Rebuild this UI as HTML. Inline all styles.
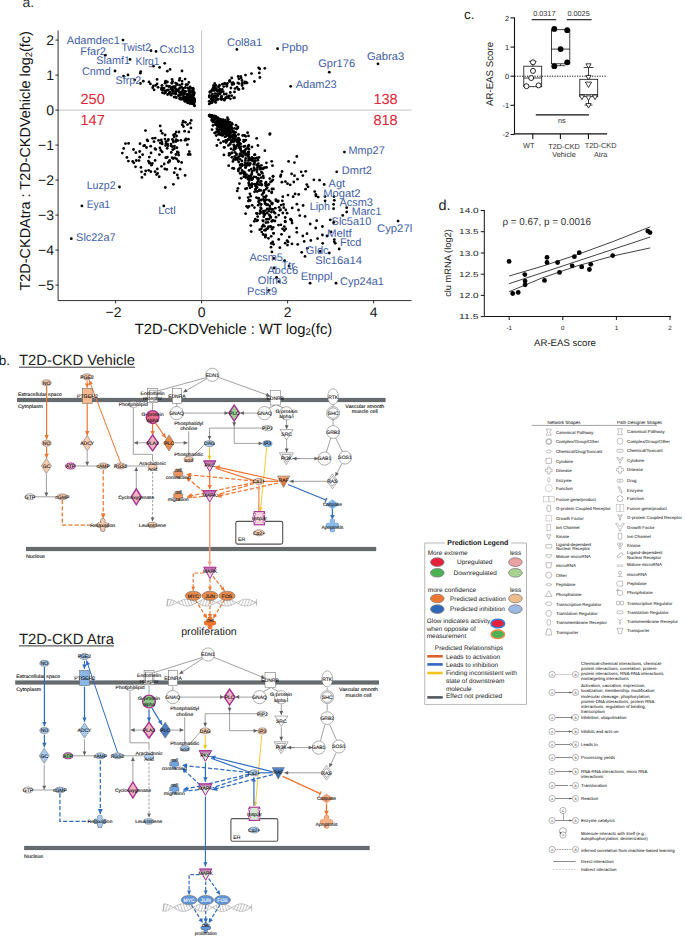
<!DOCTYPE html>
<html><head><meta charset="utf-8"><title>Figure</title>
<style>html,body{margin:0;padding:0;background:#fff}body{width:685px;height:937px;overflow:hidden;font-family:"Liberation Sans",sans-serif}svg{display:block}</style>
</head><body>
<svg width="685" height="937" viewBox="0 0 685 937" font-family="'Liberation Sans', sans-serif" text-rendering="geometricPrecision">
<defs><linearGradient id="gmag" x1="0" y1="0" x2="0" y2="1"><stop offset="0" stop-color="#b757a4"/><stop offset="0.45" stop-color="#e9b4d0"/><stop offset="1" stop-color="#fdeef3"/></linearGradient><linearGradient id="gmagg" x1="0" y1="0" x2="0" y2="1"><stop offset="0" stop-color="#b757a4"/><stop offset="0.4" stop-color="#cfe3cd"/><stop offset="1" stop-color="#e9f4e7"/></linearGradient><linearGradient id="gor" x1="0" y1="0" x2="0" y2="1"><stop offset="0" stop-color="#f4b48c"/><stop offset="0.4" stop-color="#e8834a"/><stop offset="1" stop-color="#e37a40"/></linearGradient><linearGradient id="gbl" x1="0" y1="0" x2="0" y2="1"><stop offset="0" stop-color="#5d8fd0"/><stop offset="0.4" stop-color="#3f73b8"/><stop offset="1" stop-color="#386bb0"/></linearGradient></defs>
<rect width="685" height="937" fill="#fff"/>
<g id="pa"><g fill="#000">
<circle cx="220.1" cy="128.7" r="1.4"/>
<circle cx="235.2" cy="137.2" r="1.4"/>
<circle cx="229.9" cy="129.7" r="1.4"/>
<circle cx="213.0" cy="117.7" r="1.4"/>
<circle cx="235.4" cy="147.3" r="1.4"/>
<circle cx="230.4" cy="123.8" r="1.4"/>
<circle cx="220.4" cy="134.3" r="1.4"/>
<circle cx="224.9" cy="124.2" r="1.4"/>
<circle cx="258.8" cy="165.9" r="1.4"/>
<circle cx="267.1" cy="213.2" r="1.4"/>
<circle cx="254.0" cy="167.7" r="1.4"/>
<circle cx="232.9" cy="141.4" r="1.4"/>
<circle cx="255.8" cy="184.6" r="1.4"/>
<circle cx="219.5" cy="119.2" r="1.4"/>
<circle cx="264.4" cy="213.6" r="1.4"/>
<circle cx="215.7" cy="121.2" r="1.4"/>
<circle cx="223.5" cy="125.6" r="1.4"/>
<circle cx="226.5" cy="135.5" r="1.4"/>
<circle cx="227.9" cy="134.1" r="1.4"/>
<circle cx="264.6" cy="201.6" r="1.4"/>
<circle cx="213.4" cy="118.5" r="1.4"/>
<circle cx="212.0" cy="129.6" r="1.4"/>
<circle cx="261.2" cy="204.5" r="1.4"/>
<circle cx="215.5" cy="119.2" r="1.4"/>
<circle cx="296.6" cy="228.1" r="1.4"/>
<circle cx="238.3" cy="157.5" r="1.4"/>
<circle cx="233.7" cy="134.3" r="1.4"/>
<circle cx="224.7" cy="126.2" r="1.4"/>
<circle cx="263.7" cy="168.0" r="1.4"/>
<circle cx="249.0" cy="206.4" r="1.4"/>
<circle cx="235.0" cy="138.6" r="1.4"/>
<circle cx="216.7" cy="120.6" r="1.4"/>
<circle cx="226.5" cy="129.8" r="1.4"/>
<circle cx="233.8" cy="131.7" r="1.4"/>
<circle cx="229.2" cy="131.6" r="1.4"/>
<circle cx="223.8" cy="125.9" r="1.4"/>
<circle cx="261.2" cy="183.8" r="1.4"/>
<circle cx="256.5" cy="164.8" r="1.4"/>
<circle cx="266.4" cy="162.8" r="1.4"/>
<circle cx="211.8" cy="120.6" r="1.4"/>
<circle cx="249.9" cy="184.9" r="1.4"/>
<circle cx="222.7" cy="123.6" r="1.4"/>
<circle cx="232.6" cy="168.2" r="1.4"/>
<circle cx="216.8" cy="128.7" r="1.4"/>
<circle cx="227.3" cy="140.6" r="1.4"/>
<circle cx="247.5" cy="163.0" r="1.4"/>
<circle cx="287.1" cy="240.6" r="1.4"/>
<circle cx="288.0" cy="241.8" r="1.4"/>
<circle cx="236.1" cy="148.2" r="1.4"/>
<circle cx="222.8" cy="132.8" r="1.4"/>
<circle cx="218.8" cy="123.1" r="1.4"/>
<circle cx="220.0" cy="122.3" r="1.4"/>
<circle cx="251.2" cy="177.8" r="1.4"/>
<circle cx="244.7" cy="174.3" r="1.4"/>
<circle cx="260.0" cy="169.2" r="1.4"/>
<circle cx="233.8" cy="159.3" r="1.4"/>
<circle cx="228.6" cy="135.4" r="1.4"/>
<circle cx="229.9" cy="125.4" r="1.4"/>
<circle cx="210.1" cy="115.1" r="1.4"/>
<circle cx="216.2" cy="119.1" r="1.4"/>
<circle cx="272.3" cy="203.1" r="1.4"/>
<circle cx="238.4" cy="144.0" r="1.4"/>
<circle cx="228.0" cy="121.5" r="1.4"/>
<circle cx="272.1" cy="204.0" r="1.4"/>
<circle cx="214.2" cy="117.6" r="1.4"/>
<circle cx="248.7" cy="145.2" r="1.4"/>
<circle cx="239.2" cy="147.4" r="1.4"/>
<circle cx="230.3" cy="127.6" r="1.4"/>
<circle cx="261.4" cy="171.9" r="1.4"/>
<circle cx="215.3" cy="117.1" r="1.4"/>
<circle cx="254.7" cy="169.3" r="1.4"/>
<circle cx="232.9" cy="161.4" r="1.4"/>
<circle cx="209.4" cy="115.2" r="1.4"/>
<circle cx="213.0" cy="125.4" r="1.4"/>
<circle cx="217.6" cy="121.2" r="1.4"/>
<circle cx="241.9" cy="160.9" r="1.4"/>
<circle cx="239.0" cy="142.3" r="1.4"/>
<circle cx="218.8" cy="123.4" r="1.4"/>
<circle cx="237.8" cy="128.1" r="1.4"/>
<circle cx="255.8" cy="177.1" r="1.4"/>
<circle cx="266.3" cy="195.9" r="1.4"/>
<circle cx="215.6" cy="119.7" r="1.4"/>
<circle cx="290.6" cy="219.2" r="1.4"/>
<circle cx="223.7" cy="123.4" r="1.4"/>
<circle cx="236.6" cy="129.0" r="1.4"/>
<circle cx="222.6" cy="127.9" r="1.4"/>
<circle cx="214.6" cy="132.8" r="1.4"/>
<circle cx="260.1" cy="210.7" r="1.4"/>
<circle cx="218.4" cy="134.3" r="1.4"/>
<circle cx="285.8" cy="210.0" r="1.4"/>
<circle cx="214.4" cy="117.7" r="1.4"/>
<circle cx="248.4" cy="146.5" r="1.4"/>
<circle cx="265.7" cy="235.0" r="1.4"/>
<circle cx="211.0" cy="116.7" r="1.4"/>
<circle cx="216.9" cy="145.5" r="1.4"/>
<circle cx="248.8" cy="176.0" r="1.4"/>
<circle cx="212.7" cy="119.0" r="1.4"/>
<circle cx="231.6" cy="137.0" r="1.4"/>
<circle cx="248.7" cy="152.0" r="1.4"/>
<circle cx="273.2" cy="227.3" r="1.4"/>
<circle cx="263.2" cy="234.5" r="1.4"/>
<circle cx="237.9" cy="127.0" r="1.4"/>
<circle cx="297.7" cy="244.4" r="1.4"/>
<circle cx="227.8" cy="128.9" r="1.4"/>
<circle cx="285.1" cy="221.2" r="1.4"/>
<circle cx="236.9" cy="140.1" r="1.4"/>
<circle cx="233.4" cy="138.0" r="1.4"/>
<circle cx="219.1" cy="132.7" r="1.4"/>
<circle cx="225.1" cy="132.5" r="1.4"/>
<circle cx="269.8" cy="205.9" r="1.4"/>
<circle cx="234.6" cy="156.6" r="1.4"/>
<circle cx="217.1" cy="124.1" r="1.4"/>
<circle cx="296.8" cy="156.5" r="1.4"/>
<circle cx="220.2" cy="128.7" r="1.4"/>
<circle cx="280.6" cy="209.7" r="1.4"/>
<circle cx="260.9" cy="190.4" r="1.4"/>
<circle cx="226.2" cy="124.1" r="1.4"/>
<circle cx="232.6" cy="137.6" r="1.4"/>
<circle cx="223.7" cy="120.9" r="1.4"/>
<circle cx="232.8" cy="130.9" r="1.4"/>
<circle cx="210.1" cy="115.3" r="1.4"/>
<circle cx="224.2" cy="147.3" r="1.4"/>
<circle cx="235.1" cy="139.6" r="1.4"/>
<circle cx="263.2" cy="221.1" r="1.4"/>
<circle cx="264.4" cy="215.0" r="1.4"/>
<circle cx="209.3" cy="115.3" r="1.4"/>
<circle cx="250.7" cy="196.2" r="1.4"/>
<circle cx="253.9" cy="176.9" r="1.4"/>
<circle cx="248.7" cy="158.1" r="1.4"/>
<circle cx="285.2" cy="217.5" r="1.4"/>
<circle cx="227.3" cy="129.2" r="1.4"/>
<circle cx="236.9" cy="158.5" r="1.4"/>
<circle cx="239.1" cy="144.1" r="1.4"/>
<circle cx="253.7" cy="164.4" r="1.4"/>
<circle cx="218.0" cy="126.7" r="1.4"/>
<circle cx="245.0" cy="153.3" r="1.4"/>
<circle cx="220.7" cy="128.0" r="1.4"/>
<circle cx="243.8" cy="146.5" r="1.4"/>
<circle cx="279.1" cy="207.3" r="1.4"/>
<circle cx="270.1" cy="216.2" r="1.4"/>
<circle cx="216.8" cy="121.2" r="1.4"/>
<circle cx="261.4" cy="185.1" r="1.4"/>
<circle cx="231.3" cy="141.8" r="1.4"/>
<circle cx="265.5" cy="230.3" r="1.4"/>
<circle cx="246.0" cy="176.0" r="1.4"/>
<circle cx="261.8" cy="232.1" r="1.4"/>
<circle cx="234.3" cy="141.4" r="1.4"/>
<circle cx="271.9" cy="189.0" r="1.4"/>
<circle cx="239.6" cy="156.0" r="1.4"/>
<circle cx="248.8" cy="160.2" r="1.4"/>
<circle cx="210.6" cy="115.5" r="1.4"/>
<circle cx="242.1" cy="165.7" r="1.4"/>
<circle cx="219.8" cy="125.3" r="1.4"/>
<circle cx="220.4" cy="134.8" r="1.4"/>
<circle cx="234.5" cy="134.4" r="1.4"/>
<circle cx="251.4" cy="178.0" r="1.4"/>
<circle cx="264.9" cy="167.6" r="1.4"/>
<circle cx="224.8" cy="127.7" r="1.4"/>
<circle cx="222.9" cy="126.7" r="1.4"/>
<circle cx="248.6" cy="160.4" r="1.4"/>
<circle cx="292.1" cy="223.1" r="1.4"/>
<circle cx="219.8" cy="119.7" r="1.4"/>
<circle cx="283.5" cy="204.5" r="1.4"/>
<circle cx="261.0" cy="200.1" r="1.4"/>
<circle cx="214.3" cy="115.9" r="1.4"/>
<circle cx="248.9" cy="157.8" r="1.4"/>
<circle cx="271.4" cy="212.1" r="1.4"/>
<circle cx="234.2" cy="136.5" r="1.4"/>
<circle cx="256.6" cy="187.3" r="1.4"/>
<circle cx="210.7" cy="116.3" r="1.4"/>
<circle cx="280.9" cy="174.9" r="1.4"/>
<circle cx="227.9" cy="129.1" r="1.4"/>
<circle cx="255.5" cy="186.1" r="1.4"/>
<circle cx="236.5" cy="146.0" r="1.4"/>
<circle cx="251.9" cy="157.3" r="1.4"/>
<circle cx="262.3" cy="226.5" r="1.4"/>
<circle cx="221.8" cy="130.1" r="1.4"/>
<circle cx="229.9" cy="136.4" r="1.4"/>
<circle cx="266.5" cy="228.9" r="1.4"/>
<circle cx="220.5" cy="123.5" r="1.4"/>
<circle cx="271.7" cy="203.3" r="1.4"/>
<circle cx="238.4" cy="142.5" r="1.4"/>
<circle cx="246.5" cy="174.6" r="1.4"/>
<circle cx="215.6" cy="121.1" r="1.4"/>
<circle cx="287.5" cy="183.7" r="1.4"/>
<circle cx="232.1" cy="140.3" r="1.4"/>
<circle cx="224.4" cy="121.9" r="1.4"/>
<circle cx="217.0" cy="125.5" r="1.4"/>
<circle cx="214.9" cy="116.9" r="1.4"/>
<circle cx="245.5" cy="167.6" r="1.4"/>
<circle cx="215.5" cy="121.9" r="1.4"/>
<circle cx="231.9" cy="128.3" r="1.4"/>
<circle cx="223.4" cy="141.5" r="1.4"/>
<circle cx="282.8" cy="213.0" r="1.4"/>
<circle cx="254.5" cy="163.0" r="1.4"/>
<circle cx="250.9" cy="159.5" r="1.4"/>
<circle cx="268.8" cy="184.4" r="1.4"/>
<circle cx="232.3" cy="140.9" r="1.4"/>
<circle cx="219.7" cy="125.8" r="1.4"/>
<circle cx="211.5" cy="116.5" r="1.4"/>
<circle cx="274.9" cy="221.0" r="1.4"/>
<circle cx="227.6" cy="131.6" r="1.4"/>
<circle cx="259.5" cy="189.9" r="1.4"/>
<circle cx="215.5" cy="124.6" r="1.4"/>
<circle cx="222.3" cy="130.4" r="1.4"/>
<circle cx="210.8" cy="116.9" r="1.4"/>
<circle cx="235.6" cy="132.3" r="1.4"/>
<circle cx="263.4" cy="199.5" r="1.4"/>
<circle cx="234.1" cy="147.1" r="1.4"/>
<circle cx="221.4" cy="126.7" r="1.4"/>
<circle cx="261.4" cy="168.4" r="1.4"/>
<circle cx="240.7" cy="143.8" r="1.4"/>
<circle cx="270.6" cy="226.9" r="1.4"/>
<circle cx="234.5" cy="128.3" r="1.4"/>
<circle cx="227.7" cy="127.7" r="1.4"/>
<circle cx="228.0" cy="125.4" r="1.4"/>
<circle cx="228.4" cy="129.8" r="1.4"/>
<circle cx="254.1" cy="161.1" r="1.4"/>
<circle cx="212.6" cy="116.6" r="1.4"/>
<circle cx="216.1" cy="121.1" r="1.4"/>
<circle cx="234.3" cy="146.5" r="1.4"/>
<circle cx="339.2" cy="249.0" r="1.4"/>
<circle cx="235.3" cy="159.5" r="1.4"/>
<circle cx="241.6" cy="152.5" r="1.4"/>
<circle cx="240.4" cy="149.4" r="1.4"/>
<circle cx="256.7" cy="184.6" r="1.4"/>
<circle cx="251.9" cy="186.7" r="1.4"/>
<circle cx="281.1" cy="205.1" r="1.4"/>
<circle cx="255.1" cy="161.2" r="1.4"/>
<circle cx="267.8" cy="228.5" r="1.4"/>
<circle cx="215.9" cy="116.5" r="1.4"/>
<circle cx="271.6" cy="192.8" r="1.4"/>
<circle cx="275.0" cy="213.2" r="1.4"/>
<circle cx="209.3" cy="116.1" r="1.4"/>
<circle cx="248.4" cy="201.1" r="1.4"/>
<circle cx="234.1" cy="137.7" r="1.4"/>
<circle cx="269.7" cy="208.5" r="1.4"/>
<circle cx="235.0" cy="136.0" r="1.4"/>
<circle cx="255.3" cy="219.2" r="1.4"/>
<circle cx="213.6" cy="118.2" r="1.4"/>
<circle cx="218.1" cy="130.4" r="1.4"/>
<circle cx="217.3" cy="121.5" r="1.4"/>
<circle cx="213.8" cy="117.4" r="1.4"/>
<circle cx="218.9" cy="132.6" r="1.4"/>
<circle cx="263.6" cy="213.8" r="1.4"/>
<circle cx="211.8" cy="119.7" r="1.4"/>
<circle cx="228.1" cy="139.5" r="1.4"/>
<circle cx="260.0" cy="167.5" r="1.4"/>
<circle cx="214.6" cy="116.9" r="1.4"/>
<circle cx="266.8" cy="204.9" r="1.4"/>
<circle cx="232.8" cy="131.7" r="1.4"/>
<circle cx="219.0" cy="123.0" r="1.4"/>
<circle cx="257.9" cy="145.5" r="1.4"/>
<circle cx="220.1" cy="124.0" r="1.4"/>
<circle cx="263.6" cy="196.8" r="1.4"/>
<circle cx="245.9" cy="164.5" r="1.4"/>
<circle cx="255.7" cy="189.4" r="1.4"/>
<circle cx="254.6" cy="191.8" r="1.4"/>
<circle cx="248.4" cy="156.2" r="1.4"/>
<circle cx="265.0" cy="203.5" r="1.4"/>
<circle cx="241.5" cy="155.1" r="1.4"/>
<circle cx="271.9" cy="251.9" r="1.4"/>
<circle cx="264.1" cy="190.4" r="1.4"/>
<circle cx="209.6" cy="115.1" r="1.4"/>
<circle cx="268.9" cy="219.2" r="1.4"/>
<circle cx="242.7" cy="135.5" r="1.4"/>
<circle cx="250.2" cy="200.5" r="1.4"/>
<circle cx="238.2" cy="138.6" r="1.4"/>
<circle cx="255.5" cy="189.4" r="1.4"/>
<circle cx="230.0" cy="144.3" r="1.4"/>
<circle cx="245.8" cy="149.3" r="1.4"/>
<circle cx="253.1" cy="158.4" r="1.4"/>
<circle cx="257.2" cy="213.5" r="1.4"/>
<circle cx="238.9" cy="145.8" r="1.4"/>
<circle cx="217.2" cy="124.4" r="1.4"/>
<circle cx="250.2" cy="163.4" r="1.4"/>
<circle cx="258.2" cy="205.2" r="1.4"/>
<circle cx="236.5" cy="154.9" r="1.4"/>
<circle cx="212.7" cy="118.2" r="1.4"/>
<circle cx="236.0" cy="125.2" r="1.4"/>
<circle cx="229.9" cy="122.1" r="1.4"/>
<circle cx="293.8" cy="182.0" r="1.4"/>
<circle cx="220.1" cy="128.3" r="1.4"/>
<circle cx="214.0" cy="116.8" r="1.4"/>
<circle cx="263.4" cy="211.1" r="1.4"/>
<circle cx="255.0" cy="154.7" r="1.4"/>
<circle cx="224.8" cy="132.4" r="1.4"/>
<circle cx="269.8" cy="178.6" r="1.4"/>
<circle cx="222.7" cy="126.3" r="1.4"/>
<circle cx="258.4" cy="174.5" r="1.4"/>
<circle cx="253.3" cy="161.2" r="1.4"/>
<circle cx="224.9" cy="128.6" r="1.4"/>
<circle cx="229.0" cy="133.9" r="1.4"/>
<circle cx="251.4" cy="185.6" r="1.4"/>
<circle cx="232.6" cy="130.8" r="1.4"/>
<circle cx="220.4" cy="122.1" r="1.4"/>
<circle cx="282.8" cy="196.7" r="1.4"/>
<circle cx="257.7" cy="216.6" r="1.4"/>
<circle cx="227.8" cy="134.3" r="1.4"/>
<circle cx="226.0" cy="136.3" r="1.4"/>
<circle cx="248.2" cy="197.6" r="1.4"/>
<circle cx="216.9" cy="121.7" r="1.4"/>
<circle cx="272.9" cy="209.4" r="1.4"/>
<circle cx="215.2" cy="116.5" r="1.4"/>
<circle cx="251.2" cy="169.1" r="1.4"/>
<circle cx="220.9" cy="129.8" r="1.4"/>
<circle cx="263.2" cy="175.9" r="1.4"/>
<circle cx="238.5" cy="134.4" r="1.4"/>
<circle cx="239.5" cy="198.0" r="1.4"/>
<circle cx="296.9" cy="204.2" r="1.4"/>
<circle cx="214.8" cy="119.1" r="1.4"/>
<circle cx="259.0" cy="157.5" r="1.4"/>
<circle cx="222.8" cy="129.3" r="1.4"/>
<circle cx="233.9" cy="168.5" r="1.4"/>
<circle cx="242.1" cy="164.5" r="1.4"/>
<circle cx="264.5" cy="230.2" r="1.4"/>
<circle cx="252.2" cy="183.8" r="1.4"/>
<circle cx="277.8" cy="201.6" r="1.4"/>
<circle cx="225.7" cy="140.5" r="1.4"/>
<circle cx="239.2" cy="139.6" r="1.4"/>
<circle cx="236.4" cy="153.8" r="1.4"/>
<circle cx="304.2" cy="241.4" r="1.4"/>
<circle cx="241.2" cy="178.3" r="1.4"/>
<circle cx="219.5" cy="123.1" r="1.4"/>
<circle cx="221.5" cy="128.7" r="1.4"/>
<circle cx="216.6" cy="119.8" r="1.4"/>
<circle cx="228.2" cy="139.7" r="1.4"/>
<circle cx="222.6" cy="129.2" r="1.4"/>
<circle cx="273.6" cy="233.3" r="1.4"/>
<circle cx="248.6" cy="154.2" r="1.4"/>
<circle cx="247.9" cy="152.5" r="1.4"/>
<circle cx="247.7" cy="164.1" r="1.4"/>
<circle cx="240.1" cy="165.0" r="1.4"/>
<circle cx="224.7" cy="129.4" r="1.4"/>
<circle cx="248.5" cy="135.9" r="1.4"/>
<circle cx="236.0" cy="135.8" r="1.4"/>
<circle cx="236.4" cy="140.2" r="1.4"/>
<circle cx="219.1" cy="121.7" r="1.4"/>
<circle cx="243.2" cy="151.4" r="1.4"/>
<circle cx="245.1" cy="146.2" r="1.4"/>
<circle cx="213.5" cy="119.9" r="1.4"/>
<circle cx="220.9" cy="127.9" r="1.4"/>
<circle cx="226.2" cy="132.2" r="1.4"/>
<circle cx="245.8" cy="177.6" r="1.4"/>
<circle cx="257.9" cy="181.6" r="1.4"/>
<circle cx="261.4" cy="228.8" r="1.4"/>
<circle cx="226.4" cy="129.3" r="1.4"/>
<circle cx="255.1" cy="160.7" r="1.4"/>
<circle cx="224.2" cy="122.7" r="1.4"/>
<circle cx="226.2" cy="142.6" r="1.4"/>
<circle cx="214.6" cy="119.1" r="1.4"/>
<circle cx="235.3" cy="135.8" r="1.4"/>
<circle cx="221.9" cy="134.7" r="1.4"/>
<circle cx="263.5" cy="177.8" r="1.4"/>
<circle cx="238.1" cy="139.5" r="1.4"/>
<circle cx="270.9" cy="209.2" r="1.4"/>
<circle cx="218.5" cy="126.8" r="1.4"/>
<circle cx="291.6" cy="173.8" r="1.4"/>
<circle cx="245.1" cy="162.6" r="1.4"/>
<circle cx="221.8" cy="126.1" r="1.4"/>
<circle cx="217.5" cy="120.0" r="1.4"/>
<circle cx="223.5" cy="133.9" r="1.4"/>
<circle cx="291.8" cy="220.7" r="1.4"/>
<circle cx="227.4" cy="117.7" r="1.4"/>
<circle cx="250.8" cy="225.6" r="1.4"/>
<circle cx="240.6" cy="167.8" r="1.4"/>
<circle cx="222.1" cy="120.6" r="1.4"/>
<circle cx="244.5" cy="164.9" r="1.4"/>
<circle cx="220.5" cy="119.3" r="1.4"/>
<circle cx="224.9" cy="133.6" r="1.4"/>
<circle cx="246.6" cy="165.7" r="1.4"/>
<circle cx="237.1" cy="141.8" r="1.4"/>
<circle cx="249.9" cy="193.8" r="1.4"/>
<circle cx="261.9" cy="184.9" r="1.4"/>
<circle cx="223.1" cy="134.5" r="1.4"/>
<circle cx="266.6" cy="199.8" r="1.4"/>
<circle cx="271.8" cy="192.0" r="1.4"/>
<circle cx="256.1" cy="184.4" r="1.4"/>
<circle cx="285.4" cy="181.6" r="1.4"/>
<circle cx="240.6" cy="173.2" r="1.4"/>
<circle cx="212.0" cy="117.0" r="1.4"/>
<circle cx="218.4" cy="121.9" r="1.4"/>
<circle cx="245.7" cy="136.3" r="1.4"/>
<circle cx="213.1" cy="118.2" r="1.4"/>
<circle cx="218.7" cy="119.7" r="1.4"/>
<circle cx="221.2" cy="128.2" r="1.4"/>
<circle cx="224.9" cy="121.7" r="1.4"/>
<circle cx="305.0" cy="256.4" r="1.4"/>
<circle cx="245.6" cy="167.3" r="1.4"/>
<circle cx="239.0" cy="139.9" r="1.4"/>
<circle cx="240.1" cy="159.3" r="1.4"/>
<circle cx="221.2" cy="123.5" r="1.4"/>
<circle cx="212.1" cy="115.3" r="1.4"/>
<circle cx="216.4" cy="118.2" r="1.4"/>
<circle cx="285.2" cy="243.2" r="1.4"/>
<circle cx="288.0" cy="195.1" r="1.4"/>
<circle cx="213.7" cy="117.7" r="1.4"/>
<circle cx="231.6" cy="127.5" r="1.4"/>
<circle cx="218.5" cy="139.8" r="1.4"/>
<circle cx="250.8" cy="177.4" r="1.4"/>
<circle cx="224.9" cy="136.8" r="1.4"/>
<circle cx="225.5" cy="131.4" r="1.4"/>
<circle cx="209.7" cy="115.4" r="1.4"/>
<circle cx="219.6" cy="127.1" r="1.4"/>
<circle cx="257.5" cy="165.7" r="1.4"/>
<circle cx="266.2" cy="189.1" r="1.4"/>
<circle cx="268.9" cy="190.9" r="1.4"/>
<circle cx="230.5" cy="128.8" r="1.4"/>
<circle cx="257.1" cy="183.2" r="1.4"/>
<circle cx="213.3" cy="116.6" r="1.4"/>
<circle cx="263.7" cy="212.4" r="1.4"/>
<circle cx="221.2" cy="124.8" r="1.4"/>
<circle cx="260.4" cy="182.4" r="1.4"/>
<circle cx="281.9" cy="182.2" r="1.4"/>
<circle cx="232.1" cy="152.9" r="1.4"/>
<circle cx="233.7" cy="132.8" r="1.4"/>
<circle cx="244.6" cy="150.6" r="1.4"/>
<circle cx="267.2" cy="208.9" r="1.4"/>
<circle cx="244.6" cy="135.5" r="1.4"/>
<circle cx="243.6" cy="141.6" r="1.4"/>
<circle cx="231.2" cy="136.7" r="1.4"/>
<circle cx="219.7" cy="120.4" r="1.4"/>
<circle cx="233.7" cy="144.8" r="1.4"/>
<circle cx="227.0" cy="128.8" r="1.4"/>
<circle cx="256.4" cy="197.6" r="1.4"/>
<circle cx="285.8" cy="228.8" r="1.4"/>
<circle cx="223.1" cy="119.6" r="1.4"/>
<circle cx="250.1" cy="164.1" r="1.4"/>
<circle cx="251.2" cy="231.6" r="1.4"/>
<circle cx="221.1" cy="133.5" r="1.4"/>
<circle cx="248.2" cy="177.5" r="1.4"/>
<circle cx="223.4" cy="130.3" r="1.4"/>
<circle cx="278.7" cy="215.1" r="1.4"/>
<circle cx="252.1" cy="171.1" r="1.4"/>
<circle cx="250.5" cy="158.9" r="1.4"/>
<circle cx="241.5" cy="164.1" r="1.4"/>
<circle cx="245.8" cy="154.4" r="1.4"/>
<circle cx="231.8" cy="152.8" r="1.4"/>
<circle cx="284.3" cy="226.6" r="1.4"/>
<circle cx="214.4" cy="122.0" r="1.4"/>
<circle cx="230.2" cy="143.6" r="1.4"/>
<circle cx="258.1" cy="198.3" r="1.4"/>
<circle cx="217.8" cy="121.8" r="1.4"/>
<circle cx="218.9" cy="132.5" r="1.4"/>
<circle cx="230.7" cy="132.3" r="1.4"/>
<circle cx="265.4" cy="183.3" r="1.4"/>
<circle cx="218.3" cy="123.6" r="1.4"/>
<circle cx="241.2" cy="155.4" r="1.4"/>
<circle cx="244.1" cy="173.5" r="1.4"/>
<circle cx="262.8" cy="220.6" r="1.4"/>
<circle cx="220.6" cy="142.9" r="1.4"/>
<circle cx="228.2" cy="128.2" r="1.4"/>
<circle cx="238.4" cy="171.0" r="1.4"/>
<circle cx="257.0" cy="172.0" r="1.4"/>
<circle cx="211.0" cy="116.1" r="1.4"/>
<circle cx="251.9" cy="147.0" r="1.4"/>
<circle cx="258.4" cy="180.0" r="1.4"/>
<circle cx="224.1" cy="133.4" r="1.4"/>
<circle cx="237.6" cy="159.8" r="1.4"/>
<circle cx="227.6" cy="129.4" r="1.4"/>
<circle cx="287.5" cy="245.1" r="1.4"/>
<circle cx="242.8" cy="156.4" r="1.4"/>
<circle cx="262.3" cy="173.2" r="1.4"/>
<circle cx="270.6" cy="226.3" r="1.4"/>
<circle cx="244.5" cy="151.4" r="1.4"/>
<circle cx="265.4" cy="197.5" r="1.4"/>
<circle cx="266.1" cy="185.2" r="1.4"/>
<circle cx="213.3" cy="116.8" r="1.4"/>
<circle cx="241.0" cy="146.6" r="1.4"/>
<circle cx="227.7" cy="128.7" r="1.4"/>
<circle cx="264.6" cy="214.4" r="1.4"/>
<circle cx="218.4" cy="130.6" r="1.4"/>
<circle cx="239.8" cy="143.8" r="1.4"/>
<circle cx="276.0" cy="217.2" r="1.4"/>
<circle cx="233.4" cy="136.2" r="1.4"/>
<circle cx="279.8" cy="247.7" r="1.4"/>
<circle cx="228.5" cy="122.2" r="1.4"/>
<circle cx="214.3" cy="119.1" r="1.4"/>
<circle cx="230.1" cy="139.4" r="1.4"/>
<circle cx="265.5" cy="210.7" r="1.4"/>
<circle cx="254.5" cy="184.2" r="1.4"/>
<circle cx="234.6" cy="149.2" r="1.4"/>
<circle cx="236.0" cy="157.9" r="1.4"/>
<circle cx="215.5" cy="121.2" r="1.4"/>
<circle cx="269.0" cy="200.1" r="1.4"/>
<circle cx="249.1" cy="185.5" r="1.4"/>
<circle cx="246.2" cy="155.3" r="1.4"/>
<circle cx="243.8" cy="153.3" r="1.4"/>
<circle cx="238.9" cy="142.7" r="1.4"/>
<circle cx="229.3" cy="130.8" r="1.4"/>
<circle cx="213.3" cy="117.7" r="1.4"/>
<circle cx="273.9" cy="211.9" r="1.4"/>
<circle cx="254.4" cy="207.6" r="1.4"/>
<circle cx="231.9" cy="157.3" r="1.4"/>
<circle cx="290.2" cy="184.8" r="1.4"/>
<circle cx="271.5" cy="209.2" r="1.4"/>
<circle cx="232.2" cy="141.5" r="1.4"/>
<circle cx="218.1" cy="124.0" r="1.4"/>
<circle cx="292.2" cy="207.9" r="1.4"/>
<circle cx="213.5" cy="117.0" r="1.4"/>
<circle cx="229.5" cy="134.0" r="1.4"/>
<circle cx="258.4" cy="201.8" r="1.4"/>
<circle cx="251.7" cy="160.6" r="1.4"/>
<circle cx="227.0" cy="124.2" r="1.4"/>
<circle cx="258.5" cy="178.6" r="1.4"/>
<circle cx="265.9" cy="185.8" r="1.4"/>
<circle cx="231.7" cy="123.1" r="1.4"/>
<circle cx="247.8" cy="147.8" r="1.4"/>
<circle cx="256.8" cy="220.9" r="1.4"/>
<circle cx="272.0" cy="229.2" r="1.4"/>
<circle cx="265.8" cy="204.0" r="1.4"/>
<circle cx="246.6" cy="206.3" r="1.4"/>
<circle cx="212.2" cy="118.0" r="1.4"/>
<circle cx="254.5" cy="154.9" r="1.4"/>
<circle cx="252.2" cy="159.8" r="1.4"/>
<circle cx="245.9" cy="140.1" r="1.4"/>
<circle cx="212.8" cy="120.9" r="1.4"/>
<circle cx="254.3" cy="221.3" r="1.4"/>
<circle cx="223.2" cy="131.3" r="1.4"/>
<circle cx="217.2" cy="119.4" r="1.4"/>
<circle cx="222.0" cy="123.7" r="1.4"/>
<circle cx="261.3" cy="199.9" r="1.4"/>
<circle cx="278.5" cy="225.1" r="1.4"/>
<circle cx="249.0" cy="184.0" r="1.4"/>
<circle cx="257.6" cy="179.0" r="1.4"/>
<circle cx="289.3" cy="236.9" r="1.4"/>
<circle cx="216.6" cy="131.7" r="1.4"/>
<circle cx="249.3" cy="165.3" r="1.4"/>
<circle cx="246.9" cy="154.7" r="1.4"/>
<circle cx="282.1" cy="171.5" r="1.4"/>
<circle cx="269.4" cy="208.8" r="1.4"/>
<circle cx="257.1" cy="169.7" r="1.4"/>
<circle cx="222.3" cy="135.4" r="1.4"/>
<circle cx="268.5" cy="238.3" r="1.4"/>
<circle cx="257.2" cy="191.5" r="1.4"/>
<circle cx="211.9" cy="116.6" r="1.4"/>
<circle cx="251.9" cy="184.0" r="1.4"/>
<circle cx="223.4" cy="122.2" r="1.4"/>
<circle cx="271.9" cy="181.1" r="1.4"/>
<circle cx="259.1" cy="200.6" r="1.4"/>
<circle cx="228.7" cy="165.7" r="1.4"/>
<circle cx="245.6" cy="213.7" r="1.4"/>
<circle cx="263.8" cy="216.7" r="1.4"/>
<circle cx="217.2" cy="125.4" r="1.4"/>
<circle cx="258.6" cy="198.2" r="1.4"/>
<circle cx="228.2" cy="119.3" r="1.4"/>
<circle cx="252.2" cy="205.3" r="1.4"/>
<circle cx="210.2" cy="115.3" r="1.4"/>
<circle cx="251.7" cy="179.8" r="1.4"/>
<circle cx="214.8" cy="120.1" r="1.4"/>
<circle cx="272.9" cy="179.8" r="1.4"/>
<circle cx="244.2" cy="173.9" r="1.4"/>
<circle cx="235.0" cy="152.4" r="1.4"/>
<circle cx="230.0" cy="128.3" r="1.4"/>
<circle cx="245.7" cy="158.4" r="1.4"/>
<circle cx="247.9" cy="207.6" r="1.4"/>
<circle cx="234.3" cy="147.6" r="1.4"/>
<circle cx="250.6" cy="176.1" r="1.4"/>
<circle cx="219.4" cy="123.3" r="1.4"/>
<circle cx="266.6" cy="167.4" r="1.4"/>
<circle cx="219.3" cy="123.7" r="1.4"/>
<circle cx="238.4" cy="169.3" r="1.4"/>
<circle cx="224.3" cy="147.3" r="1.4"/>
<circle cx="271.7" cy="221.4" r="1.4"/>
<circle cx="225.6" cy="126.3" r="1.4"/>
<circle cx="268.5" cy="226.6" r="1.4"/>
<circle cx="268.7" cy="211.2" r="1.4"/>
<circle cx="275.9" cy="199.6" r="1.4"/>
<circle cx="248.7" cy="182.8" r="1.4"/>
<circle cx="229.0" cy="155.3" r="1.4"/>
<circle cx="233.6" cy="138.7" r="1.4"/>
<circle cx="213.8" cy="117.8" r="1.4"/>
<circle cx="239.4" cy="183.6" r="1.4"/>
<circle cx="244.2" cy="141.3" r="1.4"/>
<circle cx="223.2" cy="124.3" r="1.4"/>
<circle cx="223.3" cy="134.3" r="1.4"/>
<circle cx="239.9" cy="153.9" r="1.4"/>
<circle cx="232.3" cy="124.2" r="1.4"/>
<circle cx="269.4" cy="214.9" r="1.4"/>
<circle cx="218.1" cy="118.1" r="1.4"/>
<circle cx="246.2" cy="148.8" r="1.4"/>
<circle cx="249.3" cy="178.9" r="1.4"/>
<circle cx="257.4" cy="167.8" r="1.4"/>
<circle cx="278.7" cy="239.4" r="1.4"/>
<circle cx="290.9" cy="219.5" r="1.4"/>
<circle cx="245.4" cy="188.8" r="1.4"/>
<circle cx="218.2" cy="119.9" r="1.4"/>
<circle cx="243.1" cy="155.7" r="1.4"/>
<circle cx="222.5" cy="124.0" r="1.4"/>
<circle cx="221.0" cy="120.1" r="1.4"/>
<circle cx="261.1" cy="181.2" r="1.4"/>
<circle cx="275.3" cy="208.2" r="1.4"/>
<circle cx="270.8" cy="217.5" r="1.4"/>
<circle cx="216.1" cy="118.6" r="1.4"/>
<circle cx="258.9" cy="184.7" r="1.4"/>
<circle cx="267.8" cy="184.9" r="1.4"/>
<circle cx="228.5" cy="125.0" r="1.4"/>
<circle cx="219.6" cy="122.6" r="1.4"/>
<circle cx="251.6" cy="174.4" r="1.4"/>
<circle cx="220.4" cy="126.9" r="1.4"/>
<circle cx="225.2" cy="123.0" r="1.4"/>
<circle cx="225.4" cy="120.1" r="1.4"/>
<circle cx="229.1" cy="153.5" r="1.4"/>
<circle cx="257.1" cy="187.5" r="1.4"/>
<circle cx="215.2" cy="133.2" r="1.4"/>
<circle cx="237.9" cy="144.2" r="1.4"/>
<circle cx="239.7" cy="167.9" r="1.4"/>
<circle cx="287.1" cy="213.2" r="1.4"/>
<circle cx="214.4" cy="121.7" r="1.4"/>
<circle cx="265.1" cy="200.5" r="1.4"/>
<circle cx="273.0" cy="220.5" r="1.4"/>
<circle cx="265.4" cy="237.2" r="1.4"/>
<circle cx="224.9" cy="127.7" r="1.4"/>
<circle cx="230.1" cy="154.1" r="1.4"/>
<circle cx="226.4" cy="129.1" r="1.4"/>
<circle cx="219.8" cy="120.0" r="1.4"/>
<circle cx="259.8" cy="213.6" r="1.4"/>
<circle cx="212.5" cy="116.1" r="1.4"/>
<circle cx="259.8" cy="174.8" r="1.4"/>
<circle cx="223.4" cy="125.3" r="1.4"/>
<circle cx="215.9" cy="123.3" r="1.4"/>
<circle cx="232.3" cy="135.4" r="1.4"/>
<circle cx="263.1" cy="168.8" r="1.4"/>
<circle cx="237.9" cy="188.3" r="1.4"/>
<circle cx="272.4" cy="220.6" r="1.4"/>
<circle cx="243.8" cy="171.9" r="1.4"/>
<circle cx="228.2" cy="135.3" r="1.4"/>
<circle cx="257.7" cy="178.1" r="1.4"/>
<circle cx="245.4" cy="160.4" r="1.4"/>
<circle cx="241.0" cy="150.7" r="1.4"/>
<circle cx="280.9" cy="224.8" r="1.4"/>
<circle cx="259.1" cy="190.6" r="1.4"/>
<circle cx="277.1" cy="201.1" r="1.4"/>
<circle cx="210.0" cy="115.3" r="1.4"/>
<circle cx="237.4" cy="145.2" r="1.4"/>
<circle cx="217.3" cy="121.7" r="1.4"/>
<circle cx="221.4" cy="130.7" r="1.4"/>
<circle cx="214.0" cy="116.6" r="1.4"/>
<circle cx="232.1" cy="128.6" r="1.4"/>
<circle cx="231.2" cy="125.8" r="1.4"/>
<circle cx="233.5" cy="149.9" r="1.4"/>
<circle cx="240.5" cy="148.9" r="1.4"/>
<circle cx="242.1" cy="170.5" r="1.4"/>
<circle cx="250.1" cy="187.8" r="1.4"/>
<circle cx="243.8" cy="176.7" r="1.4"/>
<circle cx="238.1" cy="139.7" r="1.4"/>
<circle cx="237.2" cy="190.9" r="1.4"/>
<circle cx="270.5" cy="182.0" r="1.4"/>
<circle cx="234.2" cy="136.5" r="1.4"/>
<circle cx="258.3" cy="163.6" r="1.4"/>
<circle cx="247.6" cy="153.9" r="1.4"/>
<circle cx="213.0" cy="122.0" r="1.4"/>
<circle cx="231.0" cy="148.8" r="1.4"/>
<circle cx="223.9" cy="154.9" r="1.4"/>
<circle cx="229.2" cy="131.0" r="1.4"/>
<circle cx="220.0" cy="123.4" r="1.4"/>
<circle cx="216.0" cy="124.7" r="1.4"/>
<circle cx="222.0" cy="121.1" r="1.4"/>
<circle cx="281.5" cy="234.3" r="1.4"/>
<circle cx="266.2" cy="219.3" r="1.4"/>
<circle cx="267.9" cy="222.3" r="1.4"/>
<circle cx="279.9" cy="210.3" r="1.4"/>
<circle cx="270.2" cy="201.3" r="1.4"/>
<circle cx="261.3" cy="208.8" r="1.4"/>
<circle cx="223.0" cy="130.5" r="1.4"/>
<circle cx="273.0" cy="176.2" r="1.4"/>
<circle cx="264.4" cy="226.2" r="1.4"/>
<circle cx="255.3" cy="158.4" r="1.4"/>
<circle cx="263.7" cy="192.2" r="1.4"/>
<circle cx="265.8" cy="185.0" r="1.4"/>
<circle cx="225.3" cy="121.4" r="1.4"/>
<circle cx="214.4" cy="121.1" r="1.4"/>
<circle cx="273.1" cy="176.6" r="1.4"/>
<circle cx="249.0" cy="200.2" r="1.4"/>
<circle cx="238.7" cy="162.0" r="1.4"/>
<circle cx="259.6" cy="203.4" r="1.4"/>
<circle cx="271.2" cy="243.4" r="1.4"/>
<circle cx="257.8" cy="160.2" r="1.4"/>
<circle cx="260.7" cy="207.7" r="1.4"/>
<circle cx="243.7" cy="140.1" r="1.4"/>
<circle cx="285.3" cy="221.9" r="1.4"/>
<circle cx="294.4" cy="162.6" r="1.4"/>
<circle cx="241.7" cy="172.9" r="1.4"/>
<circle cx="266.0" cy="222.6" r="1.4"/>
<circle cx="220.4" cy="119.5" r="1.4"/>
<circle cx="226.9" cy="132.9" r="1.4"/>
<circle cx="220.1" cy="126.2" r="1.4"/>
<circle cx="246.9" cy="188.4" r="1.4"/>
<circle cx="244.1" cy="151.2" r="1.4"/>
<circle cx="254.1" cy="170.3" r="1.4"/>
<circle cx="261.2" cy="212.5" r="1.4"/>
<circle cx="257.6" cy="220.2" r="1.4"/>
<circle cx="267.3" cy="219.2" r="1.4"/>
<circle cx="223.2" cy="129.4" r="1.4"/>
<circle cx="227.5" cy="128.2" r="1.4"/>
<circle cx="273.5" cy="233.3" r="1.4"/>
<circle cx="252.6" cy="178.9" r="1.4"/>
<circle cx="217.3" cy="122.4" r="1.4"/>
<circle cx="229.1" cy="125.2" r="1.4"/>
<circle cx="256.4" cy="213.3" r="1.4"/>
<circle cx="282.3" cy="200.8" r="1.4"/>
<circle cx="259.8" cy="229.7" r="1.4"/>
<circle cx="227.4" cy="123.3" r="1.4"/>
<circle cx="261.0" cy="177.6" r="1.4"/>
<circle cx="244.9" cy="172.6" r="1.4"/>
<circle cx="226.7" cy="129.4" r="1.4"/>
<circle cx="216.7" cy="120.0" r="1.4"/>
<circle cx="222.1" cy="123.5" r="1.4"/>
<circle cx="296.8" cy="232.3" r="1.4"/>
<circle cx="278.3" cy="201.0" r="1.4"/>
<circle cx="225.8" cy="141.7" r="1.4"/>
<circle cx="263.3" cy="224.9" r="1.4"/>
<circle cx="272.7" cy="242.0" r="1.4"/>
<circle cx="266.0" cy="182.2" r="1.4"/>
<circle cx="225.9" cy="124.8" r="1.4"/>
<circle cx="271.0" cy="247.2" r="1.4"/>
<circle cx="238.5" cy="145.3" r="1.4"/>
<circle cx="262.1" cy="194.6" r="1.4"/>
<circle cx="298.7" cy="194.4" r="1.4"/>
<circle cx="242.5" cy="156.2" r="1.4"/>
<circle cx="283.8" cy="207.7" r="1.4"/>
<circle cx="216.3" cy="135.6" r="1.4"/>
<circle cx="292.0" cy="243.9" r="1.4"/>
<circle cx="220.1" cy="119.2" r="1.4"/>
<circle cx="267.2" cy="187.6" r="1.4"/>
<circle cx="228.9" cy="124.3" r="1.4"/>
<circle cx="229.2" cy="136.8" r="1.4"/>
<circle cx="239.9" cy="148.1" r="1.4"/>
<circle cx="227.0" cy="122.6" r="1.4"/>
<circle cx="226.9" cy="122.0" r="1.4"/>
<circle cx="273.4" cy="188.9" r="1.4"/>
<circle cx="284.3" cy="230.5" r="1.4"/>
<circle cx="256.7" cy="138.3" r="1.4"/>
<circle cx="222.7" cy="134.9" r="1.4"/>
<circle cx="216.9" cy="120.2" r="1.4"/>
<circle cx="263.4" cy="193.0" r="1.4"/>
<circle cx="248.0" cy="178.9" r="1.4"/>
<circle cx="220.2" cy="121.4" r="1.4"/>
<circle cx="282.5" cy="228.8" r="1.4"/>
<circle cx="273.6" cy="244.3" r="1.4"/>
<circle cx="248.9" cy="149.2" r="1.4"/>
<circle cx="307.3" cy="248.3" r="1.4"/>
<circle cx="228.4" cy="145.4" r="1.4"/>
<circle cx="249.2" cy="180.6" r="1.4"/>
<circle cx="217.3" cy="124.8" r="1.4"/>
<circle cx="217.7" cy="117.7" r="1.4"/>
<circle cx="264.9" cy="150.7" r="1.4"/>
<circle cx="216.7" cy="119.0" r="1.4"/>
<circle cx="231.3" cy="136.8" r="1.4"/>
<circle cx="230.4" cy="133.5" r="1.4"/>
<circle cx="217.7" cy="121.2" r="1.4"/>
<circle cx="250.9" cy="177.9" r="1.4"/>
<circle cx="239.8" cy="139.9" r="1.4"/>
<circle cx="238.6" cy="138.2" r="1.4"/>
<circle cx="226.8" cy="126.3" r="1.4"/>
<circle cx="221.6" cy="134.6" r="1.4"/>
<circle cx="218.1" cy="122.1" r="1.4"/>
<circle cx="240.2" cy="173.4" r="1.4"/>
<circle cx="265.4" cy="235.8" r="1.4"/>
<circle cx="261.4" cy="165.3" r="1.4"/>
<circle cx="251.9" cy="173.1" r="1.4"/>
<circle cx="249.1" cy="170.4" r="1.4"/>
<circle cx="257.0" cy="157.9" r="1.4"/>
<circle cx="220.0" cy="121.7" r="1.4"/>
<circle cx="209.5" cy="115.4" r="1.4"/>
<circle cx="276.0" cy="200.7" r="1.4"/>
<circle cx="271.2" cy="236.3" r="1.4"/>
<circle cx="241.9" cy="165.7" r="1.4"/>
<circle cx="222.1" cy="129.4" r="1.4"/>
<circle cx="267.9" cy="204.7" r="1.4"/>
<circle cx="224.4" cy="126.3" r="1.4"/>
<circle cx="228.5" cy="126.7" r="1.4"/>
<circle cx="305.7" cy="171.3" r="1.4"/>
<circle cx="288.6" cy="161.4" r="1.4"/>
<circle cx="280.5" cy="176.5" r="1.4"/>
<circle cx="299.8" cy="215.6" r="1.4"/>
<circle cx="297.5" cy="179.2" r="1.4"/>
<circle cx="302.8" cy="175.6" r="1.4"/>
<circle cx="333.7" cy="222.5" r="1.4"/>
<circle cx="314.7" cy="191.6" r="1.4"/>
<circle cx="334.3" cy="241.8" r="1.4"/>
<circle cx="308.0" cy="186.8" r="1.4"/>
<circle cx="322.4" cy="226.5" r="1.4"/>
<circle cx="315.9" cy="194.4" r="1.4"/>
<circle cx="305.6" cy="189.2" r="1.4"/>
<circle cx="302.8" cy="236.0" r="1.4"/>
<circle cx="272.5" cy="165.7" r="1.4"/>
<circle cx="319.6" cy="180.2" r="1.4"/>
<circle cx="247.6" cy="132.7" r="1.4"/>
<circle cx="325.0" cy="196.6" r="1.4"/>
<circle cx="306.8" cy="184.6" r="1.4"/>
<circle cx="269.8" cy="134.4" r="1.4"/>
<circle cx="334.0" cy="196.6" r="1.4"/>
<circle cx="270.0" cy="133.6" r="1.4"/>
<circle cx="322.4" cy="235.0" r="1.4"/>
<circle cx="315.7" cy="228.0" r="1.4"/>
<circle cx="316.7" cy="220.7" r="1.4"/>
<circle cx="294.5" cy="175.7" r="1.4"/>
<circle cx="318.2" cy="197.1" r="1.4"/>
<circle cx="293.2" cy="196.7" r="1.4"/>
<circle cx="320.2" cy="251.4" r="1.4"/>
<circle cx="313.9" cy="179.8" r="1.4"/>
<circle cx="310.2" cy="224.0" r="1.4"/>
<circle cx="303.1" cy="205.5" r="1.4"/>
<circle cx="307.0" cy="233.7" r="1.4"/>
<circle cx="310.8" cy="240.5" r="1.4"/>
<circle cx="325.1" cy="200.8" r="1.4"/>
<circle cx="295.1" cy="193.9" r="1.4"/>
<circle cx="322.7" cy="243.3" r="1.4"/>
<circle cx="301.2" cy="171.8" r="1.4"/>
<circle cx="271.7" cy="161.3" r="1.4"/>
<circle cx="298.5" cy="210.0" r="1.4"/>
<circle cx="305.1" cy="216.4" r="1.4"/>
<circle cx="317.6" cy="238.6" r="1.4"/>
<circle cx="193.7" cy="92.0" r="1.4"/>
<circle cx="191.8" cy="99.5" r="1.4"/>
<circle cx="186.8" cy="101.0" r="1.4"/>
<circle cx="189.4" cy="97.9" r="1.4"/>
<circle cx="143.3" cy="81.2" r="1.4"/>
<circle cx="168.2" cy="90.0" r="1.4"/>
<circle cx="189.9" cy="97.8" r="1.4"/>
<circle cx="191.4" cy="98.6" r="1.4"/>
<circle cx="189.9" cy="101.8" r="1.4"/>
<circle cx="186.5" cy="99.5" r="1.4"/>
<circle cx="186.7" cy="102.1" r="1.4"/>
<circle cx="158.1" cy="87.3" r="1.4"/>
<circle cx="176.3" cy="97.7" r="1.4"/>
<circle cx="193.0" cy="101.2" r="1.4"/>
<circle cx="194.4" cy="100.8" r="1.4"/>
<circle cx="185.2" cy="99.1" r="1.4"/>
<circle cx="193.3" cy="102.7" r="1.4"/>
<circle cx="192.5" cy="101.7" r="1.4"/>
<circle cx="167.6" cy="94.5" r="1.4"/>
<circle cx="193.2" cy="96.1" r="1.4"/>
<circle cx="193.2" cy="104.1" r="1.4"/>
<circle cx="181.6" cy="86.9" r="1.4"/>
<circle cx="184.5" cy="99.3" r="1.4"/>
<circle cx="189.8" cy="95.0" r="1.4"/>
<circle cx="190.0" cy="93.5" r="1.4"/>
<circle cx="170.8" cy="89.2" r="1.4"/>
<circle cx="192.9" cy="98.0" r="1.4"/>
<circle cx="175.9" cy="93.4" r="1.4"/>
<circle cx="161.6" cy="89.2" r="1.4"/>
<circle cx="161.6" cy="89.4" r="1.4"/>
<circle cx="180.7" cy="97.6" r="1.4"/>
<circle cx="179.3" cy="80.3" r="1.4"/>
<circle cx="193.5" cy="102.0" r="1.4"/>
<circle cx="191.5" cy="98.3" r="1.4"/>
<circle cx="193.2" cy="94.3" r="1.4"/>
<circle cx="185.1" cy="91.3" r="1.4"/>
<circle cx="194.1" cy="103.0" r="1.4"/>
<circle cx="187.4" cy="97.2" r="1.4"/>
<circle cx="177.1" cy="84.0" r="1.4"/>
<circle cx="187.1" cy="94.3" r="1.4"/>
<circle cx="191.6" cy="88.3" r="1.4"/>
<circle cx="185.4" cy="87.5" r="1.4"/>
<circle cx="153.4" cy="66.2" r="1.4"/>
<circle cx="190.1" cy="86.9" r="1.4"/>
<circle cx="189.2" cy="98.8" r="1.4"/>
<circle cx="167.3" cy="71.2" r="1.4"/>
<circle cx="192.0" cy="102.6" r="1.4"/>
<circle cx="191.2" cy="100.1" r="1.4"/>
<circle cx="192.2" cy="91.7" r="1.4"/>
<circle cx="166.8" cy="90.4" r="1.4"/>
<circle cx="189.4" cy="100.2" r="1.4"/>
<circle cx="194.5" cy="99.9" r="1.4"/>
<circle cx="194.5" cy="105.8" r="1.4"/>
<circle cx="190.9" cy="102.8" r="1.4"/>
<circle cx="181.8" cy="93.5" r="1.4"/>
<circle cx="189.7" cy="102.1" r="1.4"/>
<circle cx="194.4" cy="92.9" r="1.4"/>
<circle cx="177.1" cy="90.6" r="1.4"/>
<circle cx="192.2" cy="97.1" r="1.4"/>
<circle cx="187.2" cy="100.3" r="1.4"/>
<circle cx="182.1" cy="83.9" r="1.4"/>
<circle cx="181.2" cy="91.9" r="1.4"/>
<circle cx="155.7" cy="85.4" r="1.4"/>
<circle cx="188.7" cy="90.7" r="1.4"/>
<circle cx="179.3" cy="88.4" r="1.4"/>
<circle cx="172.4" cy="90.8" r="1.4"/>
<circle cx="173.6" cy="93.3" r="1.4"/>
<circle cx="180.4" cy="88.0" r="1.4"/>
<circle cx="192.7" cy="103.1" r="1.4"/>
<circle cx="186.0" cy="84.7" r="1.4"/>
<circle cx="191.9" cy="103.5" r="1.4"/>
<circle cx="194.5" cy="99.1" r="1.4"/>
<circle cx="149.0" cy="81.9" r="1.4"/>
<circle cx="172.3" cy="87.7" r="1.4"/>
<circle cx="189.3" cy="96.9" r="1.4"/>
<circle cx="179.3" cy="92.5" r="1.4"/>
<circle cx="180.9" cy="94.6" r="1.4"/>
<circle cx="177.0" cy="89.7" r="1.4"/>
<circle cx="194.5" cy="100.7" r="1.4"/>
<circle cx="180.3" cy="99.2" r="1.4"/>
<circle cx="187.7" cy="96.2" r="1.4"/>
<circle cx="193.1" cy="91.4" r="1.4"/>
<circle cx="181.2" cy="98.9" r="1.4"/>
<circle cx="164.4" cy="93.3" r="1.4"/>
<circle cx="178.5" cy="95.8" r="1.4"/>
<circle cx="168.8" cy="86.5" r="1.4"/>
<circle cx="189.5" cy="88.3" r="1.4"/>
<circle cx="188.7" cy="95.6" r="1.4"/>
<circle cx="182.3" cy="94.6" r="1.4"/>
<circle cx="175.5" cy="91.5" r="1.4"/>
<circle cx="183.4" cy="88.5" r="1.4"/>
<circle cx="194.5" cy="101.6" r="1.4"/>
<circle cx="193.8" cy="94.9" r="1.4"/>
<circle cx="190.7" cy="99.2" r="1.4"/>
<circle cx="176.6" cy="90.9" r="1.4"/>
<circle cx="188.9" cy="94.6" r="1.4"/>
<circle cx="172.3" cy="89.4" r="1.4"/>
<circle cx="188.4" cy="95.1" r="1.4"/>
<circle cx="154.1" cy="89.8" r="1.4"/>
<circle cx="184.6" cy="93.8" r="1.4"/>
<circle cx="193.7" cy="101.2" r="1.4"/>
<circle cx="192.6" cy="101.1" r="1.4"/>
<circle cx="181.8" cy="99.0" r="1.4"/>
<circle cx="184.2" cy="99.7" r="1.4"/>
<circle cx="169.2" cy="92.9" r="1.4"/>
<circle cx="170.1" cy="69.4" r="1.4"/>
<circle cx="193.2" cy="89.6" r="1.4"/>
<circle cx="179.8" cy="78.4" r="1.4"/>
<circle cx="188.8" cy="82.4" r="1.4"/>
<circle cx="189.1" cy="91.8" r="1.4"/>
<circle cx="166.7" cy="85.9" r="1.4"/>
<circle cx="190.4" cy="96.3" r="1.4"/>
<circle cx="165.6" cy="81.2" r="1.4"/>
<circle cx="192.8" cy="88.7" r="1.4"/>
<circle cx="189.3" cy="102.2" r="1.4"/>
<circle cx="172.8" cy="90.6" r="1.4"/>
<circle cx="192.1" cy="103.2" r="1.4"/>
<circle cx="163.3" cy="90.2" r="1.4"/>
<circle cx="164.1" cy="88.1" r="1.4"/>
<circle cx="194.3" cy="101.2" r="1.4"/>
<circle cx="171.7" cy="83.0" r="1.4"/>
<circle cx="183.5" cy="96.3" r="1.4"/>
<circle cx="189.8" cy="99.7" r="1.4"/>
<circle cx="165.1" cy="83.2" r="1.4"/>
<circle cx="187.6" cy="96.9" r="1.4"/>
<circle cx="165.3" cy="90.9" r="1.4"/>
<circle cx="193.1" cy="98.2" r="1.4"/>
<circle cx="192.2" cy="99.1" r="1.4"/>
<circle cx="185.0" cy="96.9" r="1.4"/>
<circle cx="161.7" cy="87.7" r="1.4"/>
<circle cx="179.7" cy="85.2" r="1.4"/>
<circle cx="178.7" cy="95.5" r="1.4"/>
<circle cx="189.7" cy="97.8" r="1.4"/>
<circle cx="185.1" cy="79.1" r="1.4"/>
<circle cx="187.8" cy="88.0" r="1.4"/>
<circle cx="186.9" cy="100.1" r="1.4"/>
<circle cx="175.3" cy="96.9" r="1.4"/>
<circle cx="191.0" cy="99.4" r="1.4"/>
<circle cx="182.0" cy="71.0" r="1.4"/>
<circle cx="179.8" cy="95.1" r="1.4"/>
<circle cx="193.7" cy="98.1" r="1.4"/>
<circle cx="185.9" cy="97.8" r="1.4"/>
<circle cx="191.9" cy="96.9" r="1.4"/>
<circle cx="190.5" cy="100.1" r="1.4"/>
<circle cx="186.0" cy="100.2" r="1.4"/>
<circle cx="172.1" cy="79.4" r="1.4"/>
<circle cx="183.3" cy="93.5" r="1.4"/>
<circle cx="193.7" cy="94.3" r="1.4"/>
<circle cx="187.6" cy="99.1" r="1.4"/>
<circle cx="182.8" cy="90.1" r="1.4"/>
<circle cx="194.1" cy="98.9" r="1.4"/>
<circle cx="174.9" cy="87.7" r="1.4"/>
<circle cx="186.0" cy="99.3" r="1.4"/>
<circle cx="191.8" cy="91.6" r="1.4"/>
<circle cx="170.3" cy="86.7" r="1.4"/>
<circle cx="187.3" cy="94.6" r="1.4"/>
<circle cx="140.7" cy="71.6" r="1.4"/>
<circle cx="179.6" cy="98.4" r="1.4"/>
<circle cx="190.8" cy="98.3" r="1.4"/>
<circle cx="172.1" cy="83.0" r="1.4"/>
<circle cx="190.8" cy="91.7" r="1.4"/>
<circle cx="175.7" cy="93.7" r="1.4"/>
<circle cx="182.1" cy="81.1" r="1.4"/>
<circle cx="187.7" cy="95.1" r="1.4"/>
<circle cx="172.9" cy="93.1" r="1.4"/>
<circle cx="172.0" cy="88.5" r="1.4"/>
<circle cx="184.8" cy="101.3" r="1.4"/>
<circle cx="191.1" cy="101.0" r="1.4"/>
<circle cx="173.3" cy="86.7" r="1.4"/>
<circle cx="175.2" cy="86.4" r="1.4"/>
<circle cx="183.4" cy="92.0" r="1.4"/>
<circle cx="191.5" cy="100.5" r="1.4"/>
<circle cx="193.2" cy="100.7" r="1.4"/>
<circle cx="181.9" cy="98.5" r="1.4"/>
<circle cx="192.9" cy="103.6" r="1.4"/>
<circle cx="184.0" cy="98.1" r="1.4"/>
<circle cx="153.4" cy="85.8" r="1.4"/>
<circle cx="177.1" cy="90.3" r="1.4"/>
<circle cx="150.4" cy="83.9" r="1.4"/>
<circle cx="191.4" cy="98.8" r="1.4"/>
<circle cx="194.4" cy="105.4" r="1.4"/>
<circle cx="190.0" cy="101.2" r="1.4"/>
<circle cx="187.9" cy="101.4" r="1.4"/>
<circle cx="190.5" cy="95.5" r="1.4"/>
<circle cx="189.3" cy="96.2" r="1.4"/>
<circle cx="175.6" cy="93.8" r="1.4"/>
<circle cx="171.5" cy="88.0" r="1.4"/>
<circle cx="188.8" cy="101.6" r="1.4"/>
<circle cx="180.8" cy="98.9" r="1.4"/>
<circle cx="162.4" cy="92.7" r="1.4"/>
<circle cx="190.7" cy="96.5" r="1.4"/>
<circle cx="188.3" cy="96.3" r="1.4"/>
<circle cx="191.6" cy="94.7" r="1.4"/>
<circle cx="134.7" cy="79.8" r="1.4"/>
<circle cx="194.1" cy="102.0" r="1.4"/>
<circle cx="192.3" cy="97.4" r="1.4"/>
<circle cx="171.2" cy="95.2" r="1.4"/>
<circle cx="165.5" cy="92.6" r="1.4"/>
<circle cx="173.3" cy="90.7" r="1.4"/>
<circle cx="188.6" cy="98.1" r="1.4"/>
<circle cx="188.5" cy="100.7" r="1.4"/>
<circle cx="152.7" cy="87.7" r="1.4"/>
<circle cx="172.7" cy="81.6" r="1.4"/>
<circle cx="193.2" cy="88.5" r="1.4"/>
<circle cx="189.1" cy="91.7" r="1.4"/>
<circle cx="174.1" cy="97.1" r="1.4"/>
<circle cx="187.5" cy="84.6" r="1.4"/>
<circle cx="169.9" cy="92.1" r="1.4"/>
<circle cx="194.3" cy="98.9" r="1.4"/>
<circle cx="165.6" cy="82.0" r="1.4"/>
<circle cx="140.4" cy="83.5" r="1.4"/>
<circle cx="175.4" cy="88.8" r="1.4"/>
<circle cx="189.9" cy="103.4" r="1.4"/>
<circle cx="190.0" cy="103.3" r="1.4"/>
<circle cx="178.5" cy="90.4" r="1.4"/>
<circle cx="186.8" cy="97.1" r="1.4"/>
<circle cx="167.4" cy="82.0" r="1.4"/>
<circle cx="184.7" cy="99.9" r="1.4"/>
<circle cx="170.7" cy="94.6" r="1.4"/>
<circle cx="186.6" cy="99.2" r="1.4"/>
<circle cx="185.6" cy="91.5" r="1.4"/>
<circle cx="162.0" cy="85.3" r="1.4"/>
<circle cx="128.0" cy="75.0" r="1.4"/>
<circle cx="192.8" cy="99.5" r="1.4"/>
<circle cx="157.1" cy="83.9" r="1.4"/>
<circle cx="177.0" cy="84.5" r="1.4"/>
<circle cx="189.4" cy="89.9" r="1.4"/>
<circle cx="182.7" cy="91.8" r="1.4"/>
<circle cx="192.0" cy="100.3" r="1.4"/>
<circle cx="170.5" cy="93.5" r="1.4"/>
<circle cx="175.6" cy="83.1" r="1.4"/>
<circle cx="172.3" cy="89.4" r="1.4"/>
<circle cx="157.1" cy="79.4" r="1.4"/>
<circle cx="181.5" cy="93.6" r="1.4"/>
<circle cx="182.1" cy="99.1" r="1.4"/>
<circle cx="186.6" cy="96.8" r="1.4"/>
<circle cx="188.1" cy="98.0" r="1.4"/>
<circle cx="187.8" cy="102.8" r="1.4"/>
<circle cx="221.7" cy="96.6" r="1.4"/>
<circle cx="218.2" cy="99.2" r="1.4"/>
<circle cx="224.6" cy="99.3" r="1.4"/>
<circle cx="213.3" cy="87.4" r="1.4"/>
<circle cx="211.9" cy="99.8" r="1.4"/>
<circle cx="232.0" cy="83.1" r="1.4"/>
<circle cx="216.5" cy="90.2" r="1.4"/>
<circle cx="215.2" cy="97.6" r="1.4"/>
<circle cx="222.3" cy="89.5" r="1.4"/>
<circle cx="218.8" cy="93.6" r="1.4"/>
<circle cx="214.5" cy="88.6" r="1.4"/>
<circle cx="213.8" cy="100.1" r="1.4"/>
<circle cx="224.8" cy="83.8" r="1.4"/>
<circle cx="217.2" cy="90.1" r="1.4"/>
<circle cx="213.9" cy="96.2" r="1.4"/>
<circle cx="215.9" cy="98.6" r="1.4"/>
<circle cx="211.9" cy="100.9" r="1.4"/>
<circle cx="217.1" cy="99.9" r="1.4"/>
<circle cx="238.2" cy="76.5" r="1.4"/>
<circle cx="217.4" cy="91.3" r="1.4"/>
<circle cx="234.5" cy="97.7" r="1.4"/>
<circle cx="233.8" cy="84.0" r="1.4"/>
<circle cx="211.0" cy="98.8" r="1.4"/>
<circle cx="217.1" cy="90.1" r="1.4"/>
<circle cx="215.0" cy="93.6" r="1.4"/>
<circle cx="211.0" cy="102.9" r="1.4"/>
<circle cx="218.5" cy="86.9" r="1.4"/>
<circle cx="235.0" cy="88.6" r="1.4"/>
<circle cx="228.4" cy="97.7" r="1.4"/>
<circle cx="245.5" cy="75.1" r="1.4"/>
<circle cx="212.8" cy="98.7" r="1.4"/>
<circle cx="238.9" cy="78.8" r="1.4"/>
<circle cx="245.0" cy="81.9" r="1.4"/>
<circle cx="224.2" cy="94.2" r="1.4"/>
<circle cx="237.8" cy="82.9" r="1.4"/>
<circle cx="212.4" cy="94.1" r="1.4"/>
<circle cx="212.6" cy="97.4" r="1.4"/>
<circle cx="209.6" cy="95.6" r="1.4"/>
<circle cx="221.8" cy="98.8" r="1.4"/>
<circle cx="218.8" cy="90.2" r="1.4"/>
<circle cx="237.0" cy="87.2" r="1.4"/>
<circle cx="209.4" cy="96.0" r="1.4"/>
<circle cx="211.1" cy="102.1" r="1.4"/>
<circle cx="223.7" cy="86.6" r="1.4"/>
<circle cx="220.1" cy="93.8" r="1.4"/>
<circle cx="217.8" cy="94.6" r="1.4"/>
<circle cx="230.9" cy="88.0" r="1.4"/>
<circle cx="224.3" cy="100.2" r="1.4"/>
<circle cx="209.3" cy="97.0" r="1.4"/>
<circle cx="219.8" cy="89.2" r="1.4"/>
<circle cx="230.4" cy="98.8" r="1.4"/>
<circle cx="221.0" cy="92.0" r="1.4"/>
<circle cx="229.7" cy="80.4" r="1.4"/>
<circle cx="220.8" cy="98.3" r="1.4"/>
<circle cx="238.1" cy="89.1" r="1.4"/>
<circle cx="226.7" cy="86.3" r="1.4"/>
<circle cx="215.7" cy="102.4" r="1.4"/>
<circle cx="215.3" cy="87.0" r="1.4"/>
<circle cx="230.3" cy="92.5" r="1.4"/>
<circle cx="214.7" cy="83.4" r="1.4"/>
<circle cx="223.9" cy="99.5" r="1.4"/>
<circle cx="213.7" cy="89.3" r="1.4"/>
<circle cx="231.6" cy="95.7" r="1.4"/>
<circle cx="219.5" cy="85.2" r="1.4"/>
<circle cx="234.5" cy="91.9" r="1.4"/>
<circle cx="243.0" cy="88.5" r="1.4"/>
<circle cx="233.1" cy="82.6" r="1.4"/>
<circle cx="209.2" cy="101.3" r="1.4"/>
<circle cx="218.6" cy="90.7" r="1.4"/>
<circle cx="242.0" cy="80.4" r="1.4"/>
<circle cx="227.4" cy="83.3" r="1.4"/>
<circle cx="209.2" cy="103.9" r="1.4"/>
<circle cx="229.9" cy="81.4" r="1.4"/>
<circle cx="223.2" cy="91.7" r="1.4"/>
<circle cx="222.4" cy="84.2" r="1.4"/>
<circle cx="242.1" cy="85.5" r="1.4"/>
<circle cx="211.2" cy="91.4" r="1.4"/>
<circle cx="214.3" cy="86.2" r="1.4"/>
<circle cx="226.3" cy="94.0" r="1.4"/>
<circle cx="229.7" cy="81.2" r="1.4"/>
<circle cx="216.3" cy="88.6" r="1.4"/>
<circle cx="217.4" cy="93.8" r="1.4"/>
<circle cx="210.0" cy="91.6" r="1.4"/>
<circle cx="215.9" cy="85.3" r="1.4"/>
<circle cx="232.1" cy="84.5" r="1.4"/>
<circle cx="209.9" cy="92.4" r="1.4"/>
<circle cx="214.9" cy="101.4" r="1.4"/>
<circle cx="221.3" cy="98.0" r="1.4"/>
<circle cx="221.3" cy="99.5" r="1.4"/>
<circle cx="227.0" cy="85.1" r="1.4"/>
<circle cx="212.2" cy="102.5" r="1.4"/>
<circle cx="229.1" cy="95.9" r="1.4"/>
<circle cx="227.2" cy="96.7" r="1.4"/>
<circle cx="246.1" cy="82.4" r="1.4"/>
<circle cx="216.6" cy="97.9" r="1.4"/>
<circle cx="239.0" cy="83.6" r="1.4"/>
<circle cx="218.9" cy="86.3" r="1.4"/>
<circle cx="220.2" cy="92.2" r="1.4"/>
<circle cx="218.1" cy="95.7" r="1.4"/>
<circle cx="215.9" cy="95.9" r="1.4"/>
<circle cx="233.7" cy="97.9" r="1.4"/>
<circle cx="211.8" cy="95.8" r="1.4"/>
<circle cx="220.8" cy="91.3" r="1.4"/>
<circle cx="212.1" cy="89.6" r="1.4"/>
<circle cx="225.7" cy="97.6" r="1.4"/>
<circle cx="214.3" cy="90.5" r="1.4"/>
<circle cx="240.7" cy="76.4" r="1.4"/>
<circle cx="214.7" cy="100.7" r="1.4"/>
<circle cx="224.6" cy="83.4" r="1.4"/>
<circle cx="221.5" cy="96.3" r="1.4"/>
<circle cx="213.0" cy="90.3" r="1.4"/>
<circle cx="231.7" cy="78.0" r="1.4"/>
<circle cx="226.6" cy="97.8" r="1.4"/>
<circle cx="213.6" cy="85.3" r="1.4"/>
<circle cx="213.7" cy="88.8" r="1.4"/>
<circle cx="213.2" cy="97.3" r="1.4"/>
<circle cx="242.4" cy="82.7" r="1.4"/>
<circle cx="241.1" cy="78.0" r="1.4"/>
<circle cx="242.1" cy="84.0" r="1.4"/>
<circle cx="258.6" cy="67.8" r="1.4"/>
<circle cx="251.5" cy="73.6" r="1.4"/>
<circle cx="247.1" cy="82.9" r="1.4"/>
<circle cx="259.3" cy="72.9" r="1.4"/>
<circle cx="254.4" cy="81.5" r="1.4"/>
<circle cx="259.8" cy="68.9" r="1.4"/>
<circle cx="244.9" cy="83.2" r="1.4"/>
<circle cx="259.9" cy="77.5" r="1.4"/>
<circle cx="264.8" cy="68.3" r="1.4"/>
<circle cx="238.9" cy="89.5" r="1.4"/>
<circle cx="159.4" cy="154.6" r="1.4"/>
<circle cx="168.4" cy="139.4" r="1.4"/>
<circle cx="128.6" cy="143.4" r="1.4"/>
<circle cx="144.9" cy="174.4" r="1.4"/>
<circle cx="148.7" cy="170.3" r="1.4"/>
<circle cx="161.5" cy="166.3" r="1.4"/>
<circle cx="188.8" cy="131.9" r="1.4"/>
<circle cx="162.2" cy="151.9" r="1.4"/>
<circle cx="172.4" cy="139.4" r="1.4"/>
<circle cx="165.3" cy="187.5" r="1.4"/>
<circle cx="172.1" cy="157.7" r="1.4"/>
<circle cx="156.5" cy="174.6" r="1.4"/>
<circle cx="173.3" cy="141.0" r="1.4"/>
<circle cx="144.6" cy="145.5" r="1.4"/>
<circle cx="178.6" cy="155.0" r="1.4"/>
<circle cx="161.3" cy="140.0" r="1.4"/>
<circle cx="183.0" cy="122.2" r="1.4"/>
<circle cx="190.2" cy="154.5" r="1.4"/>
<circle cx="174.5" cy="146.1" r="1.4"/>
<circle cx="160.8" cy="150.4" r="1.4"/>
<circle cx="133.9" cy="162.8" r="1.4"/>
<circle cx="190.9" cy="127.9" r="1.4"/>
<circle cx="136.3" cy="160.5" r="1.4"/>
<circle cx="139.7" cy="157.2" r="1.4"/>
<circle cx="167.2" cy="148.3" r="1.4"/>
<circle cx="167.9" cy="140.6" r="1.4"/>
<circle cx="178.1" cy="178.0" r="1.4"/>
<circle cx="155.1" cy="171.7" r="1.4"/>
<circle cx="146.5" cy="147.5" r="1.4"/>
<circle cx="151.0" cy="152.9" r="1.4"/>
<circle cx="145.5" cy="130.6" r="1.4"/>
<circle cx="177.3" cy="175.0" r="1.4"/>
<circle cx="176.2" cy="132.0" r="1.4"/>
<circle cx="141.9" cy="177.4" r="1.4"/>
<circle cx="185.1" cy="175.4" r="1.4"/>
<circle cx="191.2" cy="120.4" r="1.4"/>
<circle cx="133.5" cy="149.5" r="1.4"/>
<circle cx="161.9" cy="142.1" r="1.4"/>
<circle cx="176.2" cy="139.7" r="1.4"/>
<circle cx="184.6" cy="131.2" r="1.4"/>
<circle cx="154.0" cy="141.7" r="1.4"/>
<circle cx="171.2" cy="145.9" r="1.4"/>
<circle cx="162.2" cy="143.9" r="1.4"/>
<circle cx="155.0" cy="148.7" r="1.4"/>
<circle cx="149.6" cy="163.2" r="1.4"/>
<circle cx="178.3" cy="152.7" r="1.4"/>
<circle cx="161.0" cy="130.9" r="1.4"/>
<circle cx="155.7" cy="149.4" r="1.4"/>
<circle cx="178.5" cy="161.6" r="1.4"/>
<circle cx="165.1" cy="135.0" r="1.4"/>
<circle cx="135.5" cy="166.8" r="1.4"/>
<circle cx="165.0" cy="139.1" r="1.4"/>
<circle cx="167.4" cy="157.1" r="1.4"/>
<circle cx="185.9" cy="138.9" r="1.4"/>
<circle cx="180.1" cy="169.2" r="1.4"/>
<circle cx="143.7" cy="145.9" r="1.4"/>
<circle cx="155.2" cy="138.1" r="1.4"/>
<circle cx="152.3" cy="163.5" r="1.4"/>
<circle cx="160.3" cy="143.1" r="1.4"/>
<circle cx="166.0" cy="141.6" r="1.4"/>
<circle cx="164.2" cy="164.0" r="1.4"/>
<circle cx="174.7" cy="157.8" r="1.4"/>
<circle cx="128.4" cy="161.1" r="1.4"/>
<circle cx="125.5" cy="143.6" r="1.4"/>
<circle cx="176.9" cy="147.7" r="1.4"/>
<circle cx="174.9" cy="134.2" r="1.4"/>
<circle cx="179.0" cy="132.0" r="1.4"/>
<circle cx="183.4" cy="126.5" r="1.4"/>
<circle cx="171.0" cy="144.1" r="1.4"/>
<circle cx="171.3" cy="152.4" r="1.4"/>
<circle cx="158.6" cy="140.4" r="1.4"/>
<circle cx="188.4" cy="139.2" r="1.4"/>
<circle cx="175.9" cy="154.5" r="1.4"/>
<circle cx="149.3" cy="157.1" r="1.4"/>
<circle cx="157.3" cy="168.9" r="1.4"/>
<circle cx="173.1" cy="158.6" r="1.4"/>
<circle cx="123.7" cy="148.4" r="1.4"/>
<circle cx="159.2" cy="176.7" r="1.4"/>
<circle cx="189.3" cy="151.7" r="1.4"/>
<circle cx="173.5" cy="135.0" r="1.4"/>
<circle cx="181.6" cy="162.5" r="1.4"/>
<circle cx="166.0" cy="143.5" r="1.4"/>
<circle cx="148.4" cy="161.1" r="1.4"/>
<circle cx="182.2" cy="124.7" r="1.4"/>
<circle cx="172.3" cy="146.6" r="1.4"/>
<circle cx="150.8" cy="171.7" r="1.4"/>
<circle cx="177.8" cy="140.6" r="1.4"/>
<circle cx="175.9" cy="141.5" r="1.4"/>
<circle cx="165.6" cy="145.5" r="1.4"/>
<circle cx="169.5" cy="161.5" r="1.4"/>
<circle cx="135.9" cy="152.7" r="1.4"/>
<circle cx="176.6" cy="136.0" r="1.4"/>
<circle cx="168.0" cy="145.7" r="1.4"/>
<circle cx="185.0" cy="140.2" r="1.4"/>
<circle cx="168.3" cy="162.4" r="1.4"/>
<circle cx="174.2" cy="172.7" r="1.4"/>
<circle cx="139.7" cy="151.5" r="1.4"/>
<circle cx="190.0" cy="123.2" r="1.4"/>
<circle cx="126.9" cy="157.4" r="1.4"/>
<circle cx="159.9" cy="147.9" r="1.4"/>
<circle cx="160.2" cy="125.9" r="1.4"/>
<circle cx="173.4" cy="184.3" r="1.4"/>
<circle cx="174.2" cy="136.9" r="1.4"/>
<circle cx="122.3" cy="153.1" r="1.4"/>
<circle cx="187.4" cy="144.7" r="1.4"/>
<circle cx="165.8" cy="157.7" r="1.4"/>
<circle cx="166.8" cy="169.4" r="1.4"/>
<circle cx="175.4" cy="168.3" r="1.4"/>
<circle cx="155.1" cy="160.4" r="1.4"/>
<circle cx="185.4" cy="122.3" r="1.4"/>
<circle cx="172.7" cy="149.7" r="1.4"/>
<circle cx="166.2" cy="157.8" r="1.4"/>
<circle cx="183.2" cy="121.1" r="1.4"/>
<circle cx="145.7" cy="171.0" r="1.4"/>
<circle cx="186.1" cy="140.1" r="1.4"/>
<circle cx="162.3" cy="133.3" r="1.4"/>
<circle cx="152.6" cy="138.3" r="1.4"/>
<circle cx="173.4" cy="142.1" r="1.4"/>
<circle cx="157.6" cy="173.4" r="1.4"/>
<circle cx="164.8" cy="168.9" r="1.4"/>
<circle cx="174.4" cy="148.5" r="1.4"/>
<circle cx="140.0" cy="143.7" r="1.4"/>
<circle cx="150.7" cy="146.2" r="1.4"/>
<circle cx="149.3" cy="162.5" r="1.4"/>
<circle cx="142.6" cy="154.7" r="1.4"/>
<circle cx="180.9" cy="140.3" r="1.4"/>
<circle cx="178.1" cy="160.8" r="1.4"/>
<circle cx="147.1" cy="139.9" r="1.4"/>
<circle cx="176.6" cy="158.9" r="1.4"/>
<circle cx="147.8" cy="140.9" r="1.4"/>
<circle cx="141.5" cy="171.8" r="1.4"/>
<circle cx="169.7" cy="160.4" r="1.4"/>
<circle cx="188.2" cy="154.5" r="1.4"/>
<circle cx="177.3" cy="151.9" r="1.4"/>
<circle cx="187.5" cy="124.6" r="1.4"/>
<circle cx="139.0" cy="160.6" r="1.4"/>
<circle cx="132.7" cy="161.4" r="1.4"/>
<circle cx="167.6" cy="144.1" r="1.4"/>
<circle cx="151.4" cy="165.2" r="1.4"/>
<circle cx="140.9" cy="167.4" r="1.4"/>
<circle cx="123" cy="40.1" r="1.4"/>
<circle cx="151" cy="50.7" r="1.4"/>
<circle cx="156" cy="51.4" r="1.4"/>
<circle cx="105.3" cy="55.2" r="1.4"/>
<circle cx="130" cy="59.4" r="1.4"/>
<circle cx="164.7" cy="63.3" r="1.4"/>
<circle cx="159.6" cy="67.4" r="1.4"/>
<circle cx="115" cy="71" r="1.4"/>
<circle cx="123.6" cy="76.1" r="1.4"/>
<circle cx="140.3" cy="73.2" r="1.4"/>
<circle cx="236.9" cy="49.4" r="1.4"/>
<circle cx="277.6" cy="48.7" r="1.4"/>
<circle cx="329.3" cy="72.2" r="1.4"/>
<circle cx="378" cy="63.8" r="1.4"/>
<circle cx="290.7" cy="86.3" r="1.4"/>
<circle cx="344.4" cy="152.1" r="1.4"/>
<circle cx="119.5" cy="187" r="1.4"/>
<circle cx="81.9" cy="205.9" r="1.4"/>
<circle cx="163.8" cy="205.9" r="1.4"/>
<circle cx="71.3" cy="238.7" r="1.4"/>
<circle cx="336.7" cy="171.8" r="1.4"/>
<circle cx="324.2" cy="184.5" r="1.4"/>
<circle cx="315.9" cy="195.9" r="1.4"/>
<circle cx="334.3" cy="200.3" r="1.4"/>
<circle cx="333.6" cy="204.3" r="1.4"/>
<circle cx="333.6" cy="208.7" r="1.4"/>
<circle cx="346.7" cy="207.7" r="1.4"/>
<circle cx="346.7" cy="212" r="1.4"/>
<circle cx="342.7" cy="215.4" r="1.4"/>
<circle cx="330.3" cy="219.8" r="1.4"/>
<circle cx="398.1" cy="221.1" r="1.4"/>
<circle cx="334.3" cy="239.6" r="1.4"/>
<circle cx="335.3" cy="243.3" r="1.4"/>
<circle cx="329.3" cy="253" r="1.4"/>
<circle cx="301.7" cy="252.3" r="1.4"/>
<circle cx="273.9" cy="258.4" r="1.4"/>
<circle cx="284.6" cy="260.7" r="1.4"/>
<circle cx="310.1" cy="283.2" r="1.4"/>
<circle cx="276.6" cy="277.5" r="1.4"/>
<circle cx="278.9" cy="281.6" r="1.4"/>
<circle cx="336" cy="283.2" r="1.4"/>
<circle cx="268.8" cy="290.3" r="1.4"/>
<circle cx="274" cy="268" r="1.4"/>
<circle cx="289" cy="266" r="1.4"/>
<circle cx="331" cy="232" r="1.4"/>
<circle cx="327" cy="236" r="1.4"/>
</g>
<g stroke="#bdbdbd" stroke-width="0.9" fill="none"><line x1="201.6" y1="30.5" x2="201.6" y2="300.6"/><line x1="58.4" y1="110.1" x2="411.5" y2="110.1"/></g>
<g stroke="#1a1a1a" stroke-width="0.9" fill="none"><path d="M58.1 30.5V300.6H411.5"/>
<line x1="55.4" x2="58.4" y1="40.1" y2="40.1"/>
<line x1="55.4" x2="58.4" y1="75.1" y2="75.1"/>
<line x1="55.4" x2="58.4" y1="110.1" y2="110.1"/>
<line x1="55.4" x2="58.4" y1="145.1" y2="145.1"/>
<line x1="55.4" x2="58.4" y1="180.1" y2="180.1"/>
<line x1="55.4" x2="58.4" y1="215.1" y2="215.1"/>
<line x1="55.4" x2="58.4" y1="250.1" y2="250.1"/>
<line x1="55.4" x2="58.4" y1="285.1" y2="285.1"/>
<line y1="300.6" y2="303.4" x1="115.6" x2="115.6"/>
<line y1="300.6" y2="303.4" x1="201.6" x2="201.6"/>
<line y1="300.6" y2="303.4" x1="287.6" x2="287.6"/>
<line y1="300.6" y2="303.4" x1="373.6" x2="373.6"/>
</g>
<g font-size="14" fill="#1a1a1a" text-anchor="end">
<text x="54" y="45.1">2</text>
<text x="54" y="80.1">1</text>
<text x="54" y="115.1">0</text>
<text x="54" y="150.1">−1</text>
<text x="54" y="185.1">−2</text>
<text x="54" y="220.1">−3</text>
<text x="54" y="255.1">−4</text>
<text x="54" y="290.1">−5</text>
</g><g font-size="14" fill="#1a1a1a" text-anchor="middle">
<text x="113.6" y="317">−2</text>
<text x="201.6" y="317">0</text>
<text x="287.6" y="317">2</text>
<text x="373.6" y="317">4</text>
</g>
<text x="233.5" y="333.6" font-size="14.8" text-anchor="middle" fill="#111">T2D-CKDVehicle : WT log<tspan font-size="9.5" dy="1.5">2</tspan><tspan dy="-1.5">(fc)</tspan></text>
<text transform="translate(30,160.8) rotate(-90)" font-size="14.45" text-anchor="middle" fill="#111">T2D-CKDAtra : T2D-CKDVehicle log<tspan font-size="9.5" dy="1.5">2</tspan><tspan dy="-1.5">(fc)</tspan></text>
<g font-size="14.6" fill="#e4253a"><text x="80.5" y="103.8">250</text><text x="80.5" y="124.8">147</text><text x="373.4" y="103.6">138</text><text x="373.4" y="125">818</text></g>
<g font-size="11" fill="#3f5ea8">
<text x="66.8" y="43.7" textLength="53.0" lengthAdjust="spacingAndGlyphs">Adamdec1</text>
<text x="121.4" y="51.4" textLength="29.6" lengthAdjust="spacingAndGlyphs">Twist2</text>
<text x="159.6" y="53.0" textLength="34.7" lengthAdjust="spacingAndGlyphs">Cxcl13</text>
<text x="80.3" y="54.6" textLength="25.7" lengthAdjust="spacingAndGlyphs">Ffar2</text>
<text x="96.3" y="64.3" textLength="33.7" lengthAdjust="spacingAndGlyphs">Slamf1</text>
<text x="135.5" y="64.9" textLength="24.1" lengthAdjust="spacingAndGlyphs">Klrg1</text>
<text x="81.9" y="74.5" textLength="28.9" lengthAdjust="spacingAndGlyphs">Cnmd</text>
<text x="115.6" y="83.5" textLength="25.7" lengthAdjust="spacingAndGlyphs">Sfrp2</text>
<text x="226.9" y="45.9" textLength="35.2" lengthAdjust="spacingAndGlyphs">Col8a1</text>
<text x="281.6" y="50.9" textLength="26.5" lengthAdjust="spacingAndGlyphs">Ppbp</text>
<text x="318.2" y="67.0" textLength="36.9" lengthAdjust="spacingAndGlyphs">Gpr176</text>
<text x="366.9" y="60.0" textLength="37.3" lengthAdjust="spacingAndGlyphs">Gabra3</text>
<text x="295.7" y="87.9" textLength="41.0" lengthAdjust="spacingAndGlyphs">Adam23</text>
<text x="348.4" y="154.0" textLength="36.3" lengthAdjust="spacingAndGlyphs">Mmp27</text>
<text x="86.7" y="188.6" textLength="28.9" lengthAdjust="spacingAndGlyphs">Luzp2</text>
<text x="86.7" y="207.9" textLength="23.4" lengthAdjust="spacingAndGlyphs">Eya1</text>
<text x="158.3" y="213.7" textLength="17.4" lengthAdjust="spacingAndGlyphs">Lctl</text>
<text x="76.1" y="241.0" textLength="39.5" lengthAdjust="spacingAndGlyphs">Slc22a7</text>
<text x="341.7" y="174.0" textLength="30.2" lengthAdjust="spacingAndGlyphs">Dmrt2</text>
<text x="328.6" y="186.7" textLength="16.5" lengthAdjust="spacingAndGlyphs">Agt</text>
<text x="323.2" y="196.5" textLength="37.3" lengthAdjust="spacingAndGlyphs">Mogat2</text>
<text x="339.4" y="205.9" textLength="33.5" lengthAdjust="spacingAndGlyphs">Acsm3</text>
<text x="309.8" y="209.9" textLength="20.2" lengthAdjust="spacingAndGlyphs">Liph</text>
<text x="351.8" y="214.9" textLength="29.5" lengthAdjust="spacingAndGlyphs">Marc1</text>
<text x="331.6" y="225.0" textLength="39.7" lengthAdjust="spacingAndGlyphs">Slc5a10</text>
<text x="377.0" y="232.1" textLength="35.2" lengthAdjust="spacingAndGlyphs">Cyp27l</text>
<text x="326.9" y="236.8" textLength="24.9" lengthAdjust="spacingAndGlyphs">Meltf</text>
<text x="340.0" y="245.5" textLength="21.2" lengthAdjust="spacingAndGlyphs">Ftcd</text>
<text x="305.8" y="253.9" textLength="22.8" lengthAdjust="spacingAndGlyphs">Gldc</text>
<text x="315.2" y="264.3" textLength="46.7" lengthAdjust="spacingAndGlyphs">Slc16a14</text>
<text x="249.4" y="260.6" textLength="33.5" lengthAdjust="spacingAndGlyphs">Acsm5</text>
<text x="281.6" y="268.7" textLength="13.4" lengthAdjust="spacingAndGlyphs">Ttr</text>
<text x="267.2" y="274.0" textLength="30.9" lengthAdjust="spacingAndGlyphs">Abcc6</text>
<text x="300.7" y="279.7" textLength="31.9" lengthAdjust="spacingAndGlyphs">Etnppl</text>
<text x="257.8" y="284.1" textLength="29.5" lengthAdjust="spacingAndGlyphs">Olfm3</text>
<text x="340.0" y="284.8" textLength="44.0" lengthAdjust="spacingAndGlyphs">Cyp24a1</text>
<text x="247.0" y="294.9" textLength="30.2" lengthAdjust="spacingAndGlyphs">Pcsk9</text>
</g>
<text x="22.5" y="6.6" font-size="14" fill="#333">a.</text></g>
<g id="pc"><g stroke="#111" stroke-width="1.1" fill="none"><path d="M514.5 17.4V133.9H607"/>
<line x1="510.5" x2="514.5" y1="17.9" y2="17.9"/>
<line x1="510.5" x2="514.5" y1="47.1" y2="47.1"/>
<line x1="510.5" x2="514.5" y1="76.2" y2="76.2"/>
<line x1="510.5" x2="514.5" y1="105.3" y2="105.3"/>
<line x1="510.5" x2="514.5" y1="134.5" y2="134.5"/>
<line x1="532.8" x2="532.8" y1="133.9" y2="138.9"/>
<line x1="560.4" x2="560.4" y1="133.9" y2="138.9"/>
<line x1="588.4" x2="588.4" y1="133.9" y2="138.9"/>
</g>
<line x1="514.5" x2="607" y1="76.2" y2="76.2" stroke="#111" stroke-width="1" stroke-dasharray="1.2 1.3"/>
<g font-size="7.4" fill="#222" text-anchor="end">
<text x="509" y="20.6">2</text>
<text x="509" y="49.8">1</text>
<text x="509" y="78.9">0</text>
<text x="509" y="108.0">-1</text>
<text x="509" y="137.2">-2</text>
</g>
<text transform="translate(493.2,74) rotate(-90)" font-size="9.7" text-anchor="middle" fill="#222">AR-EAS Score</text>
<g stroke="#111" stroke-width="0.8" fill="none">
<rect x="523.8" y="66.2" width="17.9" height="20.5"/><line x1="523.8" x2="541.7" y1="78" y2="78"/><line x1="532.8" x2="532.8" y1="61.4" y2="66.2"/><line x1="529" x2="536.6" y1="61.4" y2="61.4"/>
<rect x="551.4" y="29.7" width="18.4" height="34.1"/><line x1="551.4" x2="569.8" y1="49.1" y2="49.1"/><line x1="560.6" x2="560.6" y1="63.8" y2="65.7"/><line x1="556" x2="565.4" y1="65.7" y2="65.7"/>
<rect x="579.8" y="79.3" width="17.9" height="17.4"/><line x1="579.8" x2="597.7" y1="94.6" y2="94.6"/><line x1="588.5" x2="588.5" y1="67.5" y2="79.3"/><line x1="583.7" x2="593.5" y1="67.5" y2="67.5"/><line x1="588.5" x2="588.5" y1="96.7" y2="105.1"/><line x1="584.5" x2="592.5" y1="105.1" y2="105.1"/>
</g>
<g stroke="#111" stroke-width="0.9" fill="#fff">
<circle cx="533" cy="62.3" r="2.5"/>
<circle cx="533" cy="70.9" r="2.5"/>
<circle cx="531.2" cy="78" r="2.5"/>
<circle cx="526.5" cy="86.2" r="2.5"/>
<circle cx="538.6" cy="85.4" r="2.5"/>
</g><g fill="#000">
<circle cx="554.3" cy="28.9" r="2.9"/>
<circle cx="567.2" cy="30.2" r="2.9"/>
<circle cx="560.6" cy="49.1" r="2.9"/>
<circle cx="567.2" cy="62.3" r="2.9"/>
<circle cx="554.3" cy="66.2" r="2.9"/>
</g><g stroke="#111" stroke-width="0.8" fill="#fff">
<path d="M585.9 63.8H591.1L588.5 68.4Z"/>
<path d="M585.9 75.4H591.1L588.5 80.0Z"/>
<path d="M585.4 82.1H591.6L588.5 87.5Z"/>
<path d="M579.3 95.1H584.5L581.9 99.7Z"/>
<path d="M585.9 95.9H591.1L588.5 100.5Z"/>
<path d="M592.4 95.1H597.6L595.0 99.7Z"/>
<path d="M585.9 103.5H591.1L588.5 108.1Z"/>
</g>
<g stroke="#111" stroke-width="1.1"><line x1="531.7" x2="556.2" y1="19.7" y2="19.7"/><line x1="566.7" x2="591.6" y1="19.7" y2="19.7"/><line x1="535.8" x2="588.9" y1="114.9" y2="114.9"/></g>
<g font-size="7.3" fill="#333" text-anchor="middle"><text x="544.3" y="16.3">0.0317</text><text x="578.6" y="16.3">0.0025</text><text x="561.9" y="122.8">ns</text>
<text x="528.8" y="148">WT</text><text x="564" y="148.6">T2D-CKD</text><text x="564" y="157.4">Vehicle</text><text x="600.6" y="147.6">T2D-CKD</text><text x="600.6" y="156.8">Atra</text></g>
<text x="464" y="18.9" font-size="13.5" fill="#222">c.</text></g>
<g id="pd"><g stroke="#111" stroke-width="1" fill="none"><path d="M484.3 210V316.5H671"/>
<line x1="480.8" x2="484.3" y1="210.5" y2="210.5"/>
<line x1="480.8" x2="484.3" y1="231.7" y2="231.7"/>
<line x1="480.8" x2="484.3" y1="253.0" y2="253.0"/>
<line x1="480.8" x2="484.3" y1="274.2" y2="274.2"/>
<line x1="480.8" x2="484.3" y1="295.4" y2="295.4"/>
<line x1="480.8" x2="484.3" y1="316.6" y2="316.6"/>
<line x1="509.2" x2="509.2" y1="316.5" y2="320.0"/>
<line x1="562.8" x2="562.8" y1="316.5" y2="320.0"/>
<line x1="616.4" x2="616.4" y1="316.5" y2="320.0"/>
<line x1="670.0" x2="670.0" y1="316.5" y2="320.0"/>
</g>
<g font-size="7.4" fill="#222" text-anchor="end">
<text x="478.6" y="213.2" textLength="19.5" lengthAdjust="spacingAndGlyphs">14.0</text>
<text x="478.6" y="234.4" textLength="19.5" lengthAdjust="spacingAndGlyphs">13.5</text>
<text x="478.6" y="255.7" textLength="19.5" lengthAdjust="spacingAndGlyphs">13.0</text>
<text x="478.6" y="276.9" textLength="19.5" lengthAdjust="spacingAndGlyphs">12.5</text>
<text x="478.6" y="298.1" textLength="19.5" lengthAdjust="spacingAndGlyphs">12.0</text>
<text x="478.6" y="319.3" textLength="19.5" lengthAdjust="spacingAndGlyphs">11.5</text>
</g><g font-size="6.2" fill="#222" text-anchor="middle">
<text x="509.2" y="329.8">-1</text>
<text x="562.8" y="329.8">0</text>
<text x="616.4" y="329.8">1</text>
<text x="670.0" y="329.8">2</text>
</g>
<text x="565" y="346.2" font-size="9.6" text-anchor="middle" fill="#222">AR-EAS score</text>
<text transform="translate(451,263) rotate(-90)" font-size="9.3" text-anchor="middle" fill="#222">clu mRNA (log2)</text>
<text x="502.5" y="225" font-size="9.9" fill="#333">ρ = 0.67, p = 0.0016</text>
<text x="438.5" y="209.6" font-size="14.5" fill="#222">d.</text>
<g stroke="#111" stroke-width="0.8" fill="none">
<line x1="509.1" y1="283.7" x2="650.3" y2="237.0"/>
<path d="M509.1 276.0Q573.7 258.3 650.3 226.8"/>
<path d="M509.1 291.7Q573.7 262.3 650.3 247.9"/>
</g><g fill="#000">
<circle cx="509.1" cy="261.4" r="2.4"/>
<circle cx="512.7" cy="293.5" r="2.4"/>
<circle cx="518.2" cy="292.4" r="2.4"/>
<circle cx="524.8" cy="274.6" r="2.4"/>
<circle cx="525.1" cy="281.1" r="2.4"/>
<circle cx="525.1" cy="284.8" r="2.4"/>
<circle cx="544.5" cy="280.4" r="2.4"/>
<circle cx="547.0" cy="257.4" r="2.4"/>
<circle cx="547.0" cy="262.5" r="2.4"/>
<circle cx="557.6" cy="262.5" r="2.4"/>
<circle cx="559.5" cy="272.4" r="2.4"/>
<circle cx="572.2" cy="265.8" r="2.4"/>
<circle cx="574.4" cy="256.7" r="2.4"/>
<circle cx="579.2" cy="252.7" r="2.4"/>
<circle cx="581.7" cy="266.9" r="2.4"/>
<circle cx="589.4" cy="269.5" r="2.4"/>
<circle cx="590.8" cy="264.3" r="2.4"/>
<circle cx="612.7" cy="255.6" r="2.4"/>
<circle cx="647.8" cy="231.1" r="2.4"/>
<circle cx="650.0" cy="232.6" r="2.4"/>
</g></g>
<text x="-1.2" y="364.8" font-size="13.5" fill="#222">b.</text>
<text x="19" y="364.8" font-size="14.8" fill="#222" textLength="116" lengthAdjust="spacingAndGlyphs">T2D-CKD Vehicle</text><line x1="19" x2="135" y1="367.2" y2="367.2" stroke="#222" stroke-width="0.9"/>
<g id="veh"><rect x="17.0" y="397.9" width="368.6" height="4.2" fill="#666a6d"/>
<rect x="26.0" y="546.9" width="350.2" height="4.2" fill="#666a6d"/>
<text x="18.0" y="395.9" font-size="5.0" text-anchor="start" fill="#1a1a1a" stroke="#1a1a1a" stroke-width="0.12" textLength="44" lengthAdjust="spacingAndGlyphs">Extracellular space</text>
<text x="18.0" y="408.2" font-size="5.0" text-anchor="start" fill="#1a1a1a" stroke="#1a1a1a" stroke-width="0.12" textLength="25" lengthAdjust="spacingAndGlyphs">Cytoplasm</text>
<text x="26.0" y="558.3" font-size="5.0" text-anchor="start" fill="#1a1a1a" stroke="#1a1a1a" stroke-width="0.12" textLength="19" lengthAdjust="spacingAndGlyphs">Nucleus</text>
<text x="364.8" y="407.9" font-size="5.0" text-anchor="middle" fill="#1a1a1a" stroke="#1a1a1a" stroke-width="0.12" textLength="39" lengthAdjust="spacingAndGlyphs">Vascular smooth</text>
<text x="364.8" y="413.4" font-size="5.0" text-anchor="middle" fill="#1a1a1a" stroke="#1a1a1a" stroke-width="0.12" textLength="26" lengthAdjust="spacingAndGlyphs">muscle cell</text>
<path d="M46.6 386.0L46.6 439.4" stroke="#ee7532" stroke-width="1.2" fill="none"/>
<path d="M46.6 439.4L44.4 435.0L48.8 435.0Z" fill="#ee7532"/>
<path d="M46.6 447.0L46.6 458.2" stroke="#ee7532" stroke-width="1.2" fill="none"/>
<path d="M46.6 458.2L44.4 453.8L48.8 453.8Z" fill="#ee7532"/>
<path d="M46.4 474.0L46.4 496.4" stroke="#616161" stroke-width="0.6" fill="none"/>
<path d="M46.4 496.4L44.4 492.5L48.4 492.5Z" fill="#616161"/>
<path d="M35.0 496.8L57.0 496.8" stroke="#616161" stroke-width="0.6" fill="none"/>
<path d="M87.2 403.7L87.2 435.4" stroke="#ee7532" stroke-width="1.2" fill="none"/>
<path d="M87.2 435.4L85.0 431.0L89.4 431.0Z" fill="#ee7532"/>
<path d="M87.2 451.0L87.2 465.6" stroke="#616161" stroke-width="0.6" fill="none"/>
<path d="M87.2 465.6L85.2 461.7L89.2 461.7Z" fill="#616161"/>
<path d="M75.5 466.0L98.0 466.0" stroke="#616161" stroke-width="0.6" fill="none"/>
<path d="M120.6 463.0L89.2 380.2" stroke="#ee7532" stroke-width="1.0" fill="none"/>
<path d="M89.2 380.2L92.9 383.6L88.7 385.2Z" fill="#ee7532"/>
<path d="M87.1 380.5L87.1 387.8" stroke="#ee7532" stroke-width="1.0" fill="none"/>
<path d="M87.1 387.8L84.9 383.4L89.3 383.4Z" fill="#ee7532"/>
<path d="M103.2 470.0L103.2 518.4" stroke="#ee7532" stroke-width="1.25" fill="none" stroke-dasharray="4.2 2"/>
<path d="M103.2 518.4L100.7 513.4L105.7 513.4Z" fill="#ee7532"/>
<path d="M62.3 500.0L62.3 525.0L93.0 525.0" stroke="#ee7532" stroke-width="1.25" fill="none" stroke-dasharray="4.2 2"/>
<path d="M133.3 408.0L133.3 454.3L152.6 454.3L152.6 461.0" stroke="#616161" stroke-width="0.6" fill="none"/>
<path d="M125.5 466.0L147.0 466.0" stroke="#616161" stroke-width="0.6" fill="none"/>
<path d="M136.3 489.0L136.3 467.2" stroke="#616161" stroke-width="0.6" fill="none"/>
<path d="M136.3 467.2L138.2 471.1L134.4 471.1Z" fill="#616161"/>
<path d="M152.6 472.0L152.6 521.3" stroke="#616161" stroke-width="0.6" fill="none" stroke-dasharray="2.5 1.5"/>
<path d="M152.6 521.3L150.7 517.4L154.5 517.4Z" fill="#616161"/>
<path d="M146.5 442.8L134.0 442.8" stroke="#616161" stroke-width="0.6" fill="none"/>
<path d="M134.0 442.8L137.9 440.9L137.9 444.8Z" fill="#616161"/>
<path d="M206.5 377.5L157.6 391.0" stroke="#616161" stroke-width="0.6" fill="none"/>
<path d="M207.0 378.5L183.3 392.3" stroke="#616161" stroke-width="0.6" fill="none"/>
<path d="M183.3 392.3L185.7 388.7L187.7 392.0Z" fill="#616161"/>
<path d="M218.0 377.2L270.0 396.0" stroke="#616161" stroke-width="0.6" fill="none"/>
<path d="M270.0 396.0L265.7 396.5L267.0 392.8Z" fill="#616161"/>
<path d="M152.6 402.8L152.6 410.5" stroke="#616161" stroke-width="0.6" fill="none"/>
<path d="M176.8 403.3L176.8 407.0" stroke="#616161" stroke-width="0.6" fill="none"/>
<path d="M152.6 424.0L152.6 435.4" stroke="#ee7532" stroke-width="1.2" fill="none"/>
<path d="M152.6 435.4L150.4 431.0L154.8 431.0Z" fill="#ee7532"/>
<path d="M155.5 423.0L165.8 438.0" stroke="#ee7532" stroke-width="1.2" fill="none"/>
<path d="M165.8 438.0L161.5 435.6L165.1 433.1Z" fill="#ee7532"/>
<path d="M174.8 442.8L187.6 442.8" stroke="#616161" stroke-width="0.6" fill="none"/>
<path d="M187.6 442.8L183.7 444.8L183.7 440.9Z" fill="#616161"/>
<path d="M188.7 431.5L188.7 455.5" stroke="#616161" stroke-width="0.6" fill="none"/>
<path d="M192.5 456.5L204.5 444.5" stroke="#616161" stroke-width="0.6" fill="none"/>
<path d="M183.2 413.1L228.4 413.1" stroke="#616161" stroke-width="0.6" fill="none"/>
<path d="M228.4 413.1L224.5 415.1L224.5 411.2Z" fill="#616161"/>
<path d="M258.0 413.1L240.0 413.1" stroke="#616161" stroke-width="0.6" fill="none"/>
<path d="M240.0 413.1L243.9 411.2L243.9 415.1Z" fill="#616161"/>
<path d="M275.5 405.0L268.5 408.3" stroke="#616161" stroke-width="0.6" fill="none"/>
<path d="M277.0 405.0L283.5 408.0" stroke="#616161" stroke-width="0.6" fill="none"/>
<path d="M234.2 421.0L234.2 426.2" stroke="#616161" stroke-width="0.6" fill="none"/>
<path d="M234.2 426.2L232.2 422.3L236.1 422.3Z" fill="#616161"/>
<path d="M234.2 426.0L234.2 443.4L262.5 443.4" stroke="#616161" stroke-width="0.6" fill="none"/>
<path d="M262.5 443.4L258.6 445.3L258.6 441.4Z" fill="#616161"/>
<path d="M262.0 428.1L209.5 428.1L209.5 439.8" stroke="#616161" stroke-width="0.6" fill="none"/>
<path d="M209.5 439.8L207.6 435.9L211.4 435.9Z" fill="#616161"/>
<path d="M209.5 447.3L209.5 459.8" stroke="#f4c41c" stroke-width="1.0" fill="none"/>
<path d="M209.5 459.8L207.5 455.8L211.5 455.8Z" fill="#f4c41c"/>
<path d="M266.8 447.2L260.4 511.0" stroke="#f4c41c" stroke-width="0.9" fill="none"/>
<path d="M260.4 511.0L259.0 507.2L262.6 507.6Z" fill="#f4c41c"/>
<path d="M286.6 419.8L286.6 429.2" stroke="#616161" stroke-width="0.6" fill="none"/>
<path d="M286.6 429.2L284.7 425.3L288.6 425.3Z" fill="#616161"/>
<path d="M286.6 440.2L286.6 452.4" stroke="#616161" stroke-width="0.6" fill="none"/>
<path d="M286.6 452.4L284.7 448.5L288.6 448.5Z" fill="#616161"/>
<path d="M292.0 458.6L318.3 458.6" stroke="#616161" stroke-width="0.6" fill="none"/>
<path d="M318.3 458.6L314.4 460.6L314.4 456.7Z" fill="#616161"/>
<path d="M300.0 458.6L292.6 458.6" stroke="#616161" stroke-width="0.6" fill="none"/>
<path d="M292.6 458.6L296.5 456.7L296.5 460.6Z" fill="#616161"/>
<path d="M333.1 404.6L333.1 406.6" stroke="#616161" stroke-width="0.6" fill="none"/>
<path d="M333.1 419.6L333.1 425.5" stroke="#616161" stroke-width="0.6" fill="none"/>
<path d="M330.8 438.0L326.3 452.5" stroke="#616161" stroke-width="0.6" fill="none"/>
<path d="M335.6 438.0L342.6 452.0" stroke="#616161" stroke-width="0.6" fill="none"/>
<path d="M342.0 463.5L335.3 476.3" stroke="#616161" stroke-width="0.6" fill="none"/>
<path d="M335.3 476.3L335.4 471.9L338.8 473.7Z" fill="#616161"/>
<path d="M327.0 481.3L289.6 481.3" stroke="#616161" stroke-width="0.6" fill="none"/>
<path d="M289.6 481.3L293.5 479.4L293.5 483.2Z" fill="#616161"/>
<path d="M209.7 472.0L209.7 489.3" stroke="#ee7532" stroke-width="1.2" fill="none"/>
<path d="M209.7 489.3L207.5 484.9L211.9 484.9Z" fill="#ee7532"/>
<path d="M209.7 502.7L209.7 565.6" stroke="#f2a27a" stroke-width="1.5" fill="none"/>
<path d="M209.7 565.6L207.6 561.4L211.8 561.4Z" fill="#f2a27a"/>
<path d="M278.0 480.5L215.2 466.6" stroke="#ee7532" stroke-width="1.2" fill="none"/>
<path d="M215.2 466.6L220.2 465.3L219.2 469.8Z" fill="#ee7532"/>
<path d="M254.0 480.6L215.5 468.2" stroke="#ee7532" stroke-width="1.2" fill="none"/>
<path d="M278.0 481.3L263.5 481.3" stroke="#ee7532" stroke-width="1.2" fill="none"/>
<path d="M254.0 481.0L186.0 474.5" stroke="#ee7532" stroke-width="1.25" fill="none" stroke-dasharray="4.2 2"/>
<path d="M186.0 474.5L191.2 472.5L190.7 477.5Z" fill="#ee7532"/>
<path d="M254.0 482.5L187.0 496.6" stroke="#ee7532" stroke-width="1.25" fill="none" stroke-dasharray="4.2 2"/>
<path d="M187.0 496.6L191.4 493.1L192.4 498.0Z" fill="#ee7532"/>
<path d="M278.0 483.0L216.5 496.5" stroke="#ee7532" stroke-width="1.25" fill="none" stroke-dasharray="4.2 2"/>
<path d="M216.5 496.5L220.8 493.0L221.9 497.9Z" fill="#ee7532"/>
<path d="M254.0 483.5L217.0 494.8" stroke="#ee7532" stroke-width="1.25" fill="none" stroke-dasharray="4.2 2"/>
<path d="M204.5 492.5L186.0 477.0" stroke="#ee7532" stroke-width="1.25" fill="none" stroke-dasharray="4.2 2"/>
<path d="M186.0 477.0L191.4 478.3L188.2 482.1Z" fill="#ee7532"/>
<path d="M203.0 496.5L187.0 497.8" stroke="#ee7532" stroke-width="1.25" fill="none" stroke-dasharray="4.2 2"/>
<path d="M258.8 511.0L258.8 485.4" stroke="#f2a27a" stroke-width="1.6" fill="none"/>
<path d="M258.8 485.4L260.8 489.4L256.8 489.4Z" fill="#f2a27a"/>
<path d="M288.0 484.5L326.0 500.0" stroke="#2e6cc4" stroke-width="1.3" fill="none"/>
<path d="M325.2 502.0L326.8 498.0" stroke="#2e6cc4" stroke-width="1.3"/>
<path d="M332.4 508.8L332.4 519.6" stroke="#2e6cc4" stroke-width="1.2" fill="none"/>
<path d="M332.4 519.6L330.1 515.0L334.7 515.0Z" fill="#2e6cc4"/>
<path d="M203.5 573.0L193.2 573.0L193.2 590.8" stroke="#ee7532" stroke-width="1.2" fill="none" stroke-dasharray="3.6 1.8"/>
<path d="M193.2 590.8L191.2 586.8L195.2 586.8Z" fill="#ee7532"/>
<path d="M210.0 579.0L210.0 590.8" stroke="#ee7532" stroke-width="1.2" fill="none" stroke-dasharray="3.6 1.8"/>
<path d="M210.0 590.8L208.0 586.8L212.0 586.8Z" fill="#ee7532"/>
<path d="M213.0 576.5L224.5 590.8" stroke="#ee7532" stroke-width="1.2" fill="none" stroke-dasharray="3.6 1.8"/>
<path d="M224.5 590.8L220.4 588.9L223.6 586.4Z" fill="#ee7532"/>
<path d="M167.4 606.0L168.4 606.0L169.4 605.8L170.4 605.6L171.4 605.3L172.3 605.0L173.3 604.6L174.3 604.1L175.3 603.6L176.3 603.1L177.3 602.6L178.3 602.0L179.3 601.5L180.3 601.0L181.3 600.6L182.2 600.2L183.2 599.8L184.2 599.5L185.2 599.4L186.2 599.2L187.2 599.2L188.2 599.3L189.2 599.4L190.2 599.6L191.2 599.9L192.2 600.2L193.1 600.7L194.1 601.1L195.1 601.6L196.1 602.1L197.1 602.7L198.1 603.2L199.1 603.7L200.1 604.2L201.1 604.7L202.1 605.1L203.0 605.4L204.0 605.7L205.0 605.9L206.0 606.0L207.0 606.0L208.0 605.9L209.0 605.8L210.0 605.6L211.0 605.3L211.9 604.9L212.9 604.5L213.9 604.0L214.9 603.5L215.9 603.0L216.9 602.5L217.9 601.9L218.9 601.4L219.9 600.9L220.9 600.5L221.9 600.1L222.8 599.8L223.8 599.5L224.8 599.3L225.8 599.2L226.8 599.2L227.8 599.3L228.8 599.4L229.8 599.7L230.8 600.0L231.8 600.3L232.7 600.7L233.7 601.2L234.7 601.7L235.7 602.3L236.7 602.8L237.7 603.3L238.7 603.8L239.7 604.3L240.7 604.8L241.7 605.1L242.6 605.5L243.6 605.7L244.6 605.9L245.6 606.0L246.6 606.0L247.6 605.9L248.6 605.8L249.6 605.5L250.6 605.2L251.6 604.8L252.5 604.4L253.5 603.9L254.5 603.4L255.5 602.9L256.5 602.4" stroke="#8a8a8a" stroke-width="0.5" fill="none"/>
<path d="M167.4 599.2L168.4 599.2L169.4 599.4L170.4 599.6L171.4 599.9L172.3 600.2L173.3 600.6L174.3 601.1L175.3 601.6L176.3 602.1L177.3 602.6L178.3 603.2L179.3 603.7L180.3 604.2L181.3 604.6L182.2 605.0L183.2 605.4L184.2 605.7L185.2 605.8L186.2 606.0L187.2 606.0L188.2 605.9L189.2 605.8L190.2 605.6L191.2 605.3L192.2 605.0L193.1 604.5L194.1 604.1L195.1 603.6L196.1 603.1L197.1 602.5L198.1 602.0L199.1 601.5L200.1 601.0L201.1 600.5L202.1 600.1L203.0 599.8L204.0 599.5L205.0 599.3L206.0 599.2L207.0 599.2L208.0 599.3L209.0 599.4L210.0 599.6L211.0 599.9L211.9 600.3L212.9 600.7L213.9 601.2L214.9 601.7L215.9 602.2L216.9 602.7L217.9 603.3L218.9 603.8L219.9 604.3L220.9 604.7L221.9 605.1L222.8 605.4L223.8 605.7L224.8 605.9L225.8 606.0L226.8 606.0L227.8 605.9L228.8 605.8L229.8 605.5L230.8 605.2L231.8 604.9L232.7 604.5L233.7 604.0L234.7 603.5L235.7 602.9L236.7 602.4L237.7 601.9L238.7 601.4L239.7 600.9L240.7 600.4L241.7 600.1L242.6 599.7L243.6 599.5L244.6 599.3L245.6 599.2L246.6 599.2L247.6 599.3L248.6 599.4L249.6 599.7L250.6 600.0L251.6 600.4L252.5 600.8L253.5 601.3L254.5 601.8L255.5 602.3L256.5 602.8" stroke="#8a8a8a" stroke-width="0.5" fill="none"/>
<line x1="166.2" y1="606.0" x2="168.6" y2="599.2" stroke="#8a8a8a" stroke-width="0.5"/>
<line x1="169.2" y1="605.6" x2="171.6" y2="599.6" stroke="#8a8a8a" stroke-width="0.5"/>
<line x1="172.2" y1="604.6" x2="174.6" y2="600.6" stroke="#8a8a8a" stroke-width="0.5"/>
<line x1="178.2" y1="601.5" x2="180.6" y2="603.7" stroke="#8a8a8a" stroke-width="0.5"/>
<line x1="181.2" y1="600.1" x2="183.6" y2="605.1" stroke="#8a8a8a" stroke-width="0.5"/>
<line x1="184.2" y1="599.3" x2="186.6" y2="605.9" stroke="#8a8a8a" stroke-width="0.5"/>
<line x1="187.2" y1="599.3" x2="189.6" y2="605.9" stroke="#8a8a8a" stroke-width="0.5"/>
<line x1="190.2" y1="600.0" x2="192.6" y2="605.2" stroke="#8a8a8a" stroke-width="0.5"/>
<line x1="193.2" y1="601.3" x2="195.6" y2="603.9" stroke="#8a8a8a" stroke-width="0.5"/>
<line x1="199.2" y1="604.4" x2="201.6" y2="600.8" stroke="#8a8a8a" stroke-width="0.5"/>
<line x1="202.2" y1="605.5" x2="204.6" y2="599.7" stroke="#8a8a8a" stroke-width="0.5"/>
<line x1="205.2" y1="606.0" x2="207.6" y2="599.2" stroke="#8a8a8a" stroke-width="0.5"/>
<line x1="208.2" y1="605.7" x2="210.6" y2="599.5" stroke="#8a8a8a" stroke-width="0.5"/>
<line x1="211.2" y1="604.7" x2="213.6" y2="600.5" stroke="#8a8a8a" stroke-width="0.5"/>
<line x1="217.2" y1="601.7" x2="219.6" y2="603.5" stroke="#8a8a8a" stroke-width="0.5"/>
<line x1="220.2" y1="600.3" x2="222.6" y2="604.9" stroke="#8a8a8a" stroke-width="0.5"/>
<line x1="223.2" y1="599.4" x2="225.6" y2="605.8" stroke="#8a8a8a" stroke-width="0.5"/>
<line x1="226.2" y1="599.2" x2="228.6" y2="606.0" stroke="#8a8a8a" stroke-width="0.5"/>
<line x1="229.2" y1="599.8" x2="231.6" y2="605.4" stroke="#8a8a8a" stroke-width="0.5"/>
<line x1="232.2" y1="601.1" x2="234.6" y2="604.1" stroke="#8a8a8a" stroke-width="0.5"/>
<line x1="238.2" y1="604.2" x2="240.6" y2="601.0" stroke="#8a8a8a" stroke-width="0.5"/>
<line x1="241.2" y1="605.4" x2="243.6" y2="599.8" stroke="#8a8a8a" stroke-width="0.5"/>
<line x1="244.2" y1="606.0" x2="246.6" y2="599.2" stroke="#8a8a8a" stroke-width="0.5"/>
<line x1="247.2" y1="605.8" x2="249.6" y2="599.4" stroke="#8a8a8a" stroke-width="0.5"/>
<line x1="250.2" y1="604.9" x2="252.6" y2="600.3" stroke="#8a8a8a" stroke-width="0.5"/>
<line x1="253.2" y1="603.5" x2="255.6" y2="601.7" stroke="#8a8a8a" stroke-width="0.5"/>
<line x1="167.4" y1="599.2" x2="167.4" y2="606.0" stroke="#8a8a8a" stroke-width="0.5"/>
<line x1="256.5" y1="599.2" x2="256.5" y2="606.0" stroke="#8a8a8a" stroke-width="0.5"/>
<path d="M195.5 600.0L207.0 618.5" stroke="#ee7532" stroke-width="1.2" fill="none" stroke-dasharray="3.6 1.8"/>
<path d="M207.0 618.5L202.8 615.9L206.5 613.6Z" fill="#ee7532"/>
<path d="M210.0 600.5L210.0 618.5" stroke="#ee7532" stroke-width="1.2" fill="none" stroke-dasharray="3.6 1.8"/>
<path d="M210.0 618.5L207.8 614.1L212.2 614.1Z" fill="#ee7532"/>
<path d="M224.5 600.0L213.0 618.5" stroke="#ee7532" stroke-width="1.2" fill="none" stroke-dasharray="3.6 1.8"/>
<path d="M213.0 618.5L213.5 613.6L217.2 615.9Z" fill="#ee7532"/>
<ellipse cx="46.6" cy="382.7" rx="4.6" ry="3.0" fill="#f8cbae" stroke="#616161" stroke-width="0.5"/>
<text x="46.6" y="384.5" font-size="5.0" text-anchor="middle" fill="#1a1a1a" stroke="#1a1a1a" stroke-width="0.12">NO</text>
<ellipse cx="46.6" cy="443.2" rx="4.6" ry="3.0" fill="#f8cbae" stroke="#616161" stroke-width="0.5"/>
<text x="46.6" y="445.0" font-size="5.0" text-anchor="middle" fill="#1a1a1a" stroke="#1a1a1a" stroke-width="0.12">NO</text>
<path d="M46.4 458.4L51.4 466.0L46.4 473.6L41.4 466.0Z" fill="#f8cbae" stroke="#616161" stroke-width="0.5" stroke-linejoin="miter"/>
<text x="46.4" y="467.8" font-size="5.0" text-anchor="middle" fill="#1a1a1a" stroke="#1a1a1a" stroke-width="0.12">GC</text>
<ellipse cx="30.0" cy="496.8" rx="5" ry="3.0" fill="#f4f4f4" stroke="#616161" stroke-width="0.5"/>
<text x="30.0" y="498.6" font-size="5.0" text-anchor="middle" fill="#1a1a1a" stroke="#1a1a1a" stroke-width="0.12">GTP</text>
<ellipse cx="62.3" cy="496.8" rx="5.2" ry="3.0" fill="#f8cbae" stroke="#616161" stroke-width="0.5"/>
<text x="62.3" y="498.6" font-size="5.0" text-anchor="middle" fill="#1a1a1a" stroke="#1a1a1a" stroke-width="0.12">cGMP</text>
<ellipse cx="87.0" cy="376.7" rx="5" ry="3.0" fill="#f8cbae" stroke="#616161" stroke-width="0.5"/>
<text x="87.0" y="378.5" font-size="5.0" text-anchor="middle" fill="#1a1a1a" stroke="#1a1a1a" stroke-width="0.12">PGE2</text>
<rect x="82.4" y="388.3" width="9.8" height="15.3" rx="0" fill="#f5b88f" stroke="#616161" stroke-width="0.5"/>
<text x="87.4" y="397.9" font-size="5.2" text-anchor="middle" fill="#1a1a1a" stroke="#1a1a1a" stroke-width="0.12" textLength="21" lengthAdjust="spacingAndGlyphs">PTGER2</text>
<path d="M87.2 435.6L92.4 443.2L87.2 450.8L82.0 443.2Z" fill="#f8cbae" stroke="#616161" stroke-width="0.5" stroke-linejoin="miter"/>
<text x="87.2" y="445.0" font-size="5.0" text-anchor="middle" fill="#1a1a1a" stroke="#1a1a1a" stroke-width="0.12">ADCY</text>
<ellipse cx="70.5" cy="466.0" rx="4.8" ry="3.0" fill="#e9a7c0" stroke="#a5308f" stroke-width="1.0"/>
<text x="70.5" y="467.8" font-size="5.0" text-anchor="middle" fill="#1a1a1a" stroke="#1a1a1a" stroke-width="0.12">ATP</text>
<ellipse cx="103.2" cy="466.0" rx="5.2" ry="3.0" fill="#f8cbae" stroke="#616161" stroke-width="0.5"/>
<text x="103.2" y="467.8" font-size="5.0" text-anchor="middle" fill="#1a1a1a" stroke="#1a1a1a" stroke-width="0.12">cAMP</text>
<ellipse cx="120.6" cy="466.0" rx="5.2" ry="3.0" fill="#f8cbae" stroke="#616161" stroke-width="0.5"/>
<text x="120.6" y="467.8" font-size="5.0" text-anchor="middle" fill="#1a1a1a" stroke="#1a1a1a" stroke-width="0.12">RGS2</text>
<circle cx="102.8" cy="525.0" r="3.52" fill="#616161"/>
<circle cx="106.6" cy="525.0" r="2.56" fill="#616161"/>
<circle cx="99.0" cy="525.0" r="2.56" fill="#616161"/>
<circle cx="102.8" cy="529.1" r="2.56" fill="#616161"/>
<circle cx="102.8" cy="520.9" r="2.56" fill="#616161"/>
<circle cx="102.8" cy="525.0" r="3.12" fill="#f8cbae"/>
<circle cx="106.6" cy="525.0" r="2.16" fill="#f8cbae"/>
<circle cx="99.0" cy="525.0" r="2.16" fill="#f8cbae"/>
<circle cx="102.8" cy="529.1" r="2.16" fill="#f8cbae"/>
<circle cx="102.8" cy="520.9" r="2.16" fill="#f8cbae"/>
<text x="102.8" y="526.7" font-size="4.8" text-anchor="middle" fill="#1a1a1a" stroke="#1a1a1a" stroke-width="0.12" textLength="25" lengthAdjust="spacingAndGlyphs">Relaxation</text>
<ellipse cx="133.3" cy="404.4" rx="4.5" ry="3.0" fill="#fff" stroke="#616161" stroke-width="0.5"/>
<text x="133.3" y="406.1" font-size="4.8" text-anchor="middle" fill="#1a1a1a" stroke="#1a1a1a" stroke-width="0.12" textLength="29" lengthAdjust="spacingAndGlyphs">Phospholipid</text>
<rect x="147.7" y="388.6" width="9.9" height="14.2" rx="0" fill="#fff" stroke="#616161" stroke-width="0.5"/>
<rect x="149.2" y="390.1" width="6.9" height="11.2" rx="0" fill="#fff" stroke="#616161" stroke-width="0.5"/>
<text x="152.6" y="394.7" font-size="4.8" text-anchor="middle" fill="#1a1a1a" stroke="#1a1a1a" stroke-width="0.12" textLength="24" lengthAdjust="spacingAndGlyphs">Endothelin</text>
<text x="152.6" y="400.2" font-size="4.8" text-anchor="middle" fill="#1a1a1a" stroke="#1a1a1a" stroke-width="0.12" textLength="19" lengthAdjust="spacingAndGlyphs">receptor</text>
<rect x="172.3" y="388.6" width="9.2" height="14.7" rx="0" fill="#fff" stroke="#616161" stroke-width="0.5"/>
<text x="176.9" y="397.6" font-size="5.0" text-anchor="middle" fill="#1a1a1a" stroke="#1a1a1a" stroke-width="0.12">EDNRA</text>
<ellipse cx="212.3" cy="374.8" rx="6.6" ry="6.6" fill="#fff" stroke="#616161" stroke-width="0.5"/>
<text x="212.3" y="376.6" font-size="5.0" text-anchor="middle" fill="#1a1a1a" stroke="#1a1a1a" stroke-width="0.12">EDN1</text>
<rect x="270.2" y="390.4" width="10.5" height="14.6" rx="0" fill="#fff" stroke="#616161" stroke-width="0.5"/>
<text x="275.2" y="400.1" font-size="5.0" text-anchor="middle" fill="#1a1a1a" stroke="#1a1a1a" stroke-width="0.12">EDNRB</text>
<ellipse cx="152.6" cy="417.1" rx="6.4" ry="6.4" fill="#e76a86" stroke="#a5308f" stroke-width="1.3"/>
<text x="152.6" y="416.2" font-size="4.8" text-anchor="middle" fill="#1a1a1a" stroke="#1a1a1a" stroke-width="0.12" textLength="22" lengthAdjust="spacingAndGlyphs">G-protein</text>
<text x="152.6" y="421.5" font-size="4.8" text-anchor="middle" fill="#1a1a1a" stroke="#1a1a1a" stroke-width="0.12">alpha</text>
<path d="M152.6 434.9L158.2 442.9L152.6 450.9L147.0 442.9Z" fill="#eeb4c0" stroke="#a5308f" stroke-width="1.4" stroke-linejoin="miter"/>
<text x="152.6" y="444.7" font-size="5.0" text-anchor="middle" fill="#1a1a1a" stroke="#1a1a1a" stroke-width="0.12">PLA2</text>
<path d="M169.0 434.9L174.4 442.9L169.0 450.9L163.6 442.9Z" fill="#e8894c" stroke="#616161" stroke-width="0.5" stroke-linejoin="miter"/>
<text x="169.0" y="444.7" font-size="5.0" text-anchor="middle" fill="#1a1a1a" stroke="#1a1a1a" stroke-width="0.12">PLC</text>
<ellipse cx="176.6" cy="413.1" rx="6.6" ry="6.6" fill="#fff" stroke="#616161" stroke-width="0.5"/>
<text x="176.6" y="414.9" font-size="5.0" text-anchor="middle" fill="#1a1a1a" stroke="#1a1a1a" stroke-width="0.12">GNAQ</text>
<ellipse cx="264.5" cy="413.1" rx="6.6" ry="6.6" fill="#fff" stroke="#616161" stroke-width="0.5"/>
<text x="264.5" y="414.9" font-size="5.0" text-anchor="middle" fill="#1a1a1a" stroke="#1a1a1a" stroke-width="0.12">GNAQ</text>
<ellipse cx="286.4" cy="413.3" rx="6.6" ry="6.6" fill="#fff" stroke="#616161" stroke-width="0.5"/>
<text x="286.4" y="412.7" font-size="4.8" text-anchor="middle" fill="#1a1a1a" stroke="#1a1a1a" stroke-width="0.12" textLength="22" lengthAdjust="spacingAndGlyphs">G protein</text>
<text x="286.4" y="418.1" font-size="4.8" text-anchor="middle" fill="#1a1a1a" stroke="#1a1a1a" stroke-width="0.12">alpha i</text>
<path d="M234.2 405.1L239.6 413.1L234.2 421.1L228.8 413.1Z" fill="#9ccf95" stroke="#a5308f" stroke-width="1.4" stroke-linejoin="miter"/>
<text x="234.2" y="414.9" font-size="5.0" text-anchor="middle" fill="#1a1a1a" stroke="#1a1a1a" stroke-width="0.12">PLC</text>
<text x="188.7" y="424.9" font-size="4.8" text-anchor="middle" fill="#1a1a1a" stroke="#1a1a1a" stroke-width="0.12" textLength="29" lengthAdjust="spacingAndGlyphs">Phosphatidyl</text>
<text x="188.7" y="430.2" font-size="4.8" text-anchor="middle" fill="#1a1a1a" stroke="#1a1a1a" stroke-width="0.12" textLength="17" lengthAdjust="spacingAndGlyphs">choline</text>
<ellipse cx="188.7" cy="459.3" rx="4.6" ry="2.8" fill="#f8cbae" stroke="#616161" stroke-width="0.5"/>
<text x="188.7" y="456.0" font-size="4.8" text-anchor="middle" fill="#1a1a1a" stroke="#1a1a1a" stroke-width="0.12" textLength="29" lengthAdjust="spacingAndGlyphs">Phosphatidic</text>
<text x="188.7" y="461.5" font-size="4.8" text-anchor="middle" fill="#1a1a1a" stroke="#1a1a1a" stroke-width="0.12">acid</text>
<ellipse cx="152.6" cy="467.0" rx="4.6" ry="2.8" fill="#f8cbae" stroke="#616161" stroke-width="0.5"/>
<text x="152.6" y="465.2" font-size="4.8" text-anchor="middle" fill="#1a1a1a" stroke="#1a1a1a" stroke-width="0.12" textLength="27" lengthAdjust="spacingAndGlyphs">Arachidonic</text>
<text x="152.6" y="470.9" font-size="4.8" text-anchor="middle" fill="#1a1a1a" stroke="#1a1a1a" stroke-width="0.12">Acid</text>
<path d="M136.3 488.8L141.3 496.8L136.3 504.8L131.3 496.8Z" fill="#eeb4c0" stroke="#a5308f" stroke-width="1.4" stroke-linejoin="miter"/>
<text x="136.3" y="498.5" font-size="4.8" text-anchor="middle" fill="#1a1a1a" stroke="#1a1a1a" stroke-width="0.12" textLength="36" lengthAdjust="spacingAndGlyphs">Cyclooxygenase</text>
<ellipse cx="152.3" cy="525.0" rx="4.6" ry="2.8" fill="#f8cbae" stroke="#616161" stroke-width="0.5"/>
<text x="152.3" y="526.7" font-size="4.8" text-anchor="middle" fill="#1a1a1a" stroke="#1a1a1a" stroke-width="0.12" textLength="27" lengthAdjust="spacingAndGlyphs">Leukotriene</text>
<ellipse cx="209.5" cy="443.6" rx="5" ry="3" fill="#a9cbee" stroke="#616161" stroke-width="0.5"/>
<text x="209.5" y="445.4" font-size="5.0" text-anchor="middle" fill="#1a1a1a" stroke="#1a1a1a" stroke-width="0.12">DAG</text>
<ellipse cx="267.4" cy="428.2" rx="4.6" ry="2.6" fill="#fff" stroke="#616161" stroke-width="0.5"/>
<text x="267.4" y="430.0" font-size="5.0" text-anchor="middle" fill="#1a1a1a" stroke="#1a1a1a" stroke-width="0.12">PIP2</text>
<ellipse cx="267.4" cy="443.6" rx="4.6" ry="3" fill="#79b1ea" stroke="#616161" stroke-width="0.5"/>
<text x="267.4" y="445.4" font-size="5.0" text-anchor="middle" fill="#1a1a1a" stroke="#1a1a1a" stroke-width="0.12">IP3</text>
<path d="M280.1 429.6H293.1L286.6 440.0Z" fill="#fff" stroke="#616161" stroke-width="0.5"/>
<text x="286.6" y="436.3" font-size="5.0" text-anchor="middle" fill="#1a1a1a" stroke="#1a1a1a" stroke-width="0.12">SRC</text>
<path d="M279.4 452.8H293.4L286.4 464.6Z" fill="#fff" stroke="#616161" stroke-width="0.5"/>
<path d="M282.0 454.5H290.8L286.4 461.9Z" fill="#fff" stroke="#616161" stroke-width="0.5"/>
<text x="286.4" y="460.4" font-size="5.0" text-anchor="middle" fill="#1a1a1a" stroke="#1a1a1a" stroke-width="0.12">PI3K</text>
<ellipse cx="324.5" cy="458.6" rx="6.6" ry="6.6" fill="#fff" stroke="#616161" stroke-width="0.5"/>
<text x="324.5" y="460.4" font-size="5.0" text-anchor="middle" fill="#1a1a1a" stroke="#1a1a1a" stroke-width="0.12">GAB1</text>
<ellipse cx="345.0" cy="457.6" rx="6.5" ry="6.5" fill="#fff" stroke="#616161" stroke-width="0.5"/>
<text x="345.0" y="459.4" font-size="5.0" text-anchor="middle" fill="#1a1a1a" stroke="#1a1a1a" stroke-width="0.12">SOS1</text>
<ellipse cx="333.1" cy="396.7" rx="5.4" ry="8" fill="#fff" stroke="#616161" stroke-width="0.5"/>
<text x="333.1" y="398.5" font-size="5.0" text-anchor="middle" fill="#1a1a1a" stroke="#1a1a1a" stroke-width="0.12">RTK</text>
<ellipse cx="333.1" cy="413.1" rx="6.5" ry="6.5" fill="#fff" stroke="#616161" stroke-width="0.5"/>
<ellipse cx="333.1" cy="413.1" rx="5.2" ry="5.2" fill="#fff" stroke="#616161" stroke-width="0.5"/>
<text x="333.1" y="414.9" font-size="5.0" text-anchor="middle" fill="#1a1a1a" stroke="#1a1a1a" stroke-width="0.12">SHC</text>
<ellipse cx="333.1" cy="432.0" rx="6.4" ry="6.4" fill="#fff" stroke="#616161" stroke-width="0.5"/>
<text x="333.1" y="433.8" font-size="5.0" text-anchor="middle" fill="#1a1a1a" stroke="#1a1a1a" stroke-width="0.12">GRB2</text>
<path d="M332.4 473.9L337.8 481.3L332.4 488.7L327.0 481.3Z" fill="#fff" stroke="#616161" stroke-width="0.5" stroke-linejoin="miter"/>
<path d="M332.4 476.3L336.0 481.3L332.4 486.3L328.8 481.3Z" fill="#fff" stroke="#616161" stroke-width="0.5" stroke-linejoin="miter"/>
<text x="332.4" y="483.1" font-size="5.0" text-anchor="middle" fill="#1a1a1a" stroke="#1a1a1a" stroke-width="0.12">RAS</text>
<path d="M203.5 460.8H215.9L209.7 471.6Z" fill="url(#gmag)" stroke="#a5308f" stroke-width="1.0"/>
<text x="209.7" y="466.8" font-size="5.0" text-anchor="middle" fill="#1a1a1a" stroke="#1a1a1a" stroke-width="0.12">PKC</text>
<path d="M203.1 490.6H216.3L209.7 502.2Z" fill="url(#gmag)" stroke="#a5308f" stroke-width="1.0"/>
<text x="209.7" y="496.8" font-size="5.0" text-anchor="middle" fill="#1a1a1a" stroke="#1a1a1a" stroke-width="0.12">MAPK</text>
<path d="M176.3 468.9H180.1V471.6H182.8V475.4H180.1V478.1H176.3V475.4H173.6V471.6H176.3Z" fill="#f0955e" stroke="#616161" stroke-width="0.4"/>
<text x="178.2" y="471.8" font-size="5.0" text-anchor="middle" fill="#1a1a1a" stroke="#1a1a1a" stroke-width="0.12">cell</text>
<text x="178.2" y="479.1" font-size="4.8" text-anchor="middle" fill="#1a1a1a" stroke="#1a1a1a" stroke-width="0.12" textLength="25" lengthAdjust="spacingAndGlyphs">contraction</text>
<path d="M176.3 491.2H180.1V493.9H182.8V497.7H180.1V500.4H176.3V497.7H173.6V493.9H176.3Z" fill="#f0955e" stroke="#616161" stroke-width="0.4"/>
<text x="178.2" y="494.3" font-size="5.0" text-anchor="middle" fill="#1a1a1a" stroke="#1a1a1a" stroke-width="0.12">cell</text>
<text x="178.2" y="501.3" font-size="4.8" text-anchor="middle" fill="#1a1a1a" stroke="#1a1a1a" stroke-width="0.12" textLength="21" lengthAdjust="spacingAndGlyphs">migration</text>
<ellipse cx="258.8" cy="481.3" rx="5" ry="3" fill="#f8cbae" stroke="#616161" stroke-width="0.5"/>
<text x="258.8" y="483.1" font-size="5.0" text-anchor="middle" fill="#1a1a1a" stroke="#1a1a1a" stroke-width="0.12">Ca2+</text>
<path d="M277.4 476.0H289.8L283.6 487.4Z" fill="url(#gor)" stroke="#616161" stroke-width="0.5"/>
<text x="283.6" y="482.3" font-size="5.0" text-anchor="middle" fill="#1a1a1a" stroke="#1a1a1a" stroke-width="0.12">RAF</text>
<path d="M332.4 499.8L339.0 504.4L332.4 509.0L325.8 504.4Z" fill="#7fb2ea" stroke="#5f93cf" stroke-width="0.4" stroke-linejoin="miter"/>
<text x="332.4" y="506.3" font-size="4.8" text-anchor="middle" fill="#1a1a1a" stroke="#1a1a1a" stroke-width="0.12" textLength="19" lengthAdjust="spacingAndGlyphs">Caspase</text>
<circle cx="332.4" cy="525.4" r="3.62" fill="#6f9fd6"/>
<circle cx="336.4" cy="525.4" r="2.63" fill="#6f9fd6"/>
<circle cx="328.4" cy="525.4" r="2.63" fill="#6f9fd6"/>
<circle cx="332.4" cy="529.7" r="2.63" fill="#6f9fd6"/>
<circle cx="332.4" cy="521.1" r="2.63" fill="#6f9fd6"/>
<circle cx="332.4" cy="525.4" r="3.22" fill="#8fbcec"/>
<circle cx="336.4" cy="525.4" r="2.23" fill="#8fbcec"/>
<circle cx="328.4" cy="525.4" r="2.23" fill="#8fbcec"/>
<circle cx="332.4" cy="529.7" r="2.23" fill="#8fbcec"/>
<circle cx="332.4" cy="521.1" r="2.23" fill="#8fbcec"/>
<text x="332.4" y="529.0" font-size="4.8" text-anchor="middle" fill="#1a1a1a" stroke="#1a1a1a" stroke-width="0.12" textLength="22" lengthAdjust="spacingAndGlyphs">Apoptosis</text>
<rect x="235.8" y="521.4" width="46.9" height="22.7" rx="1.8" fill="none" stroke="#555" stroke-width="1.1"/>
<text x="241.6" y="541.2" font-size="5.2" text-anchor="middle" fill="#1a1a1a" stroke="#1a1a1a" stroke-width="0.12">ER</text>
<rect x="254.2" y="511.6" width="10.2" height="13.2" rx="0" fill="#f6d3de" stroke="#a5308f" stroke-width="1.1"/>
<rect x="253.6" y="513.5" width="2" height="2" fill="#fff" stroke="#a5308f" stroke-width="0.5"/>
<rect x="263.0" y="513.5" width="2" height="2" fill="#fff" stroke="#a5308f" stroke-width="0.5"/>
<rect x="253.6" y="520.5" width="2" height="2" fill="#fff" stroke="#a5308f" stroke-width="0.5"/>
<rect x="263.0" y="520.5" width="2" height="2" fill="#fff" stroke="#a5308f" stroke-width="0.5"/>
<text x="259.3" y="520.2" font-size="4.8" text-anchor="middle" fill="#1a1a1a" stroke="#1a1a1a" stroke-width="0.12" textLength="15" lengthAdjust="spacingAndGlyphs">Insp3r</text>
<ellipse cx="259.0" cy="532.8" rx="5.2" ry="3" fill="#f8cbae" stroke="#616161" stroke-width="0.5"/>
<text x="259.0" y="534.6" font-size="5.0" text-anchor="middle" fill="#1a1a1a" stroke="#1a1a1a" stroke-width="0.12">Ca2+</text>
<path d="M203.8 567.2H216.2L210.0 578.6Z" fill="url(#gmag)" stroke="#a5308f" stroke-width="1.0"/>
<text x="210.0" y="573.3" font-size="5.0" text-anchor="middle" fill="#1a1a1a" stroke="#1a1a1a" stroke-width="0.12">MAPK</text>
<ellipse cx="193.2" cy="595.8" rx="8" ry="4.6" fill="#e8894c" stroke="#616161" stroke-width="0.5"/>
<text x="193.2" y="597.6" font-size="5.0" text-anchor="middle" fill="#1a1a1a" stroke="#1a1a1a" stroke-width="0.12">MYC</text>
<ellipse cx="210.0" cy="595.8" rx="8" ry="4.6" fill="#e8894c" stroke="#616161" stroke-width="0.5"/>
<text x="210.0" y="597.6" font-size="5.0" text-anchor="middle" fill="#1a1a1a" stroke="#1a1a1a" stroke-width="0.12">JUN</text>
<ellipse cx="227.0" cy="595.8" rx="8" ry="4.6" fill="#e8894c" stroke="#616161" stroke-width="0.5"/>
<text x="227.0" y="597.6" font-size="5.0" text-anchor="middle" fill="#1a1a1a" stroke="#1a1a1a" stroke-width="0.12">FOS</text>
<circle cx="210.0" cy="623.0" r="3.42" fill="#ee7532"/>
<circle cx="213.7" cy="623.0" r="2.49" fill="#ee7532"/>
<circle cx="206.3" cy="623.0" r="2.49" fill="#ee7532"/>
<circle cx="210.0" cy="627.0" r="2.49" fill="#ee7532"/>
<circle cx="210.0" cy="619.0" r="2.49" fill="#ee7532"/>
<circle cx="210.0" cy="623.0" r="3.02" fill="#ee7532"/>
<circle cx="213.7" cy="623.0" r="2.09" fill="#ee7532"/>
<circle cx="206.3" cy="623.0" r="2.09" fill="#ee7532"/>
<circle cx="210.0" cy="627.0" r="2.09" fill="#ee7532"/>
<circle cx="210.0" cy="619.0" r="2.09" fill="#ee7532"/>
<text x="210.0" y="622.1" font-size="4.4" text-anchor="middle" fill="#1a1a1a" stroke="#1a1a1a" stroke-width="0.12">Cell</text>
<text x="209" y="635" font-size="10.6" text-anchor="middle" fill="#222" textLength="55.6" lengthAdjust="spacingAndGlyphs">proliferation</text></g>
<text x="19" y="643.5" font-size="14.8" fill="#222" textLength="95" lengthAdjust="spacingAndGlyphs">T2D-CKD Atra</text><line x1="19" x2="114" y1="645.9" y2="645.9" stroke="#222" stroke-width="0.9"/>
<g id="atra"><rect x="15.2" y="680.4" width="363.8" height="4.2" fill="#666a6d"/>
<rect x="24.1" y="845.9" width="345.6" height="4.2" fill="#666a6d"/>
<text x="16.2" y="677.7" font-size="5.0" text-anchor="start" fill="#1a1a1a" stroke="#1a1a1a" stroke-width="0.12" textLength="44" lengthAdjust="spacingAndGlyphs">Extracellular space</text>
<text x="16.2" y="691.4" font-size="5.0" text-anchor="start" fill="#1a1a1a" stroke="#1a1a1a" stroke-width="0.12" textLength="25" lengthAdjust="spacingAndGlyphs">Cytoplasm</text>
<text x="24.1" y="858.2" font-size="5.0" text-anchor="start" fill="#1a1a1a" stroke="#1a1a1a" stroke-width="0.12" textLength="19" lengthAdjust="spacingAndGlyphs">Nucleus</text>
<text x="358.5" y="691.1" font-size="5.0" text-anchor="middle" fill="#1a1a1a" stroke="#1a1a1a" stroke-width="0.12" textLength="39" lengthAdjust="spacingAndGlyphs">Vascular smooth</text>
<text x="358.5" y="697.2" font-size="5.0" text-anchor="middle" fill="#1a1a1a" stroke="#1a1a1a" stroke-width="0.12" textLength="26" lengthAdjust="spacingAndGlyphs">muscle cell</text>
<path d="M44.4 666.9L44.4 726.3" stroke="#2e6cc4" stroke-width="1.2" fill="none"/>
<path d="M44.4 726.3L42.2 721.9L46.6 721.9Z" fill="#2e6cc4"/>
<path d="M44.4 734.7L44.4 747.2" stroke="#2e6cc4" stroke-width="1.2" fill="none"/>
<path d="M44.4 747.2L42.2 742.8L46.6 742.8Z" fill="#2e6cc4"/>
<path d="M44.2 764.7L44.2 789.6" stroke="#616161" stroke-width="0.6" fill="none"/>
<path d="M44.2 789.6L42.3 785.7L46.2 785.7Z" fill="#616161"/>
<path d="M33.0 790.0L54.7 790.0" stroke="#616161" stroke-width="0.6" fill="none"/>
<path d="M84.5 686.6L84.5 721.8" stroke="#2e6cc4" stroke-width="1.2" fill="none"/>
<path d="M84.5 721.8L82.3 717.4L86.7 717.4Z" fill="#2e6cc4"/>
<path d="M84.5 739.2L84.5 755.4" stroke="#616161" stroke-width="0.6" fill="none"/>
<path d="M84.5 755.4L82.5 751.5L86.4 751.5Z" fill="#616161"/>
<path d="M72.9 755.8L95.1 755.8" stroke="#616161" stroke-width="0.6" fill="none"/>
<path d="M117.5 752.5L86.5 660.5" stroke="#2e6cc4" stroke-width="1.0" fill="none"/>
<path d="M86.5 660.5L90.0 664.0L85.8 665.5Z" fill="#2e6cc4"/>
<path d="M84.4 660.8L84.4 668.9" stroke="#2e6cc4" stroke-width="1.0" fill="none"/>
<path d="M84.4 668.9L82.2 664.5L86.6 664.5Z" fill="#2e6cc4"/>
<path d="M100.3 760.3L100.3 814.0" stroke="#2e6cc4" stroke-width="1.25" fill="none" stroke-dasharray="4.2 2"/>
<path d="M100.3 814.0L97.8 809.0L102.8 809.0Z" fill="#2e6cc4"/>
<path d="M59.9 793.6L59.9 821.4L90.2 821.4" stroke="#2e6cc4" stroke-width="1.25" fill="none" stroke-dasharray="4.2 2"/>
<path d="M130.0 691.4L130.0 742.8L149.0 742.8L149.0 750.3" stroke="#616161" stroke-width="0.6" fill="none"/>
<path d="M122.3 755.8L143.5 755.8" stroke="#616161" stroke-width="0.6" fill="none"/>
<path d="M132.9 781.4L132.9 757.2" stroke="#616161" stroke-width="0.6" fill="none"/>
<path d="M132.9 757.2L134.9 761.1L131.0 761.1Z" fill="#616161"/>
<path d="M149.0 762.5L149.0 817.3" stroke="#616161" stroke-width="0.6" fill="none" stroke-dasharray="2.5 1.5"/>
<path d="M149.0 817.3L147.1 813.4L151.0 813.4Z" fill="#616161"/>
<path d="M143.0 730.1L130.7 730.1" stroke="#616161" stroke-width="0.6" fill="none"/>
<path d="M130.7 730.1L134.6 728.1L134.6 732.0Z" fill="#616161"/>
<path d="M202.2 657.5L154.0 672.5" stroke="#616161" stroke-width="0.6" fill="none"/>
<path d="M202.7 658.6L179.3 673.9" stroke="#616161" stroke-width="0.6" fill="none"/>
<path d="M179.3 673.9L181.5 670.2L183.7 673.4Z" fill="#616161"/>
<path d="M213.6 657.2L264.9 678.1" stroke="#616161" stroke-width="0.6" fill="none"/>
<path d="M264.9 678.1L260.6 678.4L262.0 674.8Z" fill="#616161"/>
<path d="M149.0 685.6L149.0 694.2" stroke="#616161" stroke-width="0.6" fill="none"/>
<path d="M172.9 686.2L172.9 690.3" stroke="#616161" stroke-width="0.6" fill="none"/>
<path d="M149.0 709.2L149.0 721.8" stroke="#2e6cc4" stroke-width="1.2" fill="none"/>
<path d="M149.0 721.8L146.8 717.4L151.2 717.4Z" fill="#2e6cc4"/>
<path d="M151.9 708.1L162.1 724.7" stroke="#2e6cc4" stroke-width="1.2" fill="none"/>
<path d="M162.1 724.7L157.9 722.1L161.7 719.8Z" fill="#2e6cc4"/>
<path d="M170.9 730.1L183.6 730.1" stroke="#616161" stroke-width="0.6" fill="none"/>
<path d="M183.6 730.1L179.7 732.0L179.7 728.1Z" fill="#616161"/>
<path d="M184.7 717.5L184.7 744.2" stroke="#616161" stroke-width="0.6" fill="none"/>
<path d="M188.4 745.3L200.3 731.9" stroke="#616161" stroke-width="0.6" fill="none"/>
<path d="M179.2 697.1L223.9 697.1" stroke="#616161" stroke-width="0.6" fill="none"/>
<path d="M223.9 697.1L220.0 699.0L220.0 695.1Z" fill="#616161"/>
<path d="M253.1 697.1L235.3 697.1" stroke="#616161" stroke-width="0.6" fill="none"/>
<path d="M235.3 697.1L239.2 695.1L239.2 699.0Z" fill="#616161"/>
<path d="M270.3 688.1L263.4 691.7" stroke="#616161" stroke-width="0.6" fill="none"/>
<path d="M271.8 688.1L278.2 691.4" stroke="#616161" stroke-width="0.6" fill="none"/>
<path d="M229.6 705.8L229.6 711.6" stroke="#616161" stroke-width="0.6" fill="none"/>
<path d="M229.6 711.6L227.6 707.7L231.5 707.7Z" fill="#616161"/>
<path d="M229.6 711.4L229.6 730.7L257.5 730.7" stroke="#616161" stroke-width="0.6" fill="none"/>
<path d="M257.5 730.7L253.6 732.7L253.6 728.8Z" fill="#616161"/>
<path d="M257.0 713.7L205.2 713.7L205.2 726.7" stroke="#616161" stroke-width="0.6" fill="none"/>
<path d="M205.2 726.7L203.2 722.8L207.1 722.8Z" fill="#616161"/>
<path d="M205.2 735.1L205.2 748.9" stroke="#f4c41c" stroke-width="1.0" fill="none"/>
<path d="M205.2 748.9L203.2 744.9L207.2 744.9Z" fill="#f4c41c"/>
<path d="M261.8 734.9L255.4 805.8" stroke="#f4c41c" stroke-width="0.9" fill="none"/>
<path d="M255.4 805.8L254.0 802.1L257.5 802.4Z" fill="#f4c41c"/>
<path d="M281.3 704.5L281.3 714.9" stroke="#616161" stroke-width="0.6" fill="none"/>
<path d="M281.3 714.9L279.3 711.0L283.2 711.0Z" fill="#616161"/>
<path d="M281.3 727.2L281.3 740.7" stroke="#616161" stroke-width="0.6" fill="none"/>
<path d="M281.3 740.7L279.3 736.8L283.2 736.8Z" fill="#616161"/>
<path d="M286.6 747.6L312.6 747.6" stroke="#616161" stroke-width="0.6" fill="none"/>
<path d="M312.6 747.6L308.7 749.6L308.7 745.7Z" fill="#616161"/>
<path d="M294.5 747.6L287.2 747.6" stroke="#616161" stroke-width="0.6" fill="none"/>
<path d="M287.2 747.6L291.1 745.7L291.1 749.6Z" fill="#616161"/>
<path d="M327.2 687.6L327.2 689.8" stroke="#616161" stroke-width="0.6" fill="none"/>
<path d="M327.2 704.3L327.2 710.8" stroke="#616161" stroke-width="0.6" fill="none"/>
<path d="M324.9 724.7L320.5 740.8" stroke="#616161" stroke-width="0.6" fill="none"/>
<path d="M329.7 724.7L336.6 740.3" stroke="#616161" stroke-width="0.6" fill="none"/>
<path d="M336.0 753.0L329.4 767.3" stroke="#616161" stroke-width="0.6" fill="none"/>
<path d="M329.4 767.3L329.2 762.9L332.8 764.6Z" fill="#616161"/>
<path d="M321.2 772.8L284.3 772.8" stroke="#616161" stroke-width="0.6" fill="none"/>
<path d="M284.3 772.8L288.2 770.9L288.2 774.8Z" fill="#616161"/>
<path d="M205.4 762.5L205.4 781.7" stroke="#2e6cc4" stroke-width="1.2" fill="none"/>
<path d="M205.4 781.7L203.2 777.3L207.6 777.3Z" fill="#2e6cc4"/>
<path d="M205.4 796.6L205.4 866.5" stroke="#2e6cc4" stroke-width="1.1" fill="none"/>
<path d="M205.4 866.5L203.3 862.3L207.5 862.3Z" fill="#2e6cc4"/>
<path d="M272.8 771.9L210.8 756.5" stroke="#2e6cc4" stroke-width="1.2" fill="none"/>
<path d="M210.8 756.5L215.8 755.4L214.7 759.8Z" fill="#2e6cc4"/>
<path d="M249.1 772.0L211.1 758.3" stroke="#2e6cc4" stroke-width="1.2" fill="none"/>
<path d="M272.8 772.8L258.5 772.8" stroke="#2e6cc4" stroke-width="1.2" fill="none"/>
<path d="M249.1 772.5L182.0 765.3" stroke="#2e6cc4" stroke-width="1.25" fill="none" stroke-dasharray="4.2 2"/>
<path d="M182.0 765.3L187.2 763.3L186.7 768.3Z" fill="#2e6cc4"/>
<path d="M249.1 774.2L183.0 789.8" stroke="#2e6cc4" stroke-width="1.25" fill="none" stroke-dasharray="4.2 2"/>
<path d="M183.0 789.8L187.3 786.2L188.4 791.1Z" fill="#2e6cc4"/>
<path d="M272.8 774.7L212.1 789.7" stroke="#2e6cc4" stroke-width="1.25" fill="none" stroke-dasharray="4.2 2"/>
<path d="M212.1 789.7L216.4 786.1L217.6 790.9Z" fill="#2e6cc4"/>
<path d="M249.1 775.3L212.6 787.8" stroke="#2e6cc4" stroke-width="1.25" fill="none" stroke-dasharray="4.2 2"/>
<path d="M200.3 785.3L182.0 768.0" stroke="#2e6cc4" stroke-width="1.25" fill="none" stroke-dasharray="4.2 2"/>
<path d="M182.0 768.0L187.4 769.7L183.9 773.3Z" fill="#2e6cc4"/>
<path d="M198.8 789.7L183.0 791.2" stroke="#2e6cc4" stroke-width="1.25" fill="none" stroke-dasharray="4.2 2"/>
<path d="M253.9 805.8L253.9 777.4" stroke="#2e6cc4" stroke-width="1.2" fill="none"/>
<path d="M253.9 777.4L255.9 781.4L251.9 781.4Z" fill="#2e6cc4"/>
<path d="M282.7 776.4L320.2 793.6" stroke="#ee7532" stroke-width="1.3" fill="none"/>
<path d="M319.3 795.6L321.1 791.6" stroke="#ee7532" stroke-width="1.3"/>
<path d="M326.5 803.4L326.5 815.4" stroke="#ee7532" stroke-width="1.2" fill="none"/>
<path d="M326.5 815.4L324.2 810.8L328.8 810.8Z" fill="#ee7532"/>
<path d="M199.3 874.7L189.1 874.7L189.1 894.5" stroke="#2e6cc4" stroke-width="1.2" fill="none" stroke-dasharray="3.6 1.8"/>
<path d="M189.1 894.5L187.1 890.5L191.1 890.5Z" fill="#2e6cc4"/>
<path d="M205.7 881.4L205.7 894.5" stroke="#2e6cc4" stroke-width="1.2" fill="none" stroke-dasharray="3.6 1.8"/>
<path d="M205.7 894.5L203.7 890.5L207.7 890.5Z" fill="#2e6cc4"/>
<path d="M208.7 878.6L220.0 894.5" stroke="#2e6cc4" stroke-width="1.2" fill="none" stroke-dasharray="3.6 1.8"/>
<path d="M220.0 894.5L216.0 892.4L219.3 890.1Z" fill="#2e6cc4"/>
<path d="M163.6 911.4L164.6 911.3L165.6 911.2L166.6 911.0L167.6 910.6L168.5 910.2L169.5 909.8L170.5 909.3L171.5 908.7L172.4 908.2L173.4 907.6L174.4 907.0L175.4 906.4L176.3 905.8L177.3 905.3L178.3 904.9L179.3 904.5L180.3 904.2L181.2 904.0L182.2 903.8L183.2 903.8L184.2 903.9L185.1 904.0L186.1 904.3L187.1 904.6L188.1 905.0L189.1 905.4L190.0 905.9L191.0 906.5L192.0 907.1L193.0 907.7L193.9 908.3L194.9 908.8L195.9 909.4L196.9 909.9L197.8 910.3L198.8 910.7L199.8 911.0L200.8 911.2L201.8 911.3L202.7 911.4L203.7 911.3L204.7 911.1L205.7 910.9L206.6 910.6L207.6 910.2L208.6 909.7L209.6 909.2L210.5 908.6L211.5 908.0L212.5 907.4L213.5 906.8L214.5 906.3L215.4 905.7L216.4 905.2L217.4 904.8L218.4 904.4L219.3 904.1L220.3 903.9L221.3 903.8L222.3 903.8L223.2 903.9L224.2 904.1L225.2 904.3L226.2 904.6L227.2 905.1L228.1 905.5L229.1 906.1L230.1 906.6L231.1 907.2L232.0 907.8L233.0 908.4L234.0 909.0L235.0 909.5L236.0 910.0L236.9 910.4L237.9 910.8L238.9 911.1L239.9 911.2L240.8 911.3L241.8 911.4L242.8 911.3L243.8 911.1L244.7 910.8L245.7 910.5L246.7 910.1L247.7 909.6L248.7 909.1L249.6 908.5L250.6 907.9L251.6 907.3" stroke="#8a8a8a" stroke-width="0.5" fill="none"/>
<path d="M163.6 903.8L164.6 903.9L165.6 904.0L166.6 904.2L167.6 904.5L168.5 904.9L169.5 905.4L170.5 905.9L171.5 906.4L172.4 907.0L173.4 907.6L174.4 908.2L175.4 908.8L176.3 909.3L177.3 909.8L178.3 910.3L179.3 910.7L180.3 911.0L181.2 911.2L182.2 911.3L183.2 911.4L184.2 911.3L185.1 911.2L186.1 910.9L187.1 910.6L188.1 910.2L189.1 909.7L190.0 909.2L191.0 908.7L192.0 908.1L193.0 907.5L193.9 906.9L194.9 906.3L195.9 905.8L196.9 905.3L197.8 904.8L198.8 904.5L199.8 904.2L200.8 904.0L201.8 903.8L202.7 903.8L203.7 903.9L204.7 904.0L205.7 904.3L206.6 904.6L207.6 905.0L208.6 905.5L209.6 906.0L210.5 906.6L211.5 907.1L212.5 907.7L213.5 908.3L214.5 908.9L215.4 909.4L216.4 909.9L217.4 910.4L218.4 910.7L219.3 911.0L220.3 911.2L221.3 911.3L222.3 911.4L223.2 911.3L224.2 911.1L225.2 910.9L226.2 910.5L227.2 910.1L228.1 909.6L229.1 909.1L230.1 908.6L231.1 908.0L232.0 907.4L233.0 906.8L234.0 906.2L235.0 905.7L236.0 905.2L236.9 904.8L237.9 904.4L238.9 904.1L239.9 903.9L240.8 903.8L241.8 903.8L242.8 903.9L243.8 904.1L244.7 904.3L245.7 904.7L246.7 905.1L247.7 905.6L248.7 906.1L249.6 906.7L250.6 907.3L251.6 907.9" stroke="#8a8a8a" stroke-width="0.5" fill="none"/>
<line x1="162.5" y1="911.4" x2="164.8" y2="903.8" stroke="#8a8a8a" stroke-width="0.5"/>
<line x1="165.4" y1="910.9" x2="167.8" y2="904.2" stroke="#8a8a8a" stroke-width="0.5"/>
<line x1="168.4" y1="909.8" x2="170.8" y2="905.4" stroke="#8a8a8a" stroke-width="0.5"/>
<line x1="174.3" y1="906.3" x2="176.7" y2="908.9" stroke="#8a8a8a" stroke-width="0.5"/>
<line x1="177.3" y1="904.8" x2="179.6" y2="910.4" stroke="#8a8a8a" stroke-width="0.5"/>
<line x1="180.2" y1="903.9" x2="182.6" y2="911.2" stroke="#8a8a8a" stroke-width="0.5"/>
<line x1="183.2" y1="903.9" x2="185.6" y2="911.3" stroke="#8a8a8a" stroke-width="0.5"/>
<line x1="186.1" y1="904.7" x2="188.5" y2="910.5" stroke="#8a8a8a" stroke-width="0.5"/>
<line x1="189.1" y1="906.1" x2="191.5" y2="909.1" stroke="#8a8a8a" stroke-width="0.5"/>
<line x1="195.0" y1="909.6" x2="197.4" y2="905.6" stroke="#8a8a8a" stroke-width="0.5"/>
<line x1="198.0" y1="910.8" x2="200.4" y2="904.4" stroke="#8a8a8a" stroke-width="0.5"/>
<line x1="201.0" y1="911.4" x2="203.3" y2="903.8" stroke="#8a8a8a" stroke-width="0.5"/>
<line x1="203.9" y1="911.0" x2="206.3" y2="904.1" stroke="#8a8a8a" stroke-width="0.5"/>
<line x1="206.9" y1="910.0" x2="209.2" y2="905.2" stroke="#8a8a8a" stroke-width="0.5"/>
<line x1="212.8" y1="906.5" x2="215.2" y2="908.6" stroke="#8a8a8a" stroke-width="0.5"/>
<line x1="215.8" y1="905.0" x2="218.1" y2="910.2" stroke="#8a8a8a" stroke-width="0.5"/>
<line x1="218.7" y1="904.0" x2="221.1" y2="911.2" stroke="#8a8a8a" stroke-width="0.5"/>
<line x1="221.7" y1="903.9" x2="224.0" y2="911.3" stroke="#8a8a8a" stroke-width="0.5"/>
<line x1="224.6" y1="904.5" x2="227.0" y2="910.7" stroke="#8a8a8a" stroke-width="0.5"/>
<line x1="227.6" y1="905.9" x2="230.0" y2="909.3" stroke="#8a8a8a" stroke-width="0.5"/>
<line x1="233.5" y1="909.4" x2="235.9" y2="905.8" stroke="#8a8a8a" stroke-width="0.5"/>
<line x1="236.5" y1="910.7" x2="238.9" y2="904.5" stroke="#8a8a8a" stroke-width="0.5"/>
<line x1="239.4" y1="911.3" x2="241.8" y2="903.8" stroke="#8a8a8a" stroke-width="0.5"/>
<line x1="242.4" y1="911.1" x2="244.8" y2="904.0" stroke="#8a8a8a" stroke-width="0.5"/>
<line x1="245.4" y1="910.1" x2="247.7" y2="905.0" stroke="#8a8a8a" stroke-width="0.5"/>
<line x1="248.3" y1="908.6" x2="250.7" y2="906.6" stroke="#8a8a8a" stroke-width="0.5"/>
<line x1="163.6" y1="904.2" x2="163.6" y2="911.0" stroke="#8a8a8a" stroke-width="0.5"/>
<line x1="251.6" y1="904.2" x2="251.6" y2="911.0" stroke="#8a8a8a" stroke-width="0.5"/>
<path d="M191.4 904.7L202.7 922.9" stroke="#2e6cc4" stroke-width="1.2" fill="none" stroke-dasharray="3.6 1.8"/>
<path d="M202.7 922.9L198.5 920.3L202.3 918.0Z" fill="#2e6cc4"/>
<path d="M205.7 905.3L205.7 922.9" stroke="#2e6cc4" stroke-width="1.2" fill="none" stroke-dasharray="3.6 1.8"/>
<path d="M205.7 922.9L203.5 918.5L207.9 918.5Z" fill="#2e6cc4"/>
<path d="M220.0 904.7L208.7 922.9" stroke="#2e6cc4" stroke-width="1.2" fill="none" stroke-dasharray="3.6 1.8"/>
<path d="M208.7 922.9L209.1 918.0L212.8 920.3Z" fill="#2e6cc4"/>
<ellipse cx="44.4" cy="663.3" rx="4.6" ry="3.0" fill="#a9cbee" stroke="#616161" stroke-width="0.5"/>
<text x="44.4" y="665.1" font-size="5.0" text-anchor="middle" fill="#1a1a1a" stroke="#1a1a1a" stroke-width="0.12">NO</text>
<ellipse cx="44.4" cy="730.5" rx="4.6" ry="3.0" fill="#a9cbee" stroke="#616161" stroke-width="0.5"/>
<text x="44.4" y="732.3" font-size="5.0" text-anchor="middle" fill="#1a1a1a" stroke="#1a1a1a" stroke-width="0.12">NO</text>
<path d="M44.2 748.2L49.2 755.8L44.2 763.4L39.2 755.8Z" fill="#a9cbee" stroke="#616161" stroke-width="0.5" stroke-linejoin="miter"/>
<text x="44.2" y="757.6" font-size="5.0" text-anchor="middle" fill="#1a1a1a" stroke="#1a1a1a" stroke-width="0.12">GC</text>
<ellipse cx="28.0" cy="790.0" rx="5" ry="3.0" fill="#f4f4f4" stroke="#616161" stroke-width="0.5"/>
<text x="28.0" y="791.8" font-size="5.0" text-anchor="middle" fill="#1a1a1a" stroke="#1a1a1a" stroke-width="0.12">GTP</text>
<ellipse cx="59.9" cy="790.0" rx="5.2" ry="3.0" fill="#a9cbee" stroke="#616161" stroke-width="0.5"/>
<text x="59.9" y="791.8" font-size="5.0" text-anchor="middle" fill="#1a1a1a" stroke="#1a1a1a" stroke-width="0.12">cGMP</text>
<ellipse cx="84.3" cy="656.6" rx="5" ry="3.0" fill="#a9cbee" stroke="#616161" stroke-width="0.5"/>
<text x="84.3" y="658.4" font-size="5.0" text-anchor="middle" fill="#1a1a1a" stroke="#1a1a1a" stroke-width="0.12">PGE2</text>
<rect x="79.7" y="670.4" width="9.8" height="15.3" rx="0" fill="#8ab6e6" stroke="#616161" stroke-width="0.5"/>
<text x="84.7" y="679.9" font-size="5.2" text-anchor="middle" fill="#1a1a1a" stroke="#1a1a1a" stroke-width="0.12" textLength="21" lengthAdjust="spacingAndGlyphs">PTGER2</text>
<path d="M84.5 722.9L89.7 730.5L84.5 738.1L79.3 730.5Z" fill="#a9cbee" stroke="#616161" stroke-width="0.5" stroke-linejoin="miter"/>
<text x="84.5" y="732.3" font-size="5.0" text-anchor="middle" fill="#1a1a1a" stroke="#1a1a1a" stroke-width="0.12">ADCY</text>
<ellipse cx="68.0" cy="755.8" rx="4.8" ry="3.0" fill="#8fc98a" stroke="#a5308f" stroke-width="1.0"/>
<text x="68.0" y="757.6" font-size="5.0" text-anchor="middle" fill="#1a1a1a" stroke="#1a1a1a" stroke-width="0.12">ATP</text>
<ellipse cx="100.3" cy="755.8" rx="5.2" ry="3.0" fill="#a9cbee" stroke="#616161" stroke-width="0.5"/>
<text x="100.3" y="757.6" font-size="5.0" text-anchor="middle" fill="#1a1a1a" stroke="#1a1a1a" stroke-width="0.12">cAMP</text>
<ellipse cx="117.5" cy="755.8" rx="5.2" ry="3.0" fill="#a9cbee" stroke="#616161" stroke-width="0.5"/>
<text x="117.5" y="757.6" font-size="5.0" text-anchor="middle" fill="#1a1a1a" stroke="#1a1a1a" stroke-width="0.12">RGS2</text>
<circle cx="99.9" cy="821.4" r="3.52" fill="#616161"/>
<circle cx="103.7" cy="821.4" r="2.56" fill="#616161"/>
<circle cx="96.0" cy="821.4" r="2.56" fill="#616161"/>
<circle cx="99.9" cy="825.5" r="2.56" fill="#616161"/>
<circle cx="99.9" cy="817.2" r="2.56" fill="#616161"/>
<circle cx="99.9" cy="821.4" r="3.12" fill="#a9cbee"/>
<circle cx="103.7" cy="821.4" r="2.16" fill="#a9cbee"/>
<circle cx="96.0" cy="821.4" r="2.16" fill="#a9cbee"/>
<circle cx="99.9" cy="825.5" r="2.16" fill="#a9cbee"/>
<circle cx="99.9" cy="817.2" r="2.16" fill="#a9cbee"/>
<text x="99.9" y="823.1" font-size="4.8" text-anchor="middle" fill="#1a1a1a" stroke="#1a1a1a" stroke-width="0.12" textLength="25" lengthAdjust="spacingAndGlyphs">Relaxation</text>
<ellipse cx="130.0" cy="687.4" rx="4.5" ry="3.0" fill="#fff" stroke="#616161" stroke-width="0.5"/>
<text x="130.0" y="689.1" font-size="4.8" text-anchor="middle" fill="#1a1a1a" stroke="#1a1a1a" stroke-width="0.12" textLength="29" lengthAdjust="spacingAndGlyphs">Phospholipid</text>
<rect x="144.1" y="670.6" width="9.9" height="14.2" rx="0" fill="#fff" stroke="#616161" stroke-width="0.5"/>
<rect x="145.6" y="672.1" width="6.9" height="11.2" rx="0" fill="#fff" stroke="#616161" stroke-width="0.5"/>
<text x="149.0" y="676.5" font-size="4.8" text-anchor="middle" fill="#1a1a1a" stroke="#1a1a1a" stroke-width="0.12" textLength="24" lengthAdjust="spacingAndGlyphs">Endothelin</text>
<text x="149.0" y="682.6" font-size="4.8" text-anchor="middle" fill="#1a1a1a" stroke="#1a1a1a" stroke-width="0.12" textLength="19" lengthAdjust="spacingAndGlyphs">receptor</text>
<rect x="168.4" y="670.7" width="9.2" height="14.7" rx="0" fill="#fff" stroke="#616161" stroke-width="0.5"/>
<text x="173.0" y="679.6" font-size="5.0" text-anchor="middle" fill="#1a1a1a" stroke="#1a1a1a" stroke-width="0.12">EDNRA</text>
<ellipse cx="208.0" cy="654.5" rx="6.6" ry="6.6" fill="#fff" stroke="#616161" stroke-width="0.5"/>
<text x="208.0" y="656.3" font-size="5.0" text-anchor="middle" fill="#1a1a1a" stroke="#1a1a1a" stroke-width="0.12">EDN1</text>
<rect x="265.0" y="672.6" width="10.5" height="14.6" rx="0" fill="#fff" stroke="#616161" stroke-width="0.5"/>
<text x="270.0" y="682.4" font-size="5.0" text-anchor="middle" fill="#1a1a1a" stroke="#1a1a1a" stroke-width="0.12">EDNRB</text>
<ellipse cx="149.0" cy="701.5" rx="6.4" ry="6.4" fill="#8fc98a" stroke="#a5308f" stroke-width="1.3"/>
<text x="149.0" y="700.3" font-size="4.8" text-anchor="middle" fill="#1a1a1a" stroke="#1a1a1a" stroke-width="0.12" textLength="22" lengthAdjust="spacingAndGlyphs">G-protein</text>
<text x="149.0" y="706.2" font-size="4.8" text-anchor="middle" fill="#1a1a1a" stroke="#1a1a1a" stroke-width="0.12">alpha</text>
<path d="M149.0 722.2L154.6 730.2L149.0 738.2L143.4 730.2Z" fill="#eeb4c0" stroke="#a5308f" stroke-width="1.4" stroke-linejoin="miter"/>
<text x="149.0" y="732.0" font-size="5.0" text-anchor="middle" fill="#1a1a1a" stroke="#1a1a1a" stroke-width="0.12">PLA2</text>
<path d="M165.2 722.2L170.6 730.2L165.2 738.2L159.8 730.2Z" fill="#4f7fc0" stroke="#616161" stroke-width="0.5" stroke-linejoin="miter"/>
<text x="165.2" y="732.0" font-size="5.0" text-anchor="middle" fill="#1a1a1a" stroke="#1a1a1a" stroke-width="0.12">PLC</text>
<ellipse cx="172.7" cy="697.1" rx="6.6" ry="6.6" fill="#fff" stroke="#616161" stroke-width="0.5"/>
<text x="172.7" y="698.9" font-size="5.0" text-anchor="middle" fill="#1a1a1a" stroke="#1a1a1a" stroke-width="0.12">GNAQ</text>
<ellipse cx="259.5" cy="697.1" rx="6.6" ry="6.6" fill="#fff" stroke="#616161" stroke-width="0.5"/>
<text x="259.5" y="698.9" font-size="5.0" text-anchor="middle" fill="#1a1a1a" stroke="#1a1a1a" stroke-width="0.12">GNAQ</text>
<ellipse cx="281.1" cy="697.3" rx="6.6" ry="6.6" fill="#fff" stroke="#616161" stroke-width="0.5"/>
<text x="281.1" y="696.4" font-size="4.8" text-anchor="middle" fill="#1a1a1a" stroke="#1a1a1a" stroke-width="0.12" textLength="22" lengthAdjust="spacingAndGlyphs">G protein</text>
<text x="281.1" y="702.4" font-size="4.8" text-anchor="middle" fill="#1a1a1a" stroke="#1a1a1a" stroke-width="0.12">alpha i</text>
<path d="M229.6 689.1L235.0 697.1L229.6 705.1L224.2 697.1Z" fill="#eeb4c0" stroke="#a5308f" stroke-width="1.4" stroke-linejoin="miter"/>
<text x="229.6" y="698.9" font-size="5.0" text-anchor="middle" fill="#1a1a1a" stroke="#1a1a1a" stroke-width="0.12">PLC</text>
<text x="184.7" y="710.0" font-size="4.8" text-anchor="middle" fill="#1a1a1a" stroke="#1a1a1a" stroke-width="0.12" textLength="29" lengthAdjust="spacingAndGlyphs">Phosphatidyl</text>
<text x="184.7" y="715.9" font-size="4.8" text-anchor="middle" fill="#1a1a1a" stroke="#1a1a1a" stroke-width="0.12" textLength="17" lengthAdjust="spacingAndGlyphs">choline</text>
<ellipse cx="184.7" cy="748.4" rx="4.6" ry="2.8" fill="#a9cbee" stroke="#616161" stroke-width="0.5"/>
<text x="184.7" y="744.6" font-size="4.8" text-anchor="middle" fill="#1a1a1a" stroke="#1a1a1a" stroke-width="0.12" textLength="29" lengthAdjust="spacingAndGlyphs">Phosphatidic</text>
<text x="184.7" y="750.7" font-size="4.8" text-anchor="middle" fill="#1a1a1a" stroke="#1a1a1a" stroke-width="0.12">acid</text>
<ellipse cx="149.0" cy="756.9" rx="4.6" ry="2.8" fill="#a9cbee" stroke="#616161" stroke-width="0.5"/>
<text x="149.0" y="754.8" font-size="4.8" text-anchor="middle" fill="#1a1a1a" stroke="#1a1a1a" stroke-width="0.12" textLength="27" lengthAdjust="spacingAndGlyphs">Arachidonic</text>
<text x="149.0" y="761.1" font-size="4.8" text-anchor="middle" fill="#1a1a1a" stroke="#1a1a1a" stroke-width="0.12">Acid</text>
<path d="M132.9 782.0L137.9 790.0L132.9 798.0L127.9 790.0Z" fill="#eeb4c0" stroke="#a5308f" stroke-width="1.4" stroke-linejoin="miter"/>
<text x="132.9" y="791.8" font-size="4.8" text-anchor="middle" fill="#1a1a1a" stroke="#1a1a1a" stroke-width="0.12" textLength="36" lengthAdjust="spacingAndGlyphs">Cyclooxygenase</text>
<ellipse cx="148.7" cy="821.4" rx="4.6" ry="2.8" fill="#a9cbee" stroke="#616161" stroke-width="0.5"/>
<text x="148.7" y="823.1" font-size="4.8" text-anchor="middle" fill="#1a1a1a" stroke="#1a1a1a" stroke-width="0.12" textLength="27" lengthAdjust="spacingAndGlyphs">Leukotriene</text>
<ellipse cx="205.2" cy="730.9" rx="5" ry="3" fill="#f8cbae" stroke="#616161" stroke-width="0.5"/>
<text x="205.2" y="732.7" font-size="5.0" text-anchor="middle" fill="#1a1a1a" stroke="#1a1a1a" stroke-width="0.12">DAG</text>
<ellipse cx="262.3" cy="713.8" rx="4.6" ry="2.6" fill="#fff" stroke="#616161" stroke-width="0.5"/>
<text x="262.3" y="715.6" font-size="5.0" text-anchor="middle" fill="#1a1a1a" stroke="#1a1a1a" stroke-width="0.12">PIP2</text>
<ellipse cx="262.3" cy="730.9" rx="4.6" ry="3" fill="#f8cbae" stroke="#616161" stroke-width="0.5"/>
<text x="262.3" y="732.7" font-size="5.0" text-anchor="middle" fill="#1a1a1a" stroke="#1a1a1a" stroke-width="0.12">IP3</text>
<path d="M274.8 716.0H287.8L281.3 726.4Z" fill="#fff" stroke="#616161" stroke-width="0.5"/>
<text x="281.3" y="722.6" font-size="5.0" text-anchor="middle" fill="#1a1a1a" stroke="#1a1a1a" stroke-width="0.12">SRC</text>
<path d="M274.1 741.8H288.1L281.1 753.6Z" fill="#fff" stroke="#616161" stroke-width="0.5"/>
<path d="M276.7 743.5H285.5L281.1 750.9Z" fill="#fff" stroke="#616161" stroke-width="0.5"/>
<text x="281.1" y="749.4" font-size="5.0" text-anchor="middle" fill="#1a1a1a" stroke="#1a1a1a" stroke-width="0.12">PI3K</text>
<ellipse cx="318.7" cy="747.6" rx="6.6" ry="6.6" fill="#fff" stroke="#616161" stroke-width="0.5"/>
<text x="318.7" y="749.4" font-size="5.0" text-anchor="middle" fill="#1a1a1a" stroke="#1a1a1a" stroke-width="0.12">GAB1</text>
<ellipse cx="338.9" cy="746.5" rx="6.5" ry="6.5" fill="#fff" stroke="#616161" stroke-width="0.5"/>
<text x="338.9" y="748.3" font-size="5.0" text-anchor="middle" fill="#1a1a1a" stroke="#1a1a1a" stroke-width="0.12">SOS1</text>
<ellipse cx="327.2" cy="678.8" rx="5.4" ry="8" fill="#fff" stroke="#616161" stroke-width="0.5"/>
<text x="327.2" y="680.6" font-size="5.0" text-anchor="middle" fill="#1a1a1a" stroke="#1a1a1a" stroke-width="0.12">RTK</text>
<ellipse cx="327.2" cy="697.1" rx="6.5" ry="6.5" fill="#fff" stroke="#616161" stroke-width="0.5"/>
<ellipse cx="327.2" cy="697.1" rx="5.2" ry="5.2" fill="#fff" stroke="#616161" stroke-width="0.5"/>
<text x="327.2" y="698.9" font-size="5.0" text-anchor="middle" fill="#1a1a1a" stroke="#1a1a1a" stroke-width="0.12">SHC</text>
<ellipse cx="327.2" cy="718.1" rx="6.4" ry="6.4" fill="#fff" stroke="#616161" stroke-width="0.5"/>
<text x="327.2" y="719.9" font-size="5.0" text-anchor="middle" fill="#1a1a1a" stroke="#1a1a1a" stroke-width="0.12">GRB2</text>
<path d="M326.5 765.4L331.9 772.8L326.5 780.2L321.1 772.8Z" fill="#fff" stroke="#616161" stroke-width="0.5" stroke-linejoin="miter"/>
<path d="M326.5 767.8L330.1 772.8L326.5 777.8L322.9 772.8Z" fill="#fff" stroke="#616161" stroke-width="0.5" stroke-linejoin="miter"/>
<text x="326.5" y="774.6" font-size="5.0" text-anchor="middle" fill="#1a1a1a" stroke="#1a1a1a" stroke-width="0.12">RAS</text>
<path d="M199.2 750.6H211.6L205.4 761.4Z" fill="url(#gmagg)" stroke="#a5308f" stroke-width="1.0"/>
<text x="205.4" y="756.5" font-size="5.0" text-anchor="middle" fill="#1a1a1a" stroke="#1a1a1a" stroke-width="0.12">PKC</text>
<path d="M198.8 783.8H212.0L205.4 795.4Z" fill="url(#gmagg)" stroke="#a5308f" stroke-width="1.0"/>
<text x="205.4" y="789.8" font-size="5.0" text-anchor="middle" fill="#1a1a1a" stroke="#1a1a1a" stroke-width="0.12">MAPK</text>
<path d="M172.4 759.6H176.2V762.2H178.9V766.1H176.2V768.8H172.4V766.1H169.7V762.2H172.4Z" fill="#6fa4e0" stroke="#616161" stroke-width="0.4"/>
<text x="174.3" y="762.1" font-size="5.0" text-anchor="middle" fill="#1a1a1a" stroke="#1a1a1a" stroke-width="0.12">cell</text>
<text x="174.3" y="770.2" font-size="4.8" text-anchor="middle" fill="#1a1a1a" stroke="#1a1a1a" stroke-width="0.12" textLength="25" lengthAdjust="spacingAndGlyphs">contraction</text>
<path d="M172.4 784.3H176.2V787.0H178.9V790.9H176.2V793.5H172.4V790.9H169.7V787.0H172.4Z" fill="#6fa4e0" stroke="#616161" stroke-width="0.4"/>
<text x="174.3" y="787.1" font-size="5.0" text-anchor="middle" fill="#1a1a1a" stroke="#1a1a1a" stroke-width="0.12">cell</text>
<text x="174.3" y="794.9" font-size="4.8" text-anchor="middle" fill="#1a1a1a" stroke="#1a1a1a" stroke-width="0.12" textLength="21" lengthAdjust="spacingAndGlyphs">migration</text>
<ellipse cx="253.9" cy="772.8" rx="5" ry="3" fill="#a9cbee" stroke="#616161" stroke-width="0.5"/>
<text x="253.9" y="774.6" font-size="5.0" text-anchor="middle" fill="#1a1a1a" stroke="#1a1a1a" stroke-width="0.12">Ca2+</text>
<path d="M272.1 767.6H284.5L278.3 779.0Z" fill="url(#gbl)" stroke="#616161" stroke-width="0.5"/>
<text x="278.3" y="773.7" font-size="5.0" text-anchor="middle" fill="#1a1a1a" stroke="#1a1a1a" stroke-width="0.12">RAF</text>
<path d="M326.5 793.9L333.1 798.5L326.5 803.1L319.9 798.5Z" fill="#f3a57a" stroke="#d98050" stroke-width="0.4" stroke-linejoin="miter"/>
<text x="326.5" y="800.4" font-size="4.8" text-anchor="middle" fill="#1a1a1a" stroke="#1a1a1a" stroke-width="0.12" textLength="19" lengthAdjust="spacingAndGlyphs">Caspase</text>
<circle cx="326.5" cy="821.8" r="3.62" fill="#e09060"/>
<circle cx="330.5" cy="821.8" r="2.63" fill="#e09060"/>
<circle cx="322.5" cy="821.8" r="2.63" fill="#e09060"/>
<circle cx="326.5" cy="826.1" r="2.63" fill="#e09060"/>
<circle cx="326.5" cy="817.5" r="2.63" fill="#e09060"/>
<circle cx="326.5" cy="821.8" r="3.22" fill="#f5b08a"/>
<circle cx="330.5" cy="821.8" r="2.23" fill="#f5b08a"/>
<circle cx="322.5" cy="821.8" r="2.23" fill="#f5b08a"/>
<circle cx="326.5" cy="826.1" r="2.23" fill="#f5b08a"/>
<circle cx="326.5" cy="817.5" r="2.23" fill="#f5b08a"/>
<text x="326.5" y="825.7" font-size="4.8" text-anchor="middle" fill="#1a1a1a" stroke="#1a1a1a" stroke-width="0.12" textLength="22" lengthAdjust="spacingAndGlyphs">Apoptosis</text>
<rect x="230.9" y="818.6" width="46.9" height="22.7" rx="1.8" fill="none" stroke="#555" stroke-width="1.1"/>
<text x="236.9" y="839.1" font-size="5.2" text-anchor="middle" fill="#1a1a1a" stroke="#1a1a1a" stroke-width="0.12">ER</text>
<rect x="249.3" y="807.2" width="10.2" height="13.2" rx="0" fill="#d6e8d4" stroke="#a5308f" stroke-width="1.1"/>
<rect x="248.7" y="808.7" width="2" height="2" fill="#fff" stroke="#a5308f" stroke-width="0.5"/>
<rect x="258.0" y="808.7" width="2" height="2" fill="#fff" stroke="#a5308f" stroke-width="0.5"/>
<rect x="248.7" y="816.5" width="2" height="2" fill="#fff" stroke="#a5308f" stroke-width="0.5"/>
<rect x="258.0" y="816.5" width="2" height="2" fill="#fff" stroke="#a5308f" stroke-width="0.5"/>
<text x="254.4" y="815.9" font-size="4.8" text-anchor="middle" fill="#1a1a1a" stroke="#1a1a1a" stroke-width="0.12" textLength="15" lengthAdjust="spacingAndGlyphs">Insp3r</text>
<ellipse cx="254.1" cy="830.0" rx="5.2" ry="3" fill="#a9cbee" stroke="#616161" stroke-width="0.5"/>
<text x="254.1" y="831.8" font-size="5.0" text-anchor="middle" fill="#1a1a1a" stroke="#1a1a1a" stroke-width="0.12">Ca2+</text>
<path d="M199.5 868.9H211.9L205.7 880.3Z" fill="url(#gmagg)" stroke="#a5308f" stroke-width="1.0"/>
<text x="205.7" y="874.8" font-size="5.0" text-anchor="middle" fill="#1a1a1a" stroke="#1a1a1a" stroke-width="0.12">MAPK</text>
<ellipse cx="189.1" cy="900.0" rx="8" ry="4.6" fill="#5f95d6" stroke="#616161" stroke-width="0.5"/>
<text x="189.1" y="901.8" font-size="5.0" text-anchor="middle" fill="#fff" stroke="#fff" stroke-width="0.12">MYC</text>
<ellipse cx="205.7" cy="900.0" rx="8" ry="4.6" fill="#5f95d6" stroke="#616161" stroke-width="0.5"/>
<text x="205.7" y="901.8" font-size="5.0" text-anchor="middle" fill="#fff" stroke="#fff" stroke-width="0.12">JUN</text>
<ellipse cx="222.5" cy="900.0" rx="8" ry="4.6" fill="#5f95d6" stroke="#616161" stroke-width="0.5"/>
<text x="222.5" y="901.8" font-size="5.0" text-anchor="middle" fill="#fff" stroke="#fff" stroke-width="0.12">FOS</text>
<circle cx="205.7" cy="927.8" r="2.90" fill="#616161"/>
<circle cx="208.8" cy="927.8" r="2.13" fill="#616161"/>
<circle cx="202.6" cy="927.8" r="2.13" fill="#616161"/>
<circle cx="205.7" cy="931.1" r="2.13" fill="#616161"/>
<circle cx="205.7" cy="924.5" r="2.13" fill="#616161"/>
<circle cx="205.7" cy="927.8" r="2.50" fill="#5f95d6"/>
<circle cx="208.8" cy="927.8" r="1.73" fill="#5f95d6"/>
<circle cx="202.6" cy="927.8" r="1.73" fill="#5f95d6"/>
<circle cx="205.7" cy="931.1" r="1.73" fill="#5f95d6"/>
<circle cx="205.7" cy="924.5" r="1.73" fill="#5f95d6"/>
<text x="205.7" y="926.9" font-size="4.4" text-anchor="middle" fill="#1a1a1a" stroke="#1a1a1a" stroke-width="0.12">Cell</text>
<text x="205.7" y="934.5" font-size="4.8" text-anchor="middle" fill="#1a1a1a" stroke="#1a1a1a" stroke-width="0.12" textLength="22" lengthAdjust="spacingAndGlyphs">proliferation</text></g>
<g id="pl"><rect x="424.8" y="543" width="101.8" height="161.3" fill="#fff" stroke="#9a9a9a" stroke-width="0.7"/>
<rect x="445" y="538" width="66" height="10" fill="#fff"/>
<text x="477.8" y="545.0" font-size="7.1" font-weight="bold" text-anchor="middle" fill="#111" textLength="61" lengthAdjust="spacingAndGlyphs">Prediction Legend</text>
<text x="427.7" y="555.3" font-size="6.4" fill="#222" textLength="40" lengthAdjust="spacingAndGlyphs">More extreme</text>
<text x="509.9" y="555.3" font-size="6.4" fill="#222" textLength="11.3" lengthAdjust="spacingAndGlyphs">less</text>
<ellipse cx="437.3" cy="562.1" rx="6.8" ry="4.3" fill="#e8213a" stroke="#7b7b7b" stroke-width="0.8"/>
<text x="457" y="564.3" font-size="6.4" fill="#222" textLength="35.4" lengthAdjust="spacingAndGlyphs">Upregulated</text>
<ellipse cx="515.4" cy="562.1" rx="6.8" ry="4.3" fill="#eba2a4" stroke="#7b7b7b" stroke-width="0.8"/>
<ellipse cx="437.3" cy="572.8" rx="6.8" ry="4.3" fill="#4cb254" stroke="#7b7b7b" stroke-width="0.8"/>
<text x="453.6" y="575.1" font-size="6.4" fill="#222" textLength="43.2" lengthAdjust="spacingAndGlyphs">Downregulated</text>
<ellipse cx="515.4" cy="572.8" rx="6.8" ry="4.3" fill="#a6d392" stroke="#7b7b7b" stroke-width="0.8"/>
<text x="427.7" y="592.2" font-size="6.4" fill="#222" textLength="48.5" lengthAdjust="spacingAndGlyphs">more confidence</text>
<text x="509.9" y="592.2" font-size="6.4" fill="#222" textLength="11.3" lengthAdjust="spacingAndGlyphs">less</text>
<ellipse cx="437.3" cy="598.5" rx="6.8" ry="4.3" fill="#ef7632" stroke="#7b7b7b" stroke-width="0.8"/>
<text x="450.1" y="600.8" font-size="6.4" fill="#222" textLength="55.7" lengthAdjust="spacingAndGlyphs">Predicted activation</text>
<ellipse cx="515.4" cy="598.5" rx="6.8" ry="4.3" fill="#efbd8c" stroke="#7b7b7b" stroke-width="0.8"/>
<ellipse cx="437.3" cy="609.1" rx="6.8" ry="4.3" fill="#2e69b9" stroke="#7b7b7b" stroke-width="0.8"/>
<text x="450.1" y="611.4" font-size="6.4" fill="#222" textLength="54.8" lengthAdjust="spacingAndGlyphs">Predicted inhibition</text>
<ellipse cx="515.4" cy="609.1" rx="6.8" ry="4.3" fill="#9bb9e2" stroke="#7b7b7b" stroke-width="0.8"/>
<text x="426.7" y="622.9" font-size="6.4" fill="#222" textLength="63.5" lengthAdjust="spacingAndGlyphs">Glow indicates activity</text>
<text x="426.7" y="630.8" font-size="6.4" fill="#222" textLength="49" lengthAdjust="spacingAndGlyphs">when opposite of</text>
<text x="426.7" y="638.3" font-size="6.4" fill="#222" textLength="39.5" lengthAdjust="spacingAndGlyphs">measurement</text>
<ellipse cx="497.8" cy="623.5" rx="6.8" ry="4.3" fill="#e8213a" stroke="#3d7ad0" stroke-width="1.6"/>
<ellipse cx="497.8" cy="634.3" rx="6.8" ry="4.3" fill="#4cb254" stroke="#f08a4a" stroke-width="1.4"/>
<text x="434.8" y="650.0" font-size="6.4" fill="#222" textLength="68.2" lengthAdjust="spacingAndGlyphs">Predicted Relationships</text>
<rect x="427.3" y="655.0" width="15.4" height="2.6" fill="#d9622b"/>
<rect x="427.3" y="663.1" width="15.4" height="2.6" fill="#3465c0"/>
<rect x="427.3" y="671.7" width="15.4" height="2.6" fill="#f2c31d"/>
<rect x="427.3" y="696.1" width="15.4" height="2.6" fill="#55595d"/>
<text x="445.9" y="659.3" font-size="6.4" fill="#222" textLength="54.3" lengthAdjust="spacingAndGlyphs">Leads to activation</text>
<text x="445.9" y="667.1" font-size="6.4" fill="#222" textLength="52.2" lengthAdjust="spacingAndGlyphs">Leads to inhibition</text>
<text x="445.9" y="675.0" font-size="6.4" fill="#222" textLength="71" lengthAdjust="spacingAndGlyphs">Finding inconsistent with</text>
<text x="445.9" y="682.6" font-size="6.4" fill="#222" textLength="58.6" lengthAdjust="spacingAndGlyphs">state of downstream</text>
<text x="445.9" y="690.7" font-size="6.4" fill="#222" textLength="25.8" lengthAdjust="spacingAndGlyphs">molecule</text>
<text x="445.9" y="698.3" font-size="6.4" fill="#222" textLength="56.3" lengthAdjust="spacingAndGlyphs">Effect not predicted</text></g>
<g id="sl"><line x1="531.6" x2="657" y1="425.4" y2="425.4" stroke="#444" stroke-width="0.5"/>
<text x="547.5" y="423.9" font-size="4.5" fill="#111" stroke="#111" stroke-width="0.03">Network Shapes</text>
<text x="617.1" y="423.9" font-size="4.5" fill="#111" stroke="#111" stroke-width="0.03">Path Designer Shapes</text>
<text x="555.9" y="433.8" font-size="4.4" fill="#111" stroke="#111" stroke-width="0.03">Canonical Pathway</text>
<path d="M546.3 429.2H551.3L550.0 432.2L551.3 435.2H546.3L547.5999999999999 432.2Z" stroke="#777" stroke-width="0.45" fill="none"/>
<text x="555.9" y="443.2" font-size="4.4" fill="#111" stroke="#111" stroke-width="0.03">Complex/Group/Other</text>
<circle cx="548.8" cy="441.6" r="3" stroke="#777" stroke-width="0.45" fill="none"/><circle cx="548.8" cy="441.6" r="2.3" stroke="#777" stroke-width="0.45" fill="none"/>
<text x="555.9" y="453.1" font-size="4.4" fill="#111" stroke="#111" stroke-width="0.03">Chemical/Drug/Toxicant</text>
<ellipse cx="548.8" cy="451.5" rx="2.6" ry="1.5" stroke="#777" stroke-width="0.45" fill="none"/>
<text x="555.9" y="462.5" font-size="4.4" fill="#111" stroke="#111" stroke-width="0.03">Cytokine</text>
<rect x="546.0" y="458.09999999999997" width="5.6" height="5.6" stroke="#777" stroke-width="0.45" fill="none"/>
<text x="555.9" y="472.1" font-size="4.4" fill="#111" stroke="#111" stroke-width="0.03">Disease</text>
<path d="M547.5999999999999 467.1H550.0V469.3H552.1999999999999V471.7H550.0V473.9H547.5999999999999V471.7H545.4V469.3H547.5999999999999Z" stroke="#777" stroke-width="0.45" fill="none"/>
<text x="555.9" y="481.5" font-size="4.4" fill="#111" stroke="#111" stroke-width="0.03">Enzyme</text>
<path d="M548.8 477.5L550.3 479.9L548.8 482.29999999999995L547.3 479.9Z" stroke="#777" stroke-width="0.45" fill="none"/>
<text x="555.9" y="489.8" font-size="4.4" fill="#111" stroke="#111" stroke-width="0.03">Function</text>
<circle cx="548.8" cy="488.2" r="3.6" stroke="#aaa" stroke-width="0.45" fill="none"/>
<text x="555.9" y="500.7" font-size="4.4" fill="#111" stroke="#111" stroke-width="0.03">Fusion gene/product</text>
<rect x="543.3" y="496.3" width="11" height="5.6" stroke="#aaa" stroke-width="0.45" fill="none"/><line x1="548.8" x2="548.8" y1="496.3" y2="501.90000000000003" stroke="#777" stroke-width="0.45"/>
<text x="555.9" y="509.9" font-size="4.4" fill="#111" stroke="#111" stroke-width="0.03">G-protein Coupled Receptor</text>
<rect x="547.0" y="505.3" width="3.6" height="6" rx="0.6" stroke="#777" stroke-width="0.45" fill="none"/>
<text x="555.9" y="519.8" font-size="4.4" fill="#111" stroke="#111" stroke-width="0.03">Growth Factor</text>
<rect x="546.0" y="515.4000000000001" width="5.6" height="5.6" stroke="#777" stroke-width="0.45" fill="none" stroke-dasharray="1.4 0.7"/>
<text x="555.9" y="529.2" font-size="4.4" fill="#111" stroke="#111" stroke-width="0.03">Ion Channel</text>
<rect x="547.0" y="524.4" width="3.6" height="6.4" stroke="#999" stroke-width="0.45" fill="none"/>
<text x="555.9" y="538.4" font-size="4.4" fill="#111" stroke="#111" stroke-width="0.03">Kinase</text>
<path d="M546.5999999999999 534.8H551.0L548.8 539.1999999999999Z" stroke="#777" stroke-width="0.45" fill="none"/>
<text x="555.9" y="545.6" font-size="4.4" fill="#111" stroke="#111" stroke-width="0.03">Ligand-dependent</text>
<rect x="545.8" y="544.6" width="6" height="3.4" rx="0.5" stroke="#777" stroke-width="0.45" fill="none"/>
<text x="555.9" y="550.4" font-size="4.4" fill="#111" stroke="#111" stroke-width="0.03">Nuclear Receptor</text>
<text x="555.9" y="557.6" font-size="4.4" fill="#111" stroke="#111" stroke-width="0.03">Mature microRNA</text>
<path d="M545.8 554.7H551.8Q550.8 557.8 548.8 557.8Q546.8 557.8 545.8 554.7Z" stroke="#777" stroke-width="0.45" fill="none"/>
<text x="555.9" y="566.8" font-size="4.4" fill="#111" stroke="#111" stroke-width="0.03">microRNA</text>
<path d="M545.8 562.6H551.8L550.8 567.8000000000001H546.8Z" stroke="#777" stroke-width="0.45" fill="none"/>
<text x="555.9" y="576.7" font-size="4.4" fill="#111" stroke="#111" stroke-width="0.03">Other</text>
<circle cx="548.8" cy="575.1" r="3" stroke="#777" stroke-width="0.45" fill="none"/>
<text x="555.9" y="586.1" font-size="4.4" fill="#111" stroke="#111" stroke-width="0.03">Peptidase</text>
<path d="M545.8 584.5L548.8 583.0L551.8 584.5L548.8 586.0Z" stroke="#777" stroke-width="0.45" fill="none"/>
<text x="555.9" y="595.5" font-size="4.4" fill="#111" stroke="#111" stroke-width="0.03">Phosphatase</text>
<path d="M548.8 590.6999999999999L552.0 596.5H545.5999999999999Z" stroke="#777" stroke-width="0.45" fill="none"/>
<text x="555.9" y="605.8" font-size="4.4" fill="#111" stroke="#111" stroke-width="0.03">Transcription Regulator</text>
<ellipse cx="548.8" cy="603.7" rx="3.2" ry="1.8" stroke="#777" stroke-width="0.45" fill="none"/>
<text x="555.9" y="615.0" font-size="4.4" fill="#111" stroke="#111" stroke-width="0.03">Translation Regulator</text>
<path d="M547.1999999999999 610.6H550.4L551.8 613.4L550.4 616.1999999999999H547.1999999999999L545.8 613.4Z" stroke="#777" stroke-width="0.45" fill="none"/>
<text x="555.9" y="624.0" font-size="4.4" fill="#111" stroke="#111" stroke-width="0.03">Transmembrane Receptor</text>
<ellipse cx="548.8" cy="622.4" rx="1.9" ry="3" stroke="#777" stroke-width="0.45" fill="none"/>
<text x="555.9" y="633.6" font-size="4.4" fill="#111" stroke="#111" stroke-width="0.03">Transporter</text>
<path d="M547.0 629H550.5999999999999L551.8 635H545.8Z" stroke="#777" stroke-width="0.45" fill="none"/>
<text x="627" y="433.3" font-size="4.4" fill="#111" stroke="#111" stroke-width="0.03">Canonical Pathway</text>
<path d="M617.5 428.7H622.5L621.2 431.7L622.5 434.7H617.5L618.8 431.7Z" stroke="#777" stroke-width="0.45" fill="none"/>
<text x="627" y="442.8" font-size="4.4" fill="#111" stroke="#111" stroke-width="0.03">Complex/Group/Other</text>
<circle cx="620" cy="441.2" r="3" stroke="#777" stroke-width="0.45" fill="none"/>
<text x="627" y="452.4" font-size="4.4" fill="#111" stroke="#111" stroke-width="0.03">Chemical/Toxicant</text>
<rect x="617" y="449.3" width="6" height="3" rx="0.6" stroke="#777" stroke-width="0.45" fill="none"/>
<text x="627" y="461.8" font-size="4.4" fill="#111" stroke="#111" stroke-width="0.03">Cytokine</text>
<path d="M616.8 457.59999999999997L618.2 457.4L620 460.2L621.8 457.4L623.2 457.59999999999997L621 461.2L620 463.59999999999997L619 461.2Z" stroke="#777" stroke-width="0.45" fill="none"/>
<text x="627" y="471.4" font-size="4.4" fill="#111" stroke="#111" stroke-width="0.03">Disease</text>
<path d="M618.8 466.40000000000003H621.2V468.6H623.4V471.0H621.2V473.2H618.8V471.0H616.6V468.6H618.8Z" stroke="#777" stroke-width="0.45" fill="none"/>
<text x="627" y="482.3" font-size="4.4" fill="#111" stroke="#111" stroke-width="0.03">Drug</text>
<rect x="617" y="479.3" width="6" height="2.8" rx="1.2" stroke="#777" stroke-width="0.45" fill="none"/><line x1="620" x2="620" y1="479.3" y2="482.09999999999997" stroke="#777" stroke-width="0.4"/>
<text x="627" y="491.7" font-size="4.4" fill="#111" stroke="#111" stroke-width="0.03">Enzyme</text>
<path d="M618.5 486.6Q620.8 486.3 620.3 488.90000000000003Q622.4 490.3 621.6 493.40000000000003Q619.4 492.1 619.4 489.5Q617.6 488.3 618.5 486.6Z" stroke="#777" stroke-width="0.45" fill="none"/>
<text x="627" y="500.3" font-size="4.4" fill="#111" stroke="#111" stroke-width="0.03">Function</text>
<path d="M623.4 498.7L622.3 499.7L622.4 501.1L621.0 501.0L620.0 502.1L619.0 501.0L617.6 501.1L617.7 499.7L616.6 498.7L617.7 497.7L617.6 496.3L619.0 496.4L620.0 495.3L621.0 496.4L622.4 496.3L622.3 497.7Z" stroke="#777" stroke-width="0.45" fill="none"/>
<text x="627" y="509.5" font-size="4.4" fill="#111" stroke="#111" stroke-width="0.03">Fusion gene/product</text>
<rect x="616.2" y="504.29999999999995" width="7.6" height="7.2" stroke="#aaa" stroke-width="0.45" fill="none"/><line x1="620" x2="620" y1="504.29999999999995" y2="511.5" stroke="#777" stroke-width="0.45"/>
<text x="627" y="518.7" font-size="4.4" fill="#111" stroke="#111" stroke-width="0.03">G-protein Coupled Receptor</text>
<path d="M617.8 514.7Q618.2 517.1 619.5 517.5V520.1H620.5V517.5Q621.8 517.1 622.2 514.7L621.2 514.7Q621 516.3000000000001 620 516.5Q619 516.3000000000001 618.8 514.7Z" stroke="#777" stroke-width="0.45" fill="none"/>
<text x="627" y="528.7" font-size="4.4" fill="#111" stroke="#111" stroke-width="0.03">Growth Factor</text>
<path d="M615.6 523.5L617.4 523.2L620 526.7L622.6 523.2L624.4 523.5L621.2 528.3000000000001L620 531.3000000000001L618.8 528.3000000000001Z" stroke="#777" stroke-width="0.45" fill="none"/>
<text x="627" y="537.9" font-size="4.4" fill="#111" stroke="#111" stroke-width="0.03">Ion Channel</text>
<rect x="618.2" y="533.3" width="3.6" height="6" rx="0.6" stroke="#777" stroke-width="0.45" fill="none"/>
<text x="627" y="547.4" font-size="4.4" fill="#111" stroke="#111" stroke-width="0.03">Kinase</text>
<circle cx="618.6" cy="544.1999999999999" r="1.2" stroke="#777" stroke-width="0.45" fill="none"/><circle cx="621.4" cy="544.1999999999999" r="1.2" stroke="#777" stroke-width="0.45" fill="none"/><circle cx="620" cy="547.3" r="1.3" stroke="#777" stroke-width="0.45" fill="none"/>
<text x="627" y="554.4" font-size="4.4" fill="#111" stroke="#111" stroke-width="0.03">Ligand-dependent</text>
<rect x="616.8" y="554.0" width="6.4" height="2.6" rx="1" transform="rotate(-35 620 555.3)" stroke="#777" stroke-width="0.45" fill="none"/>
<text x="627" y="559.4" font-size="4.4" fill="#111" stroke="#111" stroke-width="0.03">Nuclear Receptor</text>
<text x="627" y="566.4" font-size="4.4" fill="#111" stroke="#111" stroke-width="0.03">Mature microRNA</text>
<path d="M617.2 563.8V566.4H622.8V563.8M618.6 564.1999999999999V566.4M620 564.1999999999999V566.4M621.4 564.1999999999999V566.4" stroke="#999" stroke-width="0.4" fill="none"/>
<text x="627" y="575.6" font-size="4.4" fill="#111" stroke="#111" stroke-width="0.03">microRNA</text>
<circle cx="620" cy="572.8" r="1.5" stroke="#777" stroke-width="0.45" fill="none"/><path d="M620 574.3V576.4M617.4 576.6H622.6" stroke="#777" stroke-width="0.45" fill="none"/>
<text x="627" y="585.2" font-size="4.4" fill="#111" stroke="#111" stroke-width="0.03">Peptidase</text>
<path d="M619 581.0H622.6V586.2H619Q616.6 585.6 616.6 583.6Q616.6 581.6 619 581.0Z" stroke="#777" stroke-width="0.45" fill="none"/>
<text x="627" y="594.4" font-size="4.4" fill="#111" stroke="#111" stroke-width="0.03">Phosphatase</text>
<path d="M617.4 590.4Q620 589.4 622.6 591.1999999999999V594.8Q620 596.4 617.8 594.8Z" stroke="#777" stroke-width="0.45" fill="none"/><circle cx="617.6" cy="590.1999999999999" r="0.9" stroke="#777" stroke-width="0.45" fill="none"/>
<text x="627" y="604.7" font-size="4.4" fill="#111" stroke="#111" stroke-width="0.03">Transcription Regulator</text>
<path d="M616.6 601.3000000000001H619.4V604.9H616.6ZM620.6 601.3000000000001H623.4V604.9H620.6Z" stroke="#777" stroke-width="0.45" fill="none"/>
<text x="627" y="613.9" font-size="4.4" fill="#111" stroke="#111" stroke-width="0.03">Translation Regulator</text>
<rect x="616.8" y="610.9" width="6.4" height="2.8" rx="1.4" stroke="#777" stroke-width="0.45" fill="none"/>
<text x="627" y="623.1" font-size="4.4" fill="#111" stroke="#111" stroke-width="0.03">Transmembrane Receptor</text>
<path d="M617.8 618.5L620 621.1L622.2 618.5M620 621.1V624.7M618.7 622.7H621.3" stroke="#777" stroke-width="0.45" fill="none"/>
<text x="627" y="632.3" font-size="4.4" fill="#111" stroke="#111" stroke-width="0.03">Transporter</text>
<path d="M617 628.3000000000001H623V629.3000000000001H622.2L621.6 633.7H618.4L617.8 629.3000000000001H617Z" stroke="#777" stroke-width="0.45" fill="none"/></g>
<g id="rl"><line x1="555.2" x2="572.4" y1="674.5" y2="674.5" stroke="#bdbdbd" stroke-width="0.7"/>
<circle cx="552.1" cy="674.5" r="3.1" stroke="#6a6a6a" stroke-width="0.5" fill="#fff"/><circle cx="575.5" cy="674.5" r="3.1" stroke="#6a6a6a" stroke-width="0.5" fill="#fff"/>
<text x="552.1" y="675.7" font-size="3.3" text-anchor="middle" fill="#333">A</text><text x="575.5" y="675.7" font-size="3.3" text-anchor="middle" fill="#333">B</text>
<text x="581" y="664.7" font-size="4.35" fill="#111" stroke="#111" stroke-width="0.03">Chemical-chemical interactions, chemical-</text>
<text x="581" y="670.0" font-size="4.35" fill="#111" stroke="#111" stroke-width="0.03">protein interactions, correlation, protein-</text>
<text x="581" y="675.2" font-size="4.35" fill="#111" stroke="#111" stroke-width="0.03">protein interactions, RNA-RNA interactions,</text>
<text x="581" y="680.4" font-size="4.35" fill="#111" stroke="#111" stroke-width="0.03">nontargeting interactions</text>
<line x1="555.2" x2="572.4" y1="692.5" y2="692.5" stroke="#5a5a5a" stroke-width="0.7"/>
<circle cx="552.1" cy="692.5" r="3.1" stroke="#6a6a6a" stroke-width="0.5" fill="#fff"/><circle cx="575.5" cy="692.5" r="3.1" stroke="#6a6a6a" stroke-width="0.5" fill="#fff"/>
<text x="552.1" y="693.7" font-size="3.3" text-anchor="middle" fill="#333">A</text><text x="575.5" y="693.7" font-size="3.3" text-anchor="middle" fill="#333">B</text>
<path d="M571.8 692.5L569.4 691.5V693.5Z" fill="#4a4a4a"/>
<text x="581" y="687.1" font-size="4.35" fill="#111" stroke="#111" stroke-width="0.03">Activation, causation, expression,</text>
<text x="581" y="692.3" font-size="4.35" fill="#111" stroke="#111" stroke-width="0.03">localization, membership, modification</text>
<text x="581" y="697.5" font-size="4.35" fill="#111" stroke="#111" stroke-width="0.03">molecular cleavage, phophorylation,</text>
<text x="581" y="702.8" font-size="4.35" fill="#111" stroke="#111" stroke-width="0.03">protein-DNA interactions, protein-RNA</text>
<text x="581" y="708.1" font-size="4.35" fill="#111" stroke="#111" stroke-width="0.03">interactions, regulation of binding,</text>
<text x="581" y="713.3" font-size="4.35" fill="#111" stroke="#111" stroke-width="0.03">transcription</text>
<line x1="555.2" x2="572.4" y1="717.5" y2="717.5" stroke="#5a5a5a" stroke-width="0.7"/>
<circle cx="552.1" cy="717.5" r="3.1" stroke="#6a6a6a" stroke-width="0.5" fill="#fff"/><circle cx="575.5" cy="717.5" r="3.1" stroke="#6a6a6a" stroke-width="0.5" fill="#fff"/>
<text x="552.1" y="718.7" font-size="3.3" text-anchor="middle" fill="#333">A</text><text x="575.5" y="718.7" font-size="3.3" text-anchor="middle" fill="#333">B</text>
<line x1="571.5" x2="571.5" y1="715.9" y2="719.1" stroke="#4a4a4a" stroke-width="0.6"/>
<text x="581" y="718.8" font-size="4.35" fill="#111" stroke="#111" stroke-width="0.03">Inhibition, ubiquitination</text>
<line x1="555.2" x2="572.4" y1="731.5" y2="731.5" stroke="#5a5a5a" stroke-width="0.7"/>
<circle cx="552.1" cy="731.5" r="3.1" stroke="#6a6a6a" stroke-width="0.5" fill="#fff"/><circle cx="575.5" cy="731.5" r="3.1" stroke="#6a6a6a" stroke-width="0.5" fill="#fff"/>
<text x="552.1" y="732.7" font-size="3.3" text-anchor="middle" fill="#333">A</text><text x="575.5" y="732.7" font-size="3.3" text-anchor="middle" fill="#333">B</text>
<path d="M571.8 731.5L569.5999999999999 730.5V732.5Z" fill="#4a4a4a"/><line x1="569.3" x2="569.3" y1="730.0" y2="733.0" stroke="#4a4a4a" stroke-width="0.5"/>
<text x="581" y="733.1" font-size="4.35" fill="#111" stroke="#111" stroke-width="0.03">Inhibits and acts on</text>
<line x1="555.2" x2="572.4" y1="744.5" y2="744.5" stroke="#5a5a5a" stroke-width="0.7"/>
<circle cx="552.1" cy="744.5" r="3.1" stroke="#6a6a6a" stroke-width="0.5" fill="#fff"/><circle cx="575.5" cy="744.5" r="3.1" stroke="#6a6a6a" stroke-width="0.5" fill="#fff"/>
<text x="552.1" y="745.7" font-size="3.3" text-anchor="middle" fill="#333">A</text><text x="575.5" y="745.7" font-size="3.3" text-anchor="middle" fill="#333">B</text>
<circle cx="570.5999999999999" cy="744.5" r="1" fill="#fff" stroke="#4a4a4a" stroke-width="0.45"/>
<text x="581" y="745.8" font-size="4.35" fill="#111" stroke="#111" stroke-width="0.03">Leads to</text>
<line x1="555.2" x2="572.4" y1="757.5" y2="757.5" stroke="#5a5a5a" stroke-width="0.7"/>
<circle cx="552.1" cy="757.5" r="3.1" stroke="#6a6a6a" stroke-width="0.5" fill="#fff"/><circle cx="575.5" cy="757.5" r="3.1" stroke="#6a6a6a" stroke-width="0.5" fill="#fff"/>
<text x="552.1" y="758.7" font-size="3.3" text-anchor="middle" fill="#333">A</text><text x="575.5" y="758.7" font-size="3.3" text-anchor="middle" fill="#333">B</text>
<line x1="569.5999999999999" x2="569.5999999999999" y1="756.0" y2="759.0" stroke="#aaa" stroke-width="0.45"/>
<text x="581" y="758.9" font-size="4.35" fill="#111" stroke="#111" stroke-width="0.03">Processing yields</text>
<line x1="555.2" x2="572.4" y1="771.5" y2="771.5" stroke="#5a5a5a" stroke-width="0.7"/>
<circle cx="552.1" cy="771.5" r="3.1" stroke="#6a6a6a" stroke-width="0.5" fill="#fff"/><circle cx="575.5" cy="771.5" r="3.1" stroke="#6a6a6a" stroke-width="0.5" fill="#fff"/>
<text x="552.1" y="772.7" font-size="3.3" text-anchor="middle" fill="#333">A</text><text x="575.5" y="772.7" font-size="3.3" text-anchor="middle" fill="#333">B</text>
<path d="M571.8 771.5L569.4 770.5V772.5Z" fill="#4a4a4a"/>
<text x="581" y="772.7" font-size="4.35" fill="#111" stroke="#111" stroke-width="0.03">RNA-RNA interactions, micro RNA</text>
<text x="581" y="778.2" font-size="4.35" fill="#111" stroke="#111" stroke-width="0.03">interactions</text>
<line x1="555.2" x2="572.4" y1="785.5" y2="785.5" stroke="#5a5a5a" stroke-width="0.7"/>
<circle cx="552.1" cy="785.5" r="3.1" stroke="#6a6a6a" stroke-width="0.5" fill="#fff"/><circle cx="575.5" cy="785.5" r="3.1" stroke="#6a6a6a" stroke-width="0.5" fill="#fff"/>
<text x="552.1" y="786.7" font-size="3.3" text-anchor="middle" fill="#333">A</text><text x="575.5" y="786.7" font-size="3.3" text-anchor="middle" fill="#333">B</text>
<rect x="568.1999999999999" y="784.6" width="1.3" height="1.8" fill="#fff"/>
<text x="581" y="787.2" font-size="4.35" fill="#111" stroke="#111" stroke-width="0.03">Translocation</text>
<line x1="555.2" x2="572.4" y1="798.5" y2="798.5" stroke="#5a5a5a" stroke-width="0.7"/>
<circle cx="552.1" cy="798.5" r="3.1" stroke="#6a6a6a" stroke-width="0.5" fill="#fff"/><circle cx="575.5" cy="798.5" r="3.1" stroke="#6a6a6a" stroke-width="0.5" fill="#fff"/>
<text x="552.1" y="799.7" font-size="3.3" text-anchor="middle" fill="#333">A</text><text x="575.5" y="799.7" font-size="3.3" text-anchor="middle" fill="#333">B</text>
<path d="M571.8 798.5L569.4 797.5V799.5Z" fill="#4a4a4a"/>
<text x="581" y="800.3" font-size="4.35" fill="#111" stroke="#111" stroke-width="0.03">Reaction</text>
<line x1="555.2" x2="572.4" y1="820.5" y2="820.5" stroke="#5a5a5a" stroke-width="0.7"/>
<circle cx="552.1" cy="820.5" r="3.1" stroke="#6a6a6a" stroke-width="0.5" fill="#fff"/><circle cx="575.5" cy="820.5" r="3.1" stroke="#6a6a6a" stroke-width="0.5" fill="#fff"/>
<text x="552.1" y="821.7" font-size="3.3" text-anchor="middle" fill="#333">A</text><text x="575.5" y="821.7" font-size="3.3" text-anchor="middle" fill="#333">B</text>
<path d="M571.8 820.5L569.4 819.5V821.5Z" fill="#4a4a4a"/>
<text x="581" y="821.7" font-size="4.35" fill="#111" stroke="#111" stroke-width="0.03">Enzyme catalysis</text>
<circle cx="563" cy="810.5" r="3.1" stroke="#6a6a6a" stroke-width="0.5" fill="#fff"/><text x="563" y="811.7" font-size="3.3" text-anchor="middle" fill="#333">C</text><line x1="563.5" x2="563.5" y1="813.6" y2="820.5" stroke="#777" stroke-width="0.6"/>
<circle cx="563" cy="835" r="3.1" stroke="#6a6a6a" stroke-width="0.5" fill="#fff"/><text x="563" y="836.2" font-size="3.3" text-anchor="middle" fill="#333">A</text><path d="M560.4 833.2A3.4 3.4 0 1 1 565.6 833.2" stroke="#555" stroke-width="0.5" fill="none"/><path d="M560.2 834.4L559.6 832L561.8 832.6Z" fill="#555"/>
<text x="581" y="835.1" font-size="4.35" fill="#111" stroke="#111" stroke-width="0.03">Molecule interacts with itself (e.g.,</text>
<text x="581" y="840.4" font-size="4.35" fill="#111" stroke="#111" stroke-width="0.03">autophophorylation, deimerization)</text>
<line x1="555.2" x2="572.4" y1="849.5" y2="849.5" stroke="#444" stroke-width="0.7" stroke-dasharray="0.8 0.9"/>
<circle cx="552.1" cy="849.5" r="3.1" stroke="#6a6a6a" stroke-width="0.5" fill="#fff"/><circle cx="575.5" cy="849.5" r="3.1" stroke="#6a6a6a" stroke-width="0.5" fill="#fff"/>
<text x="552.1" y="850.7" font-size="3.3" text-anchor="middle" fill="#333">A</text><text x="575.5" y="850.7" font-size="3.3" text-anchor="middle" fill="#333">B</text>
<text x="581" y="851.5" font-size="4.35" fill="#111" stroke="#111" stroke-width="0.03">inferred correlation from machine-based learning</text>
<line x1="553.2" x2="575.5" y1="861.5" y2="861.5" stroke="#5a5a5a" stroke-width="0.7"/>
<text x="581" y="862.9" font-size="4.35" fill="#111" stroke="#111" stroke-width="0.03">Direct interaction</text>
<line x1="553.2" x2="575.5" y1="869.5" y2="869.5" stroke="#b5b5b5" stroke-width="0.7" stroke-dasharray="1.6 1.4"/>
<text x="581" y="871.2" font-size="4.35" fill="#111" stroke="#111" stroke-width="0.03">Indirect interaction</text></g>
</svg>
</body></html>
